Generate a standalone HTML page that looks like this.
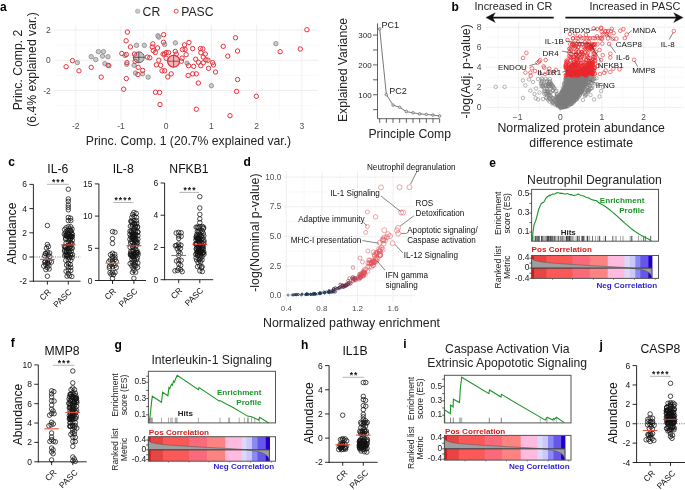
<!DOCTYPE html>
<html><head><meta charset="utf-8"><style>
html,body{margin:0;padding:0;background:#fff;}
svg{display:block;font-family:"Liberation Sans",sans-serif;will-change:transform;}
</style></head><body>
<svg width="685" height="490" viewBox="0 0 685 490">
<rect width="685" height="490" fill="#fff"/>
<line x1="98.4" y1="25" x2="98.4" y2="119.8" stroke="#e8e8e8" stroke-width="0.6" stroke-dasharray="1 1.2"/>
<line x1="143.6" y1="25" x2="143.6" y2="119.8" stroke="#e8e8e8" stroke-width="0.6" stroke-dasharray="1 1.2"/>
<line x1="188.8" y1="25" x2="188.8" y2="119.8" stroke="#e8e8e8" stroke-width="0.6" stroke-dasharray="1 1.2"/>
<line x1="234" y1="25" x2="234" y2="119.8" stroke="#e8e8e8" stroke-width="0.6" stroke-dasharray="1 1.2"/>
<line x1="279.2" y1="25" x2="279.2" y2="119.8" stroke="#e8e8e8" stroke-width="0.6" stroke-dasharray="1 1.2"/>
<line x1="54" y1="45.2" x2="318" y2="45.2" stroke="#e8e8e8" stroke-width="0.6" stroke-dasharray="1 1.2"/>
<line x1="54" y1="75.4" x2="318" y2="75.4" stroke="#e8e8e8" stroke-width="0.6" stroke-dasharray="1 1.2"/>
<line x1="54" y1="105.6" x2="318" y2="105.6" stroke="#e8e8e8" stroke-width="0.6" stroke-dasharray="1 1.2"/>
<line x1="75.8" y1="25" x2="75.8" y2="119.8" stroke="#ebebeb" stroke-width="0.8"/>
<line x1="121" y1="25" x2="121" y2="119.8" stroke="#ebebeb" stroke-width="0.8"/>
<line x1="166.2" y1="25" x2="166.2" y2="119.8" stroke="#ebebeb" stroke-width="0.8"/>
<line x1="211.4" y1="25" x2="211.4" y2="119.8" stroke="#ebebeb" stroke-width="0.8"/>
<line x1="256.6" y1="25" x2="256.6" y2="119.8" stroke="#ebebeb" stroke-width="0.8"/>
<line x1="301.8" y1="25" x2="301.8" y2="119.8" stroke="#ebebeb" stroke-width="0.8"/>
<line x1="54" y1="30.1" x2="318" y2="30.1" stroke="#ebebeb" stroke-width="0.8"/>
<line x1="54" y1="60.3" x2="318" y2="60.3" stroke="#ebebeb" stroke-width="0.8"/>
<line x1="54" y1="90.5" x2="318" y2="90.5" stroke="#ebebeb" stroke-width="0.8"/>
<text x="50.8" y="33.1" font-size="8.5" text-anchor="end" fill="#4d4d4d">2</text>
<text x="50.8" y="63.3" font-size="8.5" text-anchor="end" fill="#4d4d4d">0</text>
<text x="50.8" y="93.5" font-size="8.5" text-anchor="end" fill="#4d4d4d">-2</text>
<text x="75.8" y="129.1" font-size="8.5" text-anchor="middle" fill="#4d4d4d">-2</text>
<text x="121" y="129.1" font-size="8.5" text-anchor="middle" fill="#4d4d4d">-1</text>
<text x="166.2" y="129.1" font-size="8.5" text-anchor="middle" fill="#4d4d4d">0</text>
<text x="211.4" y="129.1" font-size="8.5" text-anchor="middle" fill="#4d4d4d">1</text>
<text x="256.6" y="129.1" font-size="8.5" text-anchor="middle" fill="#4d4d4d">2</text>
<text x="301.8" y="129.1" font-size="8.5" text-anchor="middle" fill="#4d4d4d">3</text>
<text x="188.5" y="145.1" font-size="12.2" text-anchor="middle" fill="#222">Princ. Comp. 1 (20.7% explained var.)</text>
<text x="22.1" y="70" font-size="12.2" text-anchor="middle" fill="#222" transform="rotate(-90 22.1 70)">Princ. Comp. 2</text>
<text x="36.2" y="69.5" font-size="12.2" text-anchor="middle" fill="#222" transform="rotate(-90 36.2 69.5)">(6.4% explained var.)</text>
<path d="M135.4 11.2a2.3 2.3 0 1 0 4.6 0a2.3 2.3 0 1 0 -4.6 0" fill="#c6c6c6" stroke="#a8a8a8" stroke-width="0.6"/>
<text x="142.6" y="15.5" font-size="12.2" fill="#222">CR</text>
<path d="M174.2 11.2a2 2 0 1 0 4 0a2 2 0 1 0 -4 0" fill="none" stroke="#ec2f3a" stroke-width="0.9"/>
<text x="181.2" y="15.5" font-size="12.2" fill="#222">PASC</text>
<text x="0" y="11.4" font-size="12" font-weight="bold">a</text>
<path d="M133.3 57.3a5.5 5.5 0 1 0 11 0a5.5 5.5 0 1 0 -11 0" fill="#c4c4c4" stroke="#5a5a5a" stroke-width="0.9"/>
<line x1="133.3" y1="57.3" x2="144.3" y2="57.3" stroke="#333" stroke-width="0.7"/>
<line x1="138.8" y1="51.8" x2="138.8" y2="62.8" stroke="#333" stroke-width="0.7"/>
<path d="M167.6 61.2a6 6 0 1 0 12 0a6 6 0 1 0 -12 0" fill="#f6b3b7" stroke="#e8212b" stroke-width="1.1"/>
<line x1="167.6" y1="61.2" x2="179.6" y2="61.2" stroke="#6b2326" stroke-width="0.7"/>
<line x1="173.6" y1="55.2" x2="173.6" y2="67.2" stroke="#6b2326" stroke-width="0.7"/>
<path d="M75.15 62.64a2.2 2.2 0 1 0 4.4 0a2.2 2.2 0 1 0 -4.4 0M89.02 56.73a2.2 2.2 0 1 0 4.4 0a2.2 2.2 0 1 0 -4.4 0M93.51 59.58a2.2 2.2 0 1 0 4.4 0a2.2 2.2 0 1 0 -4.4 0M96.17 51.62a2.2 2.2 0 1 0 4.4 0a2.2 2.2 0 1 0 -4.4 0M101.27 51.62a2.2 2.2 0 1 0 4.4 0a2.2 2.2 0 1 0 -4.4 0M100.25 56.11a2.2 2.2 0 1 0 4.4 0a2.2 2.2 0 1 0 -4.4 0M105.76 56.73a2.2 2.2 0 1 0 4.4 0a2.2 2.2 0 1 0 -4.4 0M102.7 63.67a2.2 2.2 0 1 0 4.4 0a2.2 2.2 0 1 0 -4.4 0M106.78 65.71a2.2 2.2 0 1 0 4.4 0a2.2 2.2 0 1 0 -4.4 0M122.7 55.5a2.2 2.2 0 1 0 4.4 0a2.2 2.2 0 1 0 -4.4 0M124.53 64.28a2.2 2.2 0 1 0 4.4 0a2.2 2.2 0 1 0 -4.4 0M134.33 45.3a2.2 2.2 0 1 0 4.4 0a2.2 2.2 0 1 0 -4.4 0M142.09 45.3a2.2 2.2 0 1 0 4.4 0a2.2 2.2 0 1 0 -4.4 0M131.88 65.3a2.2 2.2 0 1 0 4.4 0a2.2 2.2 0 1 0 -4.4 0M133.31 73.05a2.2 2.2 0 1 0 4.4 0a2.2 2.2 0 1 0 -4.4 0M140.45 73.87a2.2 2.2 0 1 0 4.4 0a2.2 2.2 0 1 0 -4.4 0M145.96 77.13a2.2 2.2 0 1 0 4.4 0a2.2 2.2 0 1 0 -4.4 0M155.76 35.71a2.2 2.2 0 1 0 4.4 0a2.2 2.2 0 1 0 -4.4 0M156.58 37.13a2.2 2.2 0 1 0 4.4 0a2.2 2.2 0 1 0 -4.4 0M162.49 44.48a2.2 2.2 0 1 0 4.4 0a2.2 2.2 0 1 0 -4.4 0M173.11 42.85a2.2 2.2 0 1 0 4.4 0a2.2 2.2 0 1 0 -4.4 0M184.9 63.3a2.2 2.2 0 1 0 4.4 0a2.2 2.2 0 1 0 -4.4 0M209.2 85.7a2.2 2.2 0 1 0 4.4 0a2.2 2.2 0 1 0 -4.4 0M273.7 43.7a2.2 2.2 0 1 0 4.4 0a2.2 2.2 0 1 0 -4.4 0" fill="#cbcbcb" stroke="#8a8a8a" stroke-width="0.85"/>
<path d="M63.92 66.73a2.2 2.2 0 1 0 4.4 0a2.2 2.2 0 1 0 -4.4 0M70.25 60.6a2.2 2.2 0 1 0 4.4 0a2.2 2.2 0 1 0 -4.4 0M76.78 70.81a2.2 2.2 0 1 0 4.4 0a2.2 2.2 0 1 0 -4.4 0M89.02 67.34a2.2 2.2 0 1 0 4.4 0a2.2 2.2 0 1 0 -4.4 0M99.02 77.13a2.2 2.2 0 1 0 4.4 0a2.2 2.2 0 1 0 -4.4 0M105.96 65.3a2.2 2.2 0 1 0 4.4 0a2.2 2.2 0 1 0 -4.4 0M125.15 32.03a2.2 2.2 0 1 0 4.4 0a2.2 2.2 0 1 0 -4.4 0M123.92 40.81a2.2 2.2 0 1 0 4.4 0a2.2 2.2 0 1 0 -4.4 0M128.21 46.93a2.2 2.2 0 1 0 4.4 0a2.2 2.2 0 1 0 -4.4 0M119.64 53.46a2.2 2.2 0 1 0 4.4 0a2.2 2.2 0 1 0 -4.4 0M124.13 54.48a2.2 2.2 0 1 0 4.4 0a2.2 2.2 0 1 0 -4.4 0M124.74 62.64a2.2 2.2 0 1 0 4.4 0a2.2 2.2 0 1 0 -4.4 0M124.13 78.56a2.2 2.2 0 1 0 4.4 0a2.2 2.2 0 1 0 -4.4 0M121.47 89.18a2.2 2.2 0 1 0 4.4 0a2.2 2.2 0 1 0 -4.4 0M132.29 54.07a2.2 2.2 0 1 0 4.4 0a2.2 2.2 0 1 0 -4.4 0M132.9 61.22a2.2 2.2 0 1 0 4.4 0a2.2 2.2 0 1 0 -4.4 0M135.96 67.34a2.2 2.2 0 1 0 4.4 0a2.2 2.2 0 1 0 -4.4 0M140.45 70.4a2.2 2.2 0 1 0 4.4 0a2.2 2.2 0 1 0 -4.4 0M135.76 74.48a2.2 2.2 0 1 0 4.4 0a2.2 2.2 0 1 0 -4.4 0M145.15 57.13a2.2 2.2 0 1 0 4.4 0a2.2 2.2 0 1 0 -4.4 0M147.6 57.75a2.2 2.2 0 1 0 4.4 0a2.2 2.2 0 1 0 -4.4 0M150.66 43.87a2.2 2.2 0 1 0 4.4 0a2.2 2.2 0 1 0 -4.4 0M150.04 46.93a2.2 2.2 0 1 0 4.4 0a2.2 2.2 0 1 0 -4.4 0M155.35 47.95a2.2 2.2 0 1 0 4.4 0a2.2 2.2 0 1 0 -4.4 0M153.11 52.44a2.2 2.2 0 1 0 4.4 0a2.2 2.2 0 1 0 -4.4 0M151.07 50.6a2.2 2.2 0 1 0 4.4 0a2.2 2.2 0 1 0 -4.4 0M161.47 34.69a2.2 2.2 0 1 0 4.4 0a2.2 2.2 0 1 0 -4.4 0M161.27 42.24a2.2 2.2 0 1 0 4.4 0a2.2 2.2 0 1 0 -4.4 0M156.58 60.2a2.2 2.2 0 1 0 4.4 0a2.2 2.2 0 1 0 -4.4 0M154.13 64.89a2.2 2.2 0 1 0 4.4 0a2.2 2.2 0 1 0 -4.4 0M158.41 65.3a2.2 2.2 0 1 0 4.4 0a2.2 2.2 0 1 0 -4.4 0M159.84 70.81a2.2 2.2 0 1 0 4.4 0a2.2 2.2 0 1 0 -4.4 0M162.49 70.81a2.2 2.2 0 1 0 4.4 0a2.2 2.2 0 1 0 -4.4 0M165.56 76.93a2.2 2.2 0 1 0 4.4 0a2.2 2.2 0 1 0 -4.4 0M169.02 73.87a2.2 2.2 0 1 0 4.4 0a2.2 2.2 0 1 0 -4.4 0M153.31 92.24a2.2 2.2 0 1 0 4.4 0a2.2 2.2 0 1 0 -4.4 0M157.39 92.44a2.2 2.2 0 1 0 4.4 0a2.2 2.2 0 1 0 -4.4 0M157.8 104.48a2.2 2.2 0 1 0 4.4 0a2.2 2.2 0 1 0 -4.4 0M160.86 54.07a2.2 2.2 0 1 0 4.4 0a2.2 2.2 0 1 0 -4.4 0M163.92 52.64a2.2 2.2 0 1 0 4.4 0a2.2 2.2 0 1 0 -4.4 0M166.37 52.64a2.2 2.2 0 1 0 4.4 0a2.2 2.2 0 1 0 -4.4 0M173.11 51.42a2.2 2.2 0 1 0 4.4 0a2.2 2.2 0 1 0 -4.4 0M174.13 54.07a2.2 2.2 0 1 0 4.4 0a2.2 2.2 0 1 0 -4.4 0M163.92 58.16a2.2 2.2 0 1 0 4.4 0a2.2 2.2 0 1 0 -4.4 0M162.29 54.07a2.2 2.2 0 1 0 4.4 0a2.2 2.2 0 1 0 -4.4 0M182.29 44.89a2.2 2.2 0 1 0 4.4 0a2.2 2.2 0 1 0 -4.4 0M186.78 42.44a2.2 2.2 0 1 0 4.4 0a2.2 2.2 0 1 0 -4.4 0M180.25 49.58a2.2 2.2 0 1 0 4.4 0a2.2 2.2 0 1 0 -4.4 0M182.9 49.38a2.2 2.2 0 1 0 4.4 0a2.2 2.2 0 1 0 -4.4 0M183.92 54.69a2.2 2.2 0 1 0 4.4 0a2.2 2.2 0 1 0 -4.4 0M179.84 58.16a2.2 2.2 0 1 0 4.4 0a2.2 2.2 0 1 0 -4.4 0M179.23 61.22a2.2 2.2 0 1 0 4.4 0a2.2 2.2 0 1 0 -4.4 0M190.45 48.56a2.2 2.2 0 1 0 4.4 0a2.2 2.2 0 1 0 -4.4 0M186.37 65.71a2.2 2.2 0 1 0 4.4 0a2.2 2.2 0 1 0 -4.4 0M185.96 75.5a2.2 2.2 0 1 0 4.4 0a2.2 2.2 0 1 0 -4.4 0M190.45 73.87a2.2 2.2 0 1 0 4.4 0a2.2 2.2 0 1 0 -4.4 0M194.13 73.87a2.2 2.2 0 1 0 4.4 0a2.2 2.2 0 1 0 -4.4 0M191.47 66.32a2.2 2.2 0 1 0 4.4 0a2.2 2.2 0 1 0 -4.4 0M193.51 59.18a2.2 2.2 0 1 0 4.4 0a2.2 2.2 0 1 0 -4.4 0M196.17 62.24a2.2 2.2 0 1 0 4.4 0a2.2 2.2 0 1 0 -4.4 0M198.21 48.56a2.2 2.2 0 1 0 4.4 0a2.2 2.2 0 1 0 -4.4 0M200.66 48.97a2.2 2.2 0 1 0 4.4 0a2.2 2.2 0 1 0 -4.4 0M198.62 52.64a2.2 2.2 0 1 0 4.4 0a2.2 2.2 0 1 0 -4.4 0M203.11 54.07a2.2 2.2 0 1 0 4.4 0a2.2 2.2 0 1 0 -4.4 0M201.07 57.13a2.2 2.2 0 1 0 4.4 0a2.2 2.2 0 1 0 -4.4 0M203.72 59.79a2.2 2.2 0 1 0 4.4 0a2.2 2.2 0 1 0 -4.4 0M205.76 60.2a2.2 2.2 0 1 0 4.4 0a2.2 2.2 0 1 0 -4.4 0M201.07 62.85a2.2 2.2 0 1 0 4.4 0a2.2 2.2 0 1 0 -4.4 0M198.62 65.71a2.2 2.2 0 1 0 4.4 0a2.2 2.2 0 1 0 -4.4 0M206.37 68.36a2.2 2.2 0 1 0 4.4 0a2.2 2.2 0 1 0 -4.4 0M210.45 62.64a2.2 2.2 0 1 0 4.4 0a2.2 2.2 0 1 0 -4.4 0M211.27 64.89a2.2 2.2 0 1 0 4.4 0a2.2 2.2 0 1 0 -4.4 0M213.31 72.03a2.2 2.2 0 1 0 4.4 0a2.2 2.2 0 1 0 -4.4 0M196.17 83.05a2.2 2.2 0 1 0 4.4 0a2.2 2.2 0 1 0 -4.4 0M194.13 109.18a2.2 2.2 0 1 0 4.4 0a2.2 2.2 0 1 0 -4.4 0M221.07 46.32a2.2 2.2 0 1 0 4.4 0a2.2 2.2 0 1 0 -4.4 0M225.56 56.11a2.2 2.2 0 1 0 4.4 0a2.2 2.2 0 1 0 -4.4 0M233.31 37.75a2.2 2.2 0 1 0 4.4 0a2.2 2.2 0 1 0 -4.4 0M235.35 51.01a2.2 2.2 0 1 0 4.4 0a2.2 2.2 0 1 0 -4.4 0M235.35 79.58a2.2 2.2 0 1 0 4.4 0a2.2 2.2 0 1 0 -4.4 0M234.33 91.42a2.2 2.2 0 1 0 4.4 0a2.2 2.2 0 1 0 -4.4 0M227.8 115.71a2.2 2.2 0 1 0 4.4 0a2.2 2.2 0 1 0 -4.4 0M254.13 96.32a2.2 2.2 0 1 0 4.4 0a2.2 2.2 0 1 0 -4.4 0M304.7 29.7a2.2 2.2 0 1 0 4.4 0a2.2 2.2 0 1 0 -4.4 0M298.1 49a2.2 2.2 0 1 0 4.4 0a2.2 2.2 0 1 0 -4.4 0M277.9 51.7a2.2 2.2 0 1 0 4.4 0a2.2 2.2 0 1 0 -4.4 0" fill="none" stroke="#ec2f3a" stroke-width="1"/>
<line x1="377.5" y1="23.4" x2="377.5" y2="118.7" stroke="#3a3a3a" stroke-width="0.8"/>
<line x1="377.5" y1="118.7" x2="439.6" y2="118.7" stroke="#3a3a3a" stroke-width="0.8"/>
<line x1="373" y1="109.67" x2="377.5" y2="109.67" stroke="#3a3a3a" stroke-width="0.8"/>
<line x1="373" y1="94.75" x2="377.5" y2="94.75" stroke="#3a3a3a" stroke-width="0.8"/>
<line x1="373" y1="79.82" x2="377.5" y2="79.82" stroke="#3a3a3a" stroke-width="0.8"/>
<line x1="373" y1="64.9" x2="377.5" y2="64.9" stroke="#3a3a3a" stroke-width="0.8"/>
<line x1="373" y1="49.97" x2="377.5" y2="49.97" stroke="#3a3a3a" stroke-width="0.8"/>
<line x1="373" y1="35.05" x2="377.5" y2="35.05" stroke="#3a3a3a" stroke-width="0.8"/>
<text x="371.6" y="97.65" font-size="8" text-anchor="end" fill="#222">100</text>
<text x="371.6" y="67.8" font-size="8" text-anchor="end" fill="#222">200</text>
<text x="371.6" y="37.95" font-size="8" text-anchor="end" fill="#222">300</text>
<line x1="379.7" y1="118.7" x2="379.7" y2="122.9" stroke="#3a3a3a" stroke-width="0.8"/>
<line x1="386.36" y1="118.7" x2="386.36" y2="122.9" stroke="#3a3a3a" stroke-width="0.8"/>
<line x1="393.02" y1="118.7" x2="393.02" y2="122.9" stroke="#3a3a3a" stroke-width="0.8"/>
<line x1="399.68" y1="118.7" x2="399.68" y2="122.9" stroke="#3a3a3a" stroke-width="0.8"/>
<line x1="406.34" y1="118.7" x2="406.34" y2="122.9" stroke="#3a3a3a" stroke-width="0.8"/>
<line x1="413" y1="118.7" x2="413" y2="122.9" stroke="#3a3a3a" stroke-width="0.8"/>
<line x1="419.66" y1="118.7" x2="419.66" y2="122.9" stroke="#3a3a3a" stroke-width="0.8"/>
<line x1="426.32" y1="118.7" x2="426.32" y2="122.9" stroke="#3a3a3a" stroke-width="0.8"/>
<line x1="432.98" y1="118.7" x2="432.98" y2="122.9" stroke="#3a3a3a" stroke-width="0.8"/>
<line x1="439.64" y1="118.7" x2="439.64" y2="122.9" stroke="#3a3a3a" stroke-width="0.8"/>
<path d="M379.7 28.9L386.36 94.7L393.02 105.1L399.68 107.3L406.34 111.6L413 112.8L419.66 113.9L426.32 114.4L432.98 115.1L439.64 116" fill="none" stroke="#555" stroke-width="0.8"/>
<path d="M378.4 28.9a1.3 1.3 0 1 0 2.6 0a1.3 1.3 0 1 0 -2.6 0M385.06 94.7a1.3 1.3 0 1 0 2.6 0a1.3 1.3 0 1 0 -2.6 0M391.72 105.1a1.3 1.3 0 1 0 2.6 0a1.3 1.3 0 1 0 -2.6 0M398.38 107.3a1.3 1.3 0 1 0 2.6 0a1.3 1.3 0 1 0 -2.6 0M405.04 111.6a1.3 1.3 0 1 0 2.6 0a1.3 1.3 0 1 0 -2.6 0M411.7 112.8a1.3 1.3 0 1 0 2.6 0a1.3 1.3 0 1 0 -2.6 0M418.36 113.9a1.3 1.3 0 1 0 2.6 0a1.3 1.3 0 1 0 -2.6 0M425.02 114.4a1.3 1.3 0 1 0 2.6 0a1.3 1.3 0 1 0 -2.6 0M431.68 115.1a1.3 1.3 0 1 0 2.6 0a1.3 1.3 0 1 0 -2.6 0M438.34 116a1.3 1.3 0 1 0 2.6 0a1.3 1.3 0 1 0 -2.6 0" fill="#ddd" stroke="#555" stroke-width="0.6"/>
<text x="381.4" y="27.6" font-size="9" fill="#222">PC1</text>
<text x="389.2" y="93.5" font-size="9" fill="#222">PC2</text>
<text x="346.6" y="70" font-size="12.2" text-anchor="middle" fill="#222" transform="rotate(-90 346.6 70)">Explained Variance</text>
<text x="368.4" y="137.6" font-size="12.2" fill="#222">Principle Comp</text>
<line x1="497.9" y1="22" x2="497.9" y2="112" stroke="#e8e8e8" stroke-width="0.6" stroke-dasharray="1 1.2"/>
<line x1="539.5" y1="22" x2="539.5" y2="112" stroke="#e8e8e8" stroke-width="0.6" stroke-dasharray="1 1.2"/>
<line x1="581.1" y1="22" x2="581.1" y2="112" stroke="#e8e8e8" stroke-width="0.6" stroke-dasharray="1 1.2"/>
<line x1="622.7" y1="22" x2="622.7" y2="112" stroke="#e8e8e8" stroke-width="0.6" stroke-dasharray="1 1.2"/>
<line x1="664.3" y1="22" x2="664.3" y2="112" stroke="#e8e8e8" stroke-width="0.6" stroke-dasharray="1 1.2"/>
<line x1="486" y1="97.37" x2="684" y2="97.37" stroke="#e8e8e8" stroke-width="0.6" stroke-dasharray="1 1.2"/>
<line x1="486" y1="77.31" x2="684" y2="77.31" stroke="#e8e8e8" stroke-width="0.6" stroke-dasharray="1 1.2"/>
<line x1="486" y1="57.25" x2="684" y2="57.25" stroke="#e8e8e8" stroke-width="0.6" stroke-dasharray="1 1.2"/>
<line x1="486" y1="37.19" x2="684" y2="37.19" stroke="#e8e8e8" stroke-width="0.6" stroke-dasharray="1 1.2"/>
<line x1="518.7" y1="22" x2="518.7" y2="112" stroke="#ebebeb" stroke-width="0.8"/>
<line x1="560.3" y1="22" x2="560.3" y2="112" stroke="#ebebeb" stroke-width="0.8"/>
<line x1="601.9" y1="22" x2="601.9" y2="112" stroke="#ebebeb" stroke-width="0.8"/>
<line x1="643.5" y1="22" x2="643.5" y2="112" stroke="#ebebeb" stroke-width="0.8"/>
<line x1="486" y1="107.4" x2="684" y2="107.4" stroke="#ebebeb" stroke-width="0.8"/>
<line x1="486" y1="87.34" x2="684" y2="87.34" stroke="#ebebeb" stroke-width="0.8"/>
<line x1="486" y1="67.28" x2="684" y2="67.28" stroke="#ebebeb" stroke-width="0.8"/>
<line x1="486" y1="47.22" x2="684" y2="47.22" stroke="#ebebeb" stroke-width="0.8"/>
<line x1="486" y1="27.16" x2="684" y2="27.16" stroke="#ebebeb" stroke-width="0.8"/>
<text x="481.6" y="110.4" font-size="8.5" text-anchor="end" fill="#4d4d4d">0</text>
<text x="481.6" y="90.34" font-size="8.5" text-anchor="end" fill="#4d4d4d">2</text>
<text x="481.6" y="70.28" font-size="8.5" text-anchor="end" fill="#4d4d4d">4</text>
<text x="481.6" y="50.22" font-size="8.5" text-anchor="end" fill="#4d4d4d">6</text>
<text x="481.6" y="30.16" font-size="8.5" text-anchor="end" fill="#4d4d4d">8</text>
<text x="517.7" y="120.2" font-size="8.5" text-anchor="middle" fill="#4d4d4d">−1</text>
<text x="560.3" y="120.2" font-size="8.5" text-anchor="middle" fill="#4d4d4d">0</text>
<text x="601.9" y="120.2" font-size="8.5" text-anchor="middle" fill="#4d4d4d">1</text>
<text x="643.5" y="120.2" font-size="8.5" text-anchor="middle" fill="#4d4d4d">2</text>
<text x="470.3" y="71.3" font-size="12.4" text-anchor="middle" fill="#222" transform="rotate(-90 470.3 71.3)">-log(Adj. p-value)</text>
<text x="581.2" y="131.8" font-size="12.3" text-anchor="middle" fill="#222">Normalized protein abundance</text>
<text x="581.2" y="146.7" font-size="12.3" text-anchor="middle" fill="#222">difference estimate</text>
<text x="451.4" y="11.3" font-size="12" font-weight="bold">b</text>
<text x="474.6" y="9.5" font-size="10.85" fill="#222">Increased in CR</text>
<text x="680.3" y="9.5" font-size="10.85" text-anchor="end" fill="#222">Increased in PASC</text>
<line x1="491" y1="17.6" x2="553.7" y2="17.6" stroke="#111" stroke-width="1.7"/>
<path d="M486 17.6L495.2 12.8L492.6 17.6L495.2 22.4Z" fill="#111" stroke="#111" stroke-width="0.4"/>
<line x1="565.4" y1="17.6" x2="678" y2="17.6" stroke="#111" stroke-width="1.7"/>
<path d="M683 17.6L673.8 12.8L676.4 17.6L673.8 22.4Z" fill="#111" stroke="#111" stroke-width="0.4"/>
<path d="M561 106.5L566 105.5L573 101.3L578.3 95.6L582.6 87.8L585.8 78.3L566.6 78.3L565.2 84.3L562.6 93.5L559 97L558 102Z" fill="#7b7b7b" stroke="none" stroke-width="1"/>
<path d="M579.07 84.03a1.75 1.75 0 1 0 3.5 0a1.75 1.75 0 1 0 -3.5 0M563.86 104.25a1.75 1.75 0 1 0 3.5 0a1.75 1.75 0 1 0 -3.5 0M579.76 91.6a1.75 1.75 0 1 0 3.5 0a1.75 1.75 0 1 0 -3.5 0M563.95 85.69a1.75 1.75 0 1 0 3.5 0a1.75 1.75 0 1 0 -3.5 0M562.41 90.89a1.75 1.75 0 1 0 3.5 0a1.75 1.75 0 1 0 -3.5 0M570.4 94.27a1.75 1.75 0 1 0 3.5 0a1.75 1.75 0 1 0 -3.5 0M573.85 78.37a1.75 1.75 0 1 0 3.5 0a1.75 1.75 0 1 0 -3.5 0M574.39 93.04a1.75 1.75 0 1 0 3.5 0a1.75 1.75 0 1 0 -3.5 0M570.15 84.72a1.75 1.75 0 1 0 3.5 0a1.75 1.75 0 1 0 -3.5 0M576.4 83.26a1.75 1.75 0 1 0 3.5 0a1.75 1.75 0 1 0 -3.5 0M566.08 77.12a1.75 1.75 0 1 0 3.5 0a1.75 1.75 0 1 0 -3.5 0M580.81 81.82a1.75 1.75 0 1 0 3.5 0a1.75 1.75 0 1 0 -3.5 0M562.81 104.47a1.75 1.75 0 1 0 3.5 0a1.75 1.75 0 1 0 -3.5 0M570.56 103.43a1.75 1.75 0 1 0 3.5 0a1.75 1.75 0 1 0 -3.5 0M565.81 95.66a1.75 1.75 0 1 0 3.5 0a1.75 1.75 0 1 0 -3.5 0M564.59 81.69a1.75 1.75 0 1 0 3.5 0a1.75 1.75 0 1 0 -3.5 0M580.37 88.84a1.75 1.75 0 1 0 3.5 0a1.75 1.75 0 1 0 -3.5 0M573.61 96.91a1.75 1.75 0 1 0 3.5 0a1.75 1.75 0 1 0 -3.5 0M575.9 81.7a1.75 1.75 0 1 0 3.5 0a1.75 1.75 0 1 0 -3.5 0M568.34 84.47a1.75 1.75 0 1 0 3.5 0a1.75 1.75 0 1 0 -3.5 0M567.13 80.02a1.75 1.75 0 1 0 3.5 0a1.75 1.75 0 1 0 -3.5 0M575.75 86.37a1.75 1.75 0 1 0 3.5 0a1.75 1.75 0 1 0 -3.5 0M558.46 103.37a1.75 1.75 0 1 0 3.5 0a1.75 1.75 0 1 0 -3.5 0M572.48 81.54a1.75 1.75 0 1 0 3.5 0a1.75 1.75 0 1 0 -3.5 0M560.41 105.95a1.75 1.75 0 1 0 3.5 0a1.75 1.75 0 1 0 -3.5 0M571.92 82.63a1.75 1.75 0 1 0 3.5 0a1.75 1.75 0 1 0 -3.5 0M572.48 88.74a1.75 1.75 0 1 0 3.5 0a1.75 1.75 0 1 0 -3.5 0M567.4 84.47a1.75 1.75 0 1 0 3.5 0a1.75 1.75 0 1 0 -3.5 0M555.47 104.34a1.75 1.75 0 1 0 3.5 0a1.75 1.75 0 1 0 -3.5 0M569.22 94.09a1.75 1.75 0 1 0 3.5 0a1.75 1.75 0 1 0 -3.5 0M564.56 100.44a1.75 1.75 0 1 0 3.5 0a1.75 1.75 0 1 0 -3.5 0M567.95 93.34a1.75 1.75 0 1 0 3.5 0a1.75 1.75 0 1 0 -3.5 0M582.18 87.74a1.75 1.75 0 1 0 3.5 0a1.75 1.75 0 1 0 -3.5 0M573.14 98.33a1.75 1.75 0 1 0 3.5 0a1.75 1.75 0 1 0 -3.5 0M565.62 93.2a1.75 1.75 0 1 0 3.5 0a1.75 1.75 0 1 0 -3.5 0M559.08 106.12a1.75 1.75 0 1 0 3.5 0a1.75 1.75 0 1 0 -3.5 0M580.19 81.27a1.75 1.75 0 1 0 3.5 0a1.75 1.75 0 1 0 -3.5 0M567.65 102.44a1.75 1.75 0 1 0 3.5 0a1.75 1.75 0 1 0 -3.5 0M577.48 84.06a1.75 1.75 0 1 0 3.5 0a1.75 1.75 0 1 0 -3.5 0M565.13 85.47a1.75 1.75 0 1 0 3.5 0a1.75 1.75 0 1 0 -3.5 0M578.02 95.12a1.75 1.75 0 1 0 3.5 0a1.75 1.75 0 1 0 -3.5 0M567.9 104.4a1.75 1.75 0 1 0 3.5 0a1.75 1.75 0 1 0 -3.5 0M562.28 102.15a1.75 1.75 0 1 0 3.5 0a1.75 1.75 0 1 0 -3.5 0M564.9 89.43a1.75 1.75 0 1 0 3.5 0a1.75 1.75 0 1 0 -3.5 0M561.06 105.56a1.75 1.75 0 1 0 3.5 0a1.75 1.75 0 1 0 -3.5 0M581.14 80.51a1.75 1.75 0 1 0 3.5 0a1.75 1.75 0 1 0 -3.5 0M573.57 91.95a1.75 1.75 0 1 0 3.5 0a1.75 1.75 0 1 0 -3.5 0M573.28 97.57a1.75 1.75 0 1 0 3.5 0a1.75 1.75 0 1 0 -3.5 0M564.06 106.99a1.75 1.75 0 1 0 3.5 0a1.75 1.75 0 1 0 -3.5 0M569.16 96.6a1.75 1.75 0 1 0 3.5 0a1.75 1.75 0 1 0 -3.5 0M574.58 82.74a1.75 1.75 0 1 0 3.5 0a1.75 1.75 0 1 0 -3.5 0M577.61 80.53a1.75 1.75 0 1 0 3.5 0a1.75 1.75 0 1 0 -3.5 0M583.55 78.46a1.75 1.75 0 1 0 3.5 0a1.75 1.75 0 1 0 -3.5 0M562.34 84.76a1.75 1.75 0 1 0 3.5 0a1.75 1.75 0 1 0 -3.5 0M560.25 94.69a1.75 1.75 0 1 0 3.5 0a1.75 1.75 0 1 0 -3.5 0M559.56 98.15a1.75 1.75 0 1 0 3.5 0a1.75 1.75 0 1 0 -3.5 0M573.79 82.97a1.75 1.75 0 1 0 3.5 0a1.75 1.75 0 1 0 -3.5 0M572.63 78.24a1.75 1.75 0 1 0 3.5 0a1.75 1.75 0 1 0 -3.5 0M581.58 78.58a1.75 1.75 0 1 0 3.5 0a1.75 1.75 0 1 0 -3.5 0M565.09 86.92a1.75 1.75 0 1 0 3.5 0a1.75 1.75 0 1 0 -3.5 0M557.86 96.55a1.75 1.75 0 1 0 3.5 0a1.75 1.75 0 1 0 -3.5 0M579.77 86.79a1.75 1.75 0 1 0 3.5 0a1.75 1.75 0 1 0 -3.5 0M558.38 100.93a1.75 1.75 0 1 0 3.5 0a1.75 1.75 0 1 0 -3.5 0M582.49 83.16a1.75 1.75 0 1 0 3.5 0a1.75 1.75 0 1 0 -3.5 0M572.61 96.93a1.75 1.75 0 1 0 3.5 0a1.75 1.75 0 1 0 -3.5 0M573.75 80a1.75 1.75 0 1 0 3.5 0a1.75 1.75 0 1 0 -3.5 0M575.41 96.72a1.75 1.75 0 1 0 3.5 0a1.75 1.75 0 1 0 -3.5 0M564.72 99.53a1.75 1.75 0 1 0 3.5 0a1.75 1.75 0 1 0 -3.5 0M575.08 83.7a1.75 1.75 0 1 0 3.5 0a1.75 1.75 0 1 0 -3.5 0M566.39 84.89a1.75 1.75 0 1 0 3.5 0a1.75 1.75 0 1 0 -3.5 0M568.86 97.51a1.75 1.75 0 1 0 3.5 0a1.75 1.75 0 1 0 -3.5 0M558.53 97.67a1.75 1.75 0 1 0 3.5 0a1.75 1.75 0 1 0 -3.5 0M580.83 88.76a1.75 1.75 0 1 0 3.5 0a1.75 1.75 0 1 0 -3.5 0M566.15 93.83a1.75 1.75 0 1 0 3.5 0a1.75 1.75 0 1 0 -3.5 0M564.81 91.27a1.75 1.75 0 1 0 3.5 0a1.75 1.75 0 1 0 -3.5 0M556.86 100.49a1.75 1.75 0 1 0 3.5 0a1.75 1.75 0 1 0 -3.5 0M572.78 86.35a1.75 1.75 0 1 0 3.5 0a1.75 1.75 0 1 0 -3.5 0M556.73 100.81a1.75 1.75 0 1 0 3.5 0a1.75 1.75 0 1 0 -3.5 0M564.06 102.98a1.75 1.75 0 1 0 3.5 0a1.75 1.75 0 1 0 -3.5 0M574.09 82.84a1.75 1.75 0 1 0 3.5 0a1.75 1.75 0 1 0 -3.5 0M568.16 104.58a1.75 1.75 0 1 0 3.5 0a1.75 1.75 0 1 0 -3.5 0M566.26 99.18a1.75 1.75 0 1 0 3.5 0a1.75 1.75 0 1 0 -3.5 0M557.35 99.69a1.75 1.75 0 1 0 3.5 0a1.75 1.75 0 1 0 -3.5 0M575.82 88.57a1.75 1.75 0 1 0 3.5 0a1.75 1.75 0 1 0 -3.5 0M578.49 82.95a1.75 1.75 0 1 0 3.5 0a1.75 1.75 0 1 0 -3.5 0M562.77 93.73a1.75 1.75 0 1 0 3.5 0a1.75 1.75 0 1 0 -3.5 0M579.12 89.32a1.75 1.75 0 1 0 3.5 0a1.75 1.75 0 1 0 -3.5 0M574.77 82.75a1.75 1.75 0 1 0 3.5 0a1.75 1.75 0 1 0 -3.5 0M577.33 90.88a1.75 1.75 0 1 0 3.5 0a1.75 1.75 0 1 0 -3.5 0M566.35 90.1a1.75 1.75 0 1 0 3.5 0a1.75 1.75 0 1 0 -3.5 0M555.32 103.34a1.75 1.75 0 1 0 3.5 0a1.75 1.75 0 1 0 -3.5 0M571.61 89.09a1.75 1.75 0 1 0 3.5 0a1.75 1.75 0 1 0 -3.5 0M571.79 99.52a1.75 1.75 0 1 0 3.5 0a1.75 1.75 0 1 0 -3.5 0M566.46 102.92a1.75 1.75 0 1 0 3.5 0a1.75 1.75 0 1 0 -3.5 0M558.66 100.72a1.75 1.75 0 1 0 3.5 0a1.75 1.75 0 1 0 -3.5 0M583.71 80.85a1.75 1.75 0 1 0 3.5 0a1.75 1.75 0 1 0 -3.5 0M572.65 90.92a1.75 1.75 0 1 0 3.5 0a1.75 1.75 0 1 0 -3.5 0M578.26 82.95a1.75 1.75 0 1 0 3.5 0a1.75 1.75 0 1 0 -3.5 0M583.51 83.78a1.75 1.75 0 1 0 3.5 0a1.75 1.75 0 1 0 -3.5 0M578.86 79.11a1.75 1.75 0 1 0 3.5 0a1.75 1.75 0 1 0 -3.5 0M569.4 78.02a1.75 1.75 0 1 0 3.5 0a1.75 1.75 0 1 0 -3.5 0M564.29 86.74a1.75 1.75 0 1 0 3.5 0a1.75 1.75 0 1 0 -3.5 0M577.28 91.2a1.75 1.75 0 1 0 3.5 0a1.75 1.75 0 1 0 -3.5 0M562.14 89.3a1.75 1.75 0 1 0 3.5 0a1.75 1.75 0 1 0 -3.5 0M560.13 97.9a1.75 1.75 0 1 0 3.5 0a1.75 1.75 0 1 0 -3.5 0M562.76 93.44a1.75 1.75 0 1 0 3.5 0a1.75 1.75 0 1 0 -3.5 0M563.3 93.1a1.75 1.75 0 1 0 3.5 0a1.75 1.75 0 1 0 -3.5 0M574.36 93.73a1.75 1.75 0 1 0 3.5 0a1.75 1.75 0 1 0 -3.5 0M566.91 101.67a1.75 1.75 0 1 0 3.5 0a1.75 1.75 0 1 0 -3.5 0M582.2 82.6a1.75 1.75 0 1 0 3.5 0a1.75 1.75 0 1 0 -3.5 0M561.63 107.26a1.75 1.75 0 1 0 3.5 0a1.75 1.75 0 1 0 -3.5 0M560.9 92.8a1.75 1.75 0 1 0 3.5 0a1.75 1.75 0 1 0 -3.5 0M573.45 79.07a1.75 1.75 0 1 0 3.5 0a1.75 1.75 0 1 0 -3.5 0M561.82 91.51a1.75 1.75 0 1 0 3.5 0a1.75 1.75 0 1 0 -3.5 0M563.9 82.23a1.75 1.75 0 1 0 3.5 0a1.75 1.75 0 1 0 -3.5 0M578.46 82.17a1.75 1.75 0 1 0 3.5 0a1.75 1.75 0 1 0 -3.5 0M564.79 106.22a1.75 1.75 0 1 0 3.5 0a1.75 1.75 0 1 0 -3.5 0M559.21 93.05a1.75 1.75 0 1 0 3.5 0a1.75 1.75 0 1 0 -3.5 0M563.27 102.02a1.75 1.75 0 1 0 3.5 0a1.75 1.75 0 1 0 -3.5 0M576.74 97.08a1.75 1.75 0 1 0 3.5 0a1.75 1.75 0 1 0 -3.5 0M567.53 98.59a1.75 1.75 0 1 0 3.5 0a1.75 1.75 0 1 0 -3.5 0M580.97 87.45a1.75 1.75 0 1 0 3.5 0a1.75 1.75 0 1 0 -3.5 0M575.68 83.52a1.75 1.75 0 1 0 3.5 0a1.75 1.75 0 1 0 -3.5 0M571.9 101a1.75 1.75 0 1 0 3.5 0a1.75 1.75 0 1 0 -3.5 0M556.34 99.71a1.75 1.75 0 1 0 3.5 0a1.75 1.75 0 1 0 -3.5 0M569.25 89.76a1.75 1.75 0 1 0 3.5 0a1.75 1.75 0 1 0 -3.5 0M577.3 93.33a1.75 1.75 0 1 0 3.5 0a1.75 1.75 0 1 0 -3.5 0M577.64 79.64a1.75 1.75 0 1 0 3.5 0a1.75 1.75 0 1 0 -3.5 0M572.26 94.41a1.75 1.75 0 1 0 3.5 0a1.75 1.75 0 1 0 -3.5 0M584.08 78.24a1.75 1.75 0 1 0 3.5 0a1.75 1.75 0 1 0 -3.5 0M568.74 96.69a1.75 1.75 0 1 0 3.5 0a1.75 1.75 0 1 0 -3.5 0M571.87 79.31a1.75 1.75 0 1 0 3.5 0a1.75 1.75 0 1 0 -3.5 0M573.23 83.93a1.75 1.75 0 1 0 3.5 0a1.75 1.75 0 1 0 -3.5 0M560.51 104.42a1.75 1.75 0 1 0 3.5 0a1.75 1.75 0 1 0 -3.5 0M560.58 91.17a1.75 1.75 0 1 0 3.5 0a1.75 1.75 0 1 0 -3.5 0M571.96 102.18a1.75 1.75 0 1 0 3.5 0a1.75 1.75 0 1 0 -3.5 0M569.16 96.36a1.75 1.75 0 1 0 3.5 0a1.75 1.75 0 1 0 -3.5 0M574.79 89.67a1.75 1.75 0 1 0 3.5 0a1.75 1.75 0 1 0 -3.5 0M572.12 89.36a1.75 1.75 0 1 0 3.5 0a1.75 1.75 0 1 0 -3.5 0M578.07 88.87a1.75 1.75 0 1 0 3.5 0a1.75 1.75 0 1 0 -3.5 0M569.18 100.57a1.75 1.75 0 1 0 3.5 0a1.75 1.75 0 1 0 -3.5 0M570.37 87.55a1.75 1.75 0 1 0 3.5 0a1.75 1.75 0 1 0 -3.5 0M580.71 88.89a1.75 1.75 0 1 0 3.5 0a1.75 1.75 0 1 0 -3.5 0M568.56 99.24a1.75 1.75 0 1 0 3.5 0a1.75 1.75 0 1 0 -3.5 0M572.1 97.74a1.75 1.75 0 1 0 3.5 0a1.75 1.75 0 1 0 -3.5 0M575.94 95.21a1.75 1.75 0 1 0 3.5 0a1.75 1.75 0 1 0 -3.5 0M567.71 82.72a1.75 1.75 0 1 0 3.5 0a1.75 1.75 0 1 0 -3.5 0M563.61 86.14a1.75 1.75 0 1 0 3.5 0a1.75 1.75 0 1 0 -3.5 0M565.53 90.96a1.75 1.75 0 1 0 3.5 0a1.75 1.75 0 1 0 -3.5 0M566.14 95.14a1.75 1.75 0 1 0 3.5 0a1.75 1.75 0 1 0 -3.5 0M566.32 85.33a1.75 1.75 0 1 0 3.5 0a1.75 1.75 0 1 0 -3.5 0M576.19 79.29a1.75 1.75 0 1 0 3.5 0a1.75 1.75 0 1 0 -3.5 0M581.98 86.76a1.75 1.75 0 1 0 3.5 0a1.75 1.75 0 1 0 -3.5 0M570.07 83.18a1.75 1.75 0 1 0 3.5 0a1.75 1.75 0 1 0 -3.5 0M567.7 102.84a1.75 1.75 0 1 0 3.5 0a1.75 1.75 0 1 0 -3.5 0M578.82 91.29a1.75 1.75 0 1 0 3.5 0a1.75 1.75 0 1 0 -3.5 0M566.2 94.03a1.75 1.75 0 1 0 3.5 0a1.75 1.75 0 1 0 -3.5 0M556.06 99.86a1.75 1.75 0 1 0 3.5 0a1.75 1.75 0 1 0 -3.5 0M580.41 90.89a1.75 1.75 0 1 0 3.5 0a1.75 1.75 0 1 0 -3.5 0M556.25 98.31a1.75 1.75 0 1 0 3.5 0a1.75 1.75 0 1 0 -3.5 0M562.13 97.07a1.75 1.75 0 1 0 3.5 0a1.75 1.75 0 1 0 -3.5 0M566.3 96.88a1.75 1.75 0 1 0 3.5 0a1.75 1.75 0 1 0 -3.5 0M562.51 91.87a1.75 1.75 0 1 0 3.5 0a1.75 1.75 0 1 0 -3.5 0M571.04 96.69a1.75 1.75 0 1 0 3.5 0a1.75 1.75 0 1 0 -3.5 0M560.75 107.02a1.75 1.75 0 1 0 3.5 0a1.75 1.75 0 1 0 -3.5 0M563.5 86.55a1.75 1.75 0 1 0 3.5 0a1.75 1.75 0 1 0 -3.5 0M567.78 101.08a1.75 1.75 0 1 0 3.5 0a1.75 1.75 0 1 0 -3.5 0M576.96 83.1a1.75 1.75 0 1 0 3.5 0a1.75 1.75 0 1 0 -3.5 0M578.83 92.23a1.75 1.75 0 1 0 3.5 0a1.75 1.75 0 1 0 -3.5 0M578.26 87.73a1.75 1.75 0 1 0 3.5 0a1.75 1.75 0 1 0 -3.5 0M562.47 90.65a1.75 1.75 0 1 0 3.5 0a1.75 1.75 0 1 0 -3.5 0M569.91 81.42a1.75 1.75 0 1 0 3.5 0a1.75 1.75 0 1 0 -3.5 0M568.37 96.96a1.75 1.75 0 1 0 3.5 0a1.75 1.75 0 1 0 -3.5 0M585.02 77.8a1.75 1.75 0 1 0 3.5 0a1.75 1.75 0 1 0 -3.5 0M569.43 77.47a1.75 1.75 0 1 0 3.5 0a1.75 1.75 0 1 0 -3.5 0M568.91 82.08a1.75 1.75 0 1 0 3.5 0a1.75 1.75 0 1 0 -3.5 0M562.88 101.72a1.75 1.75 0 1 0 3.5 0a1.75 1.75 0 1 0 -3.5 0M560.14 96.25a1.75 1.75 0 1 0 3.5 0a1.75 1.75 0 1 0 -3.5 0M567.25 90.03a1.75 1.75 0 1 0 3.5 0a1.75 1.75 0 1 0 -3.5 0M580.39 82.02a1.75 1.75 0 1 0 3.5 0a1.75 1.75 0 1 0 -3.5 0M575.64 78.54a1.75 1.75 0 1 0 3.5 0a1.75 1.75 0 1 0 -3.5 0M575.48 95.73a1.75 1.75 0 1 0 3.5 0a1.75 1.75 0 1 0 -3.5 0M578.96 83.67a1.75 1.75 0 1 0 3.5 0a1.75 1.75 0 1 0 -3.5 0M555.29 102.93a1.75 1.75 0 1 0 3.5 0a1.75 1.75 0 1 0 -3.5 0M573.83 97.78a1.75 1.75 0 1 0 3.5 0a1.75 1.75 0 1 0 -3.5 0M575.96 94.79a1.75 1.75 0 1 0 3.5 0a1.75 1.75 0 1 0 -3.5 0M564.99 93a1.75 1.75 0 1 0 3.5 0a1.75 1.75 0 1 0 -3.5 0M576.46 90.14a1.75 1.75 0 1 0 3.5 0a1.75 1.75 0 1 0 -3.5 0M565.02 79.42a1.75 1.75 0 1 0 3.5 0a1.75 1.75 0 1 0 -3.5 0M563.98 90.96a1.75 1.75 0 1 0 3.5 0a1.75 1.75 0 1 0 -3.5 0M576.73 81.04a1.75 1.75 0 1 0 3.5 0a1.75 1.75 0 1 0 -3.5 0M580.33 80.67a1.75 1.75 0 1 0 3.5 0a1.75 1.75 0 1 0 -3.5 0M570.76 78.1a1.75 1.75 0 1 0 3.5 0a1.75 1.75 0 1 0 -3.5 0M564.26 96.62a1.75 1.75 0 1 0 3.5 0a1.75 1.75 0 1 0 -3.5 0M568.8 103.91a1.75 1.75 0 1 0 3.5 0a1.75 1.75 0 1 0 -3.5 0M563.62 100.64a1.75 1.75 0 1 0 3.5 0a1.75 1.75 0 1 0 -3.5 0M566.35 99.62a1.75 1.75 0 1 0 3.5 0a1.75 1.75 0 1 0 -3.5 0M576.6 89.09a1.75 1.75 0 1 0 3.5 0a1.75 1.75 0 1 0 -3.5 0M577.09 83.39a1.75 1.75 0 1 0 3.5 0a1.75 1.75 0 1 0 -3.5 0M577.64 85.69a1.75 1.75 0 1 0 3.5 0a1.75 1.75 0 1 0 -3.5 0M569.27 103.83a1.75 1.75 0 1 0 3.5 0a1.75 1.75 0 1 0 -3.5 0M568.59 85.99a1.75 1.75 0 1 0 3.5 0a1.75 1.75 0 1 0 -3.5 0M564.03 79.4a1.75 1.75 0 1 0 3.5 0a1.75 1.75 0 1 0 -3.5 0M569.16 83.69a1.75 1.75 0 1 0 3.5 0a1.75 1.75 0 1 0 -3.5 0M562.99 94.85a1.75 1.75 0 1 0 3.5 0a1.75 1.75 0 1 0 -3.5 0M570.47 79.34a1.75 1.75 0 1 0 3.5 0a1.75 1.75 0 1 0 -3.5 0M558.25 104.61a1.75 1.75 0 1 0 3.5 0a1.75 1.75 0 1 0 -3.5 0M569.42 102.1a1.75 1.75 0 1 0 3.5 0a1.75 1.75 0 1 0 -3.5 0M566.06 100.71a1.75 1.75 0 1 0 3.5 0a1.75 1.75 0 1 0 -3.5 0M580.25 91.65a1.75 1.75 0 1 0 3.5 0a1.75 1.75 0 1 0 -3.5 0M564.49 78.3a1.75 1.75 0 1 0 3.5 0a1.75 1.75 0 1 0 -3.5 0M566.8 81.79a1.75 1.75 0 1 0 3.5 0a1.75 1.75 0 1 0 -3.5 0M574.96 87.1a1.75 1.75 0 1 0 3.5 0a1.75 1.75 0 1 0 -3.5 0M572.53 100.47a1.75 1.75 0 1 0 3.5 0a1.75 1.75 0 1 0 -3.5 0M571.87 83.18a1.75 1.75 0 1 0 3.5 0a1.75 1.75 0 1 0 -3.5 0M572.9 92.32a1.75 1.75 0 1 0 3.5 0a1.75 1.75 0 1 0 -3.5 0M559.56 96.32a1.75 1.75 0 1 0 3.5 0a1.75 1.75 0 1 0 -3.5 0M580.39 81.21a1.75 1.75 0 1 0 3.5 0a1.75 1.75 0 1 0 -3.5 0M571.69 99.89a1.75 1.75 0 1 0 3.5 0a1.75 1.75 0 1 0 -3.5 0M567.15 85.43a1.75 1.75 0 1 0 3.5 0a1.75 1.75 0 1 0 -3.5 0M566.16 93.9a1.75 1.75 0 1 0 3.5 0a1.75 1.75 0 1 0 -3.5 0M576.22 94.45a1.75 1.75 0 1 0 3.5 0a1.75 1.75 0 1 0 -3.5 0M557.67 102.52a1.75 1.75 0 1 0 3.5 0a1.75 1.75 0 1 0 -3.5 0M583.81 80.16a1.75 1.75 0 1 0 3.5 0a1.75 1.75 0 1 0 -3.5 0M560.41 91.65a1.75 1.75 0 1 0 3.5 0a1.75 1.75 0 1 0 -3.5 0M583.74 79.19a1.75 1.75 0 1 0 3.5 0a1.75 1.75 0 1 0 -3.5 0M571.02 100.26a1.75 1.75 0 1 0 3.5 0a1.75 1.75 0 1 0 -3.5 0M568.26 81.4a1.75 1.75 0 1 0 3.5 0a1.75 1.75 0 1 0 -3.5 0M578.27 80.63a1.75 1.75 0 1 0 3.5 0a1.75 1.75 0 1 0 -3.5 0M580.11 86.7a1.75 1.75 0 1 0 3.5 0a1.75 1.75 0 1 0 -3.5 0M579.25 77.4a1.75 1.75 0 1 0 3.5 0a1.75 1.75 0 1 0 -3.5 0M582.13 82.06a1.75 1.75 0 1 0 3.5 0a1.75 1.75 0 1 0 -3.5 0M568.83 97.65a1.75 1.75 0 1 0 3.5 0a1.75 1.75 0 1 0 -3.5 0M570.5 82.16a1.75 1.75 0 1 0 3.5 0a1.75 1.75 0 1 0 -3.5 0M565.66 95.31a1.75 1.75 0 1 0 3.5 0a1.75 1.75 0 1 0 -3.5 0M564.85 100.56a1.75 1.75 0 1 0 3.5 0a1.75 1.75 0 1 0 -3.5 0M562.44 89.62a1.75 1.75 0 1 0 3.5 0a1.75 1.75 0 1 0 -3.5 0M578.41 89.69a1.75 1.75 0 1 0 3.5 0a1.75 1.75 0 1 0 -3.5 0M564.19 99.96a1.75 1.75 0 1 0 3.5 0a1.75 1.75 0 1 0 -3.5 0M568.26 95.8a1.75 1.75 0 1 0 3.5 0a1.75 1.75 0 1 0 -3.5 0M584.19 81.55a1.75 1.75 0 1 0 3.5 0a1.75 1.75 0 1 0 -3.5 0M577.05 91.83a1.75 1.75 0 1 0 3.5 0a1.75 1.75 0 1 0 -3.5 0M558.46 107.35a1.75 1.75 0 1 0 3.5 0a1.75 1.75 0 1 0 -3.5 0M576.51 81.02a1.75 1.75 0 1 0 3.5 0a1.75 1.75 0 1 0 -3.5 0M583.23 80.22a1.75 1.75 0 1 0 3.5 0a1.75 1.75 0 1 0 -3.5 0M584.26 78.03a1.75 1.75 0 1 0 3.5 0a1.75 1.75 0 1 0 -3.5 0M568.93 94.6a1.75 1.75 0 1 0 3.5 0a1.75 1.75 0 1 0 -3.5 0M580.26 89.83a1.75 1.75 0 1 0 3.5 0a1.75 1.75 0 1 0 -3.5 0M566.24 100.61a1.75 1.75 0 1 0 3.5 0a1.75 1.75 0 1 0 -3.5 0M569.33 90.98a1.75 1.75 0 1 0 3.5 0a1.75 1.75 0 1 0 -3.5 0M566.61 90.5a1.75 1.75 0 1 0 3.5 0a1.75 1.75 0 1 0 -3.5 0M578.38 94.61a1.75 1.75 0 1 0 3.5 0a1.75 1.75 0 1 0 -3.5 0M563.14 86.48a1.75 1.75 0 1 0 3.5 0a1.75 1.75 0 1 0 -3.5 0M578.59 88.67a1.75 1.75 0 1 0 3.5 0a1.75 1.75 0 1 0 -3.5 0M564.59 96.85a1.75 1.75 0 1 0 3.5 0a1.75 1.75 0 1 0 -3.5 0M563.73 96.84a1.75 1.75 0 1 0 3.5 0a1.75 1.75 0 1 0 -3.5 0M572.74 84.91a1.75 1.75 0 1 0 3.5 0a1.75 1.75 0 1 0 -3.5 0M565.39 96.02a1.75 1.75 0 1 0 3.5 0a1.75 1.75 0 1 0 -3.5 0M573.13 81.81a1.75 1.75 0 1 0 3.5 0a1.75 1.75 0 1 0 -3.5 0M576.86 79.5a1.75 1.75 0 1 0 3.5 0a1.75 1.75 0 1 0 -3.5 0M562.36 83.25a1.75 1.75 0 1 0 3.5 0a1.75 1.75 0 1 0 -3.5 0M584.65 78.32a1.75 1.75 0 1 0 3.5 0a1.75 1.75 0 1 0 -3.5 0M570.93 95.76a1.75 1.75 0 1 0 3.5 0a1.75 1.75 0 1 0 -3.5 0M576.73 87.48a1.75 1.75 0 1 0 3.5 0a1.75 1.75 0 1 0 -3.5 0M564.74 77.13a1.75 1.75 0 1 0 3.5 0a1.75 1.75 0 1 0 -3.5 0M564.91 79.2a1.75 1.75 0 1 0 3.5 0a1.75 1.75 0 1 0 -3.5 0M568.18 83.39a1.75 1.75 0 1 0 3.5 0a1.75 1.75 0 1 0 -3.5 0M576.92 77.29a1.75 1.75 0 1 0 3.5 0a1.75 1.75 0 1 0 -3.5 0M562.09 106.98a1.75 1.75 0 1 0 3.5 0a1.75 1.75 0 1 0 -3.5 0M574.51 80.13a1.75 1.75 0 1 0 3.5 0a1.75 1.75 0 1 0 -3.5 0M559.23 105.17a1.75 1.75 0 1 0 3.5 0a1.75 1.75 0 1 0 -3.5 0M564.98 87.39a1.75 1.75 0 1 0 3.5 0a1.75 1.75 0 1 0 -3.5 0M557.02 101.83a1.75 1.75 0 1 0 3.5 0a1.75 1.75 0 1 0 -3.5 0M575.89 94.07a1.75 1.75 0 1 0 3.5 0a1.75 1.75 0 1 0 -3.5 0M574.02 80.13a1.75 1.75 0 1 0 3.5 0a1.75 1.75 0 1 0 -3.5 0M562.58 95.21a1.75 1.75 0 1 0 3.5 0a1.75 1.75 0 1 0 -3.5 0M574.75 93.19a1.75 1.75 0 1 0 3.5 0a1.75 1.75 0 1 0 -3.5 0M579.42 91.12a1.75 1.75 0 1 0 3.5 0a1.75 1.75 0 1 0 -3.5 0M562.06 104.02a1.75 1.75 0 1 0 3.5 0a1.75 1.75 0 1 0 -3.5 0M567.13 86.71a1.75 1.75 0 1 0 3.5 0a1.75 1.75 0 1 0 -3.5 0M570.41 77.25a1.75 1.75 0 1 0 3.5 0a1.75 1.75 0 1 0 -3.5 0M568.42 83.23a1.75 1.75 0 1 0 3.5 0a1.75 1.75 0 1 0 -3.5 0M577.05 92.68a1.75 1.75 0 1 0 3.5 0a1.75 1.75 0 1 0 -3.5 0M564.39 85.75a1.75 1.75 0 1 0 3.5 0a1.75 1.75 0 1 0 -3.5 0M570.38 90.58a1.75 1.75 0 1 0 3.5 0a1.75 1.75 0 1 0 -3.5 0M567.29 103.02a1.75 1.75 0 1 0 3.5 0a1.75 1.75 0 1 0 -3.5 0M574.21 99.77a1.75 1.75 0 1 0 3.5 0a1.75 1.75 0 1 0 -3.5 0M572.68 83.55a1.75 1.75 0 1 0 3.5 0a1.75 1.75 0 1 0 -3.5 0M580.42 77.44a1.75 1.75 0 1 0 3.5 0a1.75 1.75 0 1 0 -3.5 0M576.6 83.06a1.75 1.75 0 1 0 3.5 0a1.75 1.75 0 1 0 -3.5 0M571.5 78.78a1.75 1.75 0 1 0 3.5 0a1.75 1.75 0 1 0 -3.5 0M567.97 97.6a1.75 1.75 0 1 0 3.5 0a1.75 1.75 0 1 0 -3.5 0M566.46 92.72a1.75 1.75 0 1 0 3.5 0a1.75 1.75 0 1 0 -3.5 0M563.72 97.49a1.75 1.75 0 1 0 3.5 0a1.75 1.75 0 1 0 -3.5 0M559.79 105.29a1.75 1.75 0 1 0 3.5 0a1.75 1.75 0 1 0 -3.5 0M569.14 103.82a1.75 1.75 0 1 0 3.5 0a1.75 1.75 0 1 0 -3.5 0M563.52 102.06a1.75 1.75 0 1 0 3.5 0a1.75 1.75 0 1 0 -3.5 0M563.44 99.46a1.75 1.75 0 1 0 3.5 0a1.75 1.75 0 1 0 -3.5 0M564.94 95.8a1.75 1.75 0 1 0 3.5 0a1.75 1.75 0 1 0 -3.5 0M583.88 78.69a1.75 1.75 0 1 0 3.5 0a1.75 1.75 0 1 0 -3.5 0M566.38 87.93a1.75 1.75 0 1 0 3.5 0a1.75 1.75 0 1 0 -3.5 0M574.19 80.04a1.75 1.75 0 1 0 3.5 0a1.75 1.75 0 1 0 -3.5 0M580.06 82.55a1.75 1.75 0 1 0 3.5 0a1.75 1.75 0 1 0 -3.5 0M574.15 93.26a1.75 1.75 0 1 0 3.5 0a1.75 1.75 0 1 0 -3.5 0M560.66 93.21a1.75 1.75 0 1 0 3.5 0a1.75 1.75 0 1 0 -3.5 0M563.55 80.93a1.75 1.75 0 1 0 3.5 0a1.75 1.75 0 1 0 -3.5 0M558.35 102a1.75 1.75 0 1 0 3.5 0a1.75 1.75 0 1 0 -3.5 0M583.77 81.43a1.75 1.75 0 1 0 3.5 0a1.75 1.75 0 1 0 -3.5 0M572.92 90.18a1.75 1.75 0 1 0 3.5 0a1.75 1.75 0 1 0 -3.5 0M567.99 83.42a1.75 1.75 0 1 0 3.5 0a1.75 1.75 0 1 0 -3.5 0M575.52 86.03a1.75 1.75 0 1 0 3.5 0a1.75 1.75 0 1 0 -3.5 0M567.02 91.46a1.75 1.75 0 1 0 3.5 0a1.75 1.75 0 1 0 -3.5 0M583.19 84.69a1.75 1.75 0 1 0 3.5 0a1.75 1.75 0 1 0 -3.5 0M577.25 86.65a1.75 1.75 0 1 0 3.5 0a1.75 1.75 0 1 0 -3.5 0M575.78 79.94a1.75 1.75 0 1 0 3.5 0a1.75 1.75 0 1 0 -3.5 0M558.63 107.91a1.75 1.75 0 1 0 3.5 0a1.75 1.75 0 1 0 -3.5 0M584.93 77.47a1.75 1.75 0 1 0 3.5 0a1.75 1.75 0 1 0 -3.5 0M573.21 86.93a1.75 1.75 0 1 0 3.5 0a1.75 1.75 0 1 0 -3.5 0M557.73 102.3a1.75 1.75 0 1 0 3.5 0a1.75 1.75 0 1 0 -3.5 0M558.66 93.91a1.75 1.75 0 1 0 3.5 0a1.75 1.75 0 1 0 -3.5 0M574.39 90.36a1.75 1.75 0 1 0 3.5 0a1.75 1.75 0 1 0 -3.5 0M570.6 80.56a1.75 1.75 0 1 0 3.5 0a1.75 1.75 0 1 0 -3.5 0M572.28 100.91a1.75 1.75 0 1 0 3.5 0a1.75 1.75 0 1 0 -3.5 0M577.65 85.02a1.75 1.75 0 1 0 3.5 0a1.75 1.75 0 1 0 -3.5 0M567.81 89.95a1.75 1.75 0 1 0 3.5 0a1.75 1.75 0 1 0 -3.5 0M579.19 82.48a1.75 1.75 0 1 0 3.5 0a1.75 1.75 0 1 0 -3.5 0M574.72 99.43a1.75 1.75 0 1 0 3.5 0a1.75 1.75 0 1 0 -3.5 0M569.25 91.5a1.75 1.75 0 1 0 3.5 0a1.75 1.75 0 1 0 -3.5 0M563.36 105.68a1.75 1.75 0 1 0 3.5 0a1.75 1.75 0 1 0 -3.5 0M564.37 98.69a1.75 1.75 0 1 0 3.5 0a1.75 1.75 0 1 0 -3.5 0M584.58 77.94a1.75 1.75 0 1 0 3.5 0a1.75 1.75 0 1 0 -3.5 0M564 95.79a1.75 1.75 0 1 0 3.5 0a1.75 1.75 0 1 0 -3.5 0M564.77 94.77a1.75 1.75 0 1 0 3.5 0a1.75 1.75 0 1 0 -3.5 0M563.65 101.28a1.75 1.75 0 1 0 3.5 0a1.75 1.75 0 1 0 -3.5 0M563.51 104.92a1.75 1.75 0 1 0 3.5 0a1.75 1.75 0 1 0 -3.5 0M578.25 91.01a1.75 1.75 0 1 0 3.5 0a1.75 1.75 0 1 0 -3.5 0M563.75 94.14a1.75 1.75 0 1 0 3.5 0a1.75 1.75 0 1 0 -3.5 0M578.88 80.03a1.75 1.75 0 1 0 3.5 0a1.75 1.75 0 1 0 -3.5 0M582.07 78.79a1.75 1.75 0 1 0 3.5 0a1.75 1.75 0 1 0 -3.5 0M577.15 83.15a1.75 1.75 0 1 0 3.5 0a1.75 1.75 0 1 0 -3.5 0M562.76 87.13a1.75 1.75 0 1 0 3.5 0a1.75 1.75 0 1 0 -3.5 0M573.17 96.59a1.75 1.75 0 1 0 3.5 0a1.75 1.75 0 1 0 -3.5 0M584.06 77.4a1.75 1.75 0 1 0 3.5 0a1.75 1.75 0 1 0 -3.5 0M570.63 100.72a1.75 1.75 0 1 0 3.5 0a1.75 1.75 0 1 0 -3.5 0M575.21 86.04a1.75 1.75 0 1 0 3.5 0a1.75 1.75 0 1 0 -3.5 0M566.56 95.17a1.75 1.75 0 1 0 3.5 0a1.75 1.75 0 1 0 -3.5 0M565.07 89.73a1.75 1.75 0 1 0 3.5 0a1.75 1.75 0 1 0 -3.5 0M576.85 91.69a1.75 1.75 0 1 0 3.5 0a1.75 1.75 0 1 0 -3.5 0M558.33 102.91a1.75 1.75 0 1 0 3.5 0a1.75 1.75 0 1 0 -3.5 0M563.76 103.44a1.75 1.75 0 1 0 3.5 0a1.75 1.75 0 1 0 -3.5 0M573.75 92.88a1.75 1.75 0 1 0 3.5 0a1.75 1.75 0 1 0 -3.5 0M557.04 101.53a1.75 1.75 0 1 0 3.5 0a1.75 1.75 0 1 0 -3.5 0M582.31 86.45a1.75 1.75 0 1 0 3.5 0a1.75 1.75 0 1 0 -3.5 0M558.34 104.63a1.75 1.75 0 1 0 3.5 0a1.75 1.75 0 1 0 -3.5 0M569.61 80.9a1.75 1.75 0 1 0 3.5 0a1.75 1.75 0 1 0 -3.5 0M570.2 84.7a1.75 1.75 0 1 0 3.5 0a1.75 1.75 0 1 0 -3.5 0M567.3 96.98a1.75 1.75 0 1 0 3.5 0a1.75 1.75 0 1 0 -3.5 0M562.62 94.35a1.75 1.75 0 1 0 3.5 0a1.75 1.75 0 1 0 -3.5 0M564.49 105.92a1.75 1.75 0 1 0 3.5 0a1.75 1.75 0 1 0 -3.5 0M556.93 99.21a1.75 1.75 0 1 0 3.5 0a1.75 1.75 0 1 0 -3.5 0M563.63 105.09a1.75 1.75 0 1 0 3.5 0a1.75 1.75 0 1 0 -3.5 0M578.69 78.86a1.75 1.75 0 1 0 3.5 0a1.75 1.75 0 1 0 -3.5 0M565.72 80.09a1.75 1.75 0 1 0 3.5 0a1.75 1.75 0 1 0 -3.5 0M577.53 81.27a1.75 1.75 0 1 0 3.5 0a1.75 1.75 0 1 0 -3.5 0M572.16 93.28a1.75 1.75 0 1 0 3.5 0a1.75 1.75 0 1 0 -3.5 0M565.89 87.21a1.75 1.75 0 1 0 3.5 0a1.75 1.75 0 1 0 -3.5 0M558.3 105.57a1.75 1.75 0 1 0 3.5 0a1.75 1.75 0 1 0 -3.5 0M570.24 78.57a1.75 1.75 0 1 0 3.5 0a1.75 1.75 0 1 0 -3.5 0M570.39 99.97a1.75 1.75 0 1 0 3.5 0a1.75 1.75 0 1 0 -3.5 0M575.29 96.24a1.75 1.75 0 1 0 3.5 0a1.75 1.75 0 1 0 -3.5 0M582.97 80.84a1.75 1.75 0 1 0 3.5 0a1.75 1.75 0 1 0 -3.5 0M571.31 78.56a1.75 1.75 0 1 0 3.5 0a1.75 1.75 0 1 0 -3.5 0M567.37 94.06a1.75 1.75 0 1 0 3.5 0a1.75 1.75 0 1 0 -3.5 0M577.81 87.84a1.75 1.75 0 1 0 3.5 0a1.75 1.75 0 1 0 -3.5 0M556.66 99.07a1.75 1.75 0 1 0 3.5 0a1.75 1.75 0 1 0 -3.5 0M585.37 77.53a1.75 1.75 0 1 0 3.5 0a1.75 1.75 0 1 0 -3.5 0M579.04 82.5a1.75 1.75 0 1 0 3.5 0a1.75 1.75 0 1 0 -3.5 0M568.97 93.31a1.75 1.75 0 1 0 3.5 0a1.75 1.75 0 1 0 -3.5 0M576.25 89.24a1.75 1.75 0 1 0 3.5 0a1.75 1.75 0 1 0 -3.5 0M577.13 91.56a1.75 1.75 0 1 0 3.5 0a1.75 1.75 0 1 0 -3.5 0M567.47 88.41a1.75 1.75 0 1 0 3.5 0a1.75 1.75 0 1 0 -3.5 0M570.04 85.77a1.75 1.75 0 1 0 3.5 0a1.75 1.75 0 1 0 -3.5 0M568.34 86.15a1.75 1.75 0 1 0 3.5 0a1.75 1.75 0 1 0 -3.5 0M565.25 96.32a1.75 1.75 0 1 0 3.5 0a1.75 1.75 0 1 0 -3.5 0M572 90.84a1.75 1.75 0 1 0 3.5 0a1.75 1.75 0 1 0 -3.5 0M558.69 107.12a1.75 1.75 0 1 0 3.5 0a1.75 1.75 0 1 0 -3.5 0M564.69 99.09a1.75 1.75 0 1 0 3.5 0a1.75 1.75 0 1 0 -3.5 0M562.7 92.87a1.75 1.75 0 1 0 3.5 0a1.75 1.75 0 1 0 -3.5 0M576.06 83.28a1.75 1.75 0 1 0 3.5 0a1.75 1.75 0 1 0 -3.5 0M556.21 101.68a1.75 1.75 0 1 0 3.5 0a1.75 1.75 0 1 0 -3.5 0M564.54 97.53a1.75 1.75 0 1 0 3.5 0a1.75 1.75 0 1 0 -3.5 0M556.93 97.67a1.75 1.75 0 1 0 3.5 0a1.75 1.75 0 1 0 -3.5 0M572.69 96.26a1.75 1.75 0 1 0 3.5 0a1.75 1.75 0 1 0 -3.5 0M568.55 84.02a1.75 1.75 0 1 0 3.5 0a1.75 1.75 0 1 0 -3.5 0M577.48 91.48a1.75 1.75 0 1 0 3.5 0a1.75 1.75 0 1 0 -3.5 0M578.1 88.36a1.75 1.75 0 1 0 3.5 0a1.75 1.75 0 1 0 -3.5 0M582.66 78.78a1.75 1.75 0 1 0 3.5 0a1.75 1.75 0 1 0 -3.5 0M578.95 85.15a1.75 1.75 0 1 0 3.5 0a1.75 1.75 0 1 0 -3.5 0M576.56 88.84a1.75 1.75 0 1 0 3.5 0a1.75 1.75 0 1 0 -3.5 0M564.56 92.23a1.75 1.75 0 1 0 3.5 0a1.75 1.75 0 1 0 -3.5 0M571.23 98.67a1.75 1.75 0 1 0 3.5 0a1.75 1.75 0 1 0 -3.5 0M574.66 98.16a1.75 1.75 0 1 0 3.5 0a1.75 1.75 0 1 0 -3.5 0M566.54 98.13a1.75 1.75 0 1 0 3.5 0a1.75 1.75 0 1 0 -3.5 0M565.3 95.96a1.75 1.75 0 1 0 3.5 0a1.75 1.75 0 1 0 -3.5 0M568.96 94.56a1.75 1.75 0 1 0 3.5 0a1.75 1.75 0 1 0 -3.5 0M561.29 89.04a1.75 1.75 0 1 0 3.5 0a1.75 1.75 0 1 0 -3.5 0M556.61 97.5a1.75 1.75 0 1 0 3.5 0a1.75 1.75 0 1 0 -3.5 0M557.61 96.35a1.75 1.75 0 1 0 3.5 0a1.75 1.75 0 1 0 -3.5 0M558.32 104.82a1.75 1.75 0 1 0 3.5 0a1.75 1.75 0 1 0 -3.5 0M570.08 80.68a1.75 1.75 0 1 0 3.5 0a1.75 1.75 0 1 0 -3.5 0M564.45 85.59a1.75 1.75 0 1 0 3.5 0a1.75 1.75 0 1 0 -3.5 0M565.86 101.67a1.75 1.75 0 1 0 3.5 0a1.75 1.75 0 1 0 -3.5 0M558.74 95.09a1.75 1.75 0 1 0 3.5 0a1.75 1.75 0 1 0 -3.5 0M568.1 85.99a1.75 1.75 0 1 0 3.5 0a1.75 1.75 0 1 0 -3.5 0M574.88 83.9a1.75 1.75 0 1 0 3.5 0a1.75 1.75 0 1 0 -3.5 0M566.1 96.45a1.75 1.75 0 1 0 3.5 0a1.75 1.75 0 1 0 -3.5 0M566.9 77.69a1.75 1.75 0 1 0 3.5 0a1.75 1.75 0 1 0 -3.5 0M576.55 90.84a1.75 1.75 0 1 0 3.5 0a1.75 1.75 0 1 0 -3.5 0M579.78 84.29a1.75 1.75 0 1 0 3.5 0a1.75 1.75 0 1 0 -3.5 0M575.36 98a1.75 1.75 0 1 0 3.5 0a1.75 1.75 0 1 0 -3.5 0M569.11 82.88a1.75 1.75 0 1 0 3.5 0a1.75 1.75 0 1 0 -3.5 0M567.14 100.25a1.75 1.75 0 1 0 3.5 0a1.75 1.75 0 1 0 -3.5 0M569.06 84.32a1.75 1.75 0 1 0 3.5 0a1.75 1.75 0 1 0 -3.5 0M574.97 82.84a1.75 1.75 0 1 0 3.5 0a1.75 1.75 0 1 0 -3.5 0M580.81 86.29a1.75 1.75 0 1 0 3.5 0a1.75 1.75 0 1 0 -3.5 0M575.77 93.14a1.75 1.75 0 1 0 3.5 0a1.75 1.75 0 1 0 -3.5 0M565.06 87.2a1.75 1.75 0 1 0 3.5 0a1.75 1.75 0 1 0 -3.5 0M566.05 90.15a1.75 1.75 0 1 0 3.5 0a1.75 1.75 0 1 0 -3.5 0M561.22 92.85a1.75 1.75 0 1 0 3.5 0a1.75 1.75 0 1 0 -3.5 0M584.66 79.68a1.75 1.75 0 1 0 3.5 0a1.75 1.75 0 1 0 -3.5 0M570.54 101.89a1.75 1.75 0 1 0 3.5 0a1.75 1.75 0 1 0 -3.5 0M568.36 88.02a1.75 1.75 0 1 0 3.5 0a1.75 1.75 0 1 0 -3.5 0M570.43 83.08a1.75 1.75 0 1 0 3.5 0a1.75 1.75 0 1 0 -3.5 0M564.09 86.53a1.75 1.75 0 1 0 3.5 0a1.75 1.75 0 1 0 -3.5 0M561.57 106.32a1.75 1.75 0 1 0 3.5 0a1.75 1.75 0 1 0 -3.5 0M558.68 107.13a1.75 1.75 0 1 0 3.5 0a1.75 1.75 0 1 0 -3.5 0M567.94 83.15a1.75 1.75 0 1 0 3.5 0a1.75 1.75 0 1 0 -3.5 0M565.42 89.7a1.75 1.75 0 1 0 3.5 0a1.75 1.75 0 1 0 -3.5 0M558.93 94.27a1.75 1.75 0 1 0 3.5 0a1.75 1.75 0 1 0 -3.5 0M575.12 91.39a1.75 1.75 0 1 0 3.5 0a1.75 1.75 0 1 0 -3.5 0M562.46 101.35a1.75 1.75 0 1 0 3.5 0a1.75 1.75 0 1 0 -3.5 0M569.89 93.71a1.75 1.75 0 1 0 3.5 0a1.75 1.75 0 1 0 -3.5 0M568.88 98.09a1.75 1.75 0 1 0 3.5 0a1.75 1.75 0 1 0 -3.5 0M564.35 89.2a1.75 1.75 0 1 0 3.5 0a1.75 1.75 0 1 0 -3.5 0M568.35 86.15a1.75 1.75 0 1 0 3.5 0a1.75 1.75 0 1 0 -3.5 0M567.74 101.06a1.75 1.75 0 1 0 3.5 0a1.75 1.75 0 1 0 -3.5 0M569.58 98.1a1.75 1.75 0 1 0 3.5 0a1.75 1.75 0 1 0 -3.5 0M564.14 85.79a1.75 1.75 0 1 0 3.5 0a1.75 1.75 0 1 0 -3.5 0M576.11 78.03a1.75 1.75 0 1 0 3.5 0a1.75 1.75 0 1 0 -3.5 0M563.77 102.05a1.75 1.75 0 1 0 3.5 0a1.75 1.75 0 1 0 -3.5 0M565.41 88.08a1.75 1.75 0 1 0 3.5 0a1.75 1.75 0 1 0 -3.5 0M565.16 82.95a1.75 1.75 0 1 0 3.5 0a1.75 1.75 0 1 0 -3.5 0M565.96 101.83a1.75 1.75 0 1 0 3.5 0a1.75 1.75 0 1 0 -3.5 0M575.41 79.08a1.75 1.75 0 1 0 3.5 0a1.75 1.75 0 1 0 -3.5 0M567.1 96.89a1.75 1.75 0 1 0 3.5 0a1.75 1.75 0 1 0 -3.5 0M576.26 91.09a1.75 1.75 0 1 0 3.5 0a1.75 1.75 0 1 0 -3.5 0M560.27 107.14a1.75 1.75 0 1 0 3.5 0a1.75 1.75 0 1 0 -3.5 0M569.18 99.38a1.75 1.75 0 1 0 3.5 0a1.75 1.75 0 1 0 -3.5 0M571.36 79.52a1.75 1.75 0 1 0 3.5 0a1.75 1.75 0 1 0 -3.5 0M567.53 87.04a1.75 1.75 0 1 0 3.5 0a1.75 1.75 0 1 0 -3.5 0M565.85 102.49a1.75 1.75 0 1 0 3.5 0a1.75 1.75 0 1 0 -3.5 0M568.29 85.34a1.75 1.75 0 1 0 3.5 0a1.75 1.75 0 1 0 -3.5 0M571.6 83.91a1.75 1.75 0 1 0 3.5 0a1.75 1.75 0 1 0 -3.5 0M564.55 77.76a1.75 1.75 0 1 0 3.5 0a1.75 1.75 0 1 0 -3.5 0M582.66 86.32a1.75 1.75 0 1 0 3.5 0a1.75 1.75 0 1 0 -3.5 0M569.9 103.28a1.75 1.75 0 1 0 3.5 0a1.75 1.75 0 1 0 -3.5 0M569.01 85.23a1.75 1.75 0 1 0 3.5 0a1.75 1.75 0 1 0 -3.5 0M569.64 87.46a1.75 1.75 0 1 0 3.5 0a1.75 1.75 0 1 0 -3.5 0M566.53 91.45a1.75 1.75 0 1 0 3.5 0a1.75 1.75 0 1 0 -3.5 0M575.92 85.44a1.75 1.75 0 1 0 3.5 0a1.75 1.75 0 1 0 -3.5 0M566.17 77.08a1.75 1.75 0 1 0 3.5 0a1.75 1.75 0 1 0 -3.5 0M580.9 85.61a1.75 1.75 0 1 0 3.5 0a1.75 1.75 0 1 0 -3.5 0M564.59 99.59a1.75 1.75 0 1 0 3.5 0a1.75 1.75 0 1 0 -3.5 0M574.38 94.44a1.75 1.75 0 1 0 3.5 0a1.75 1.75 0 1 0 -3.5 0M561.37 104.3a1.75 1.75 0 1 0 3.5 0a1.75 1.75 0 1 0 -3.5 0M578.59 93a1.75 1.75 0 1 0 3.5 0a1.75 1.75 0 1 0 -3.5 0M566.39 87.33a1.75 1.75 0 1 0 3.5 0a1.75 1.75 0 1 0 -3.5 0M568.61 85.96a1.75 1.75 0 1 0 3.5 0a1.75 1.75 0 1 0 -3.5 0M566.55 87.37a1.75 1.75 0 1 0 3.5 0a1.75 1.75 0 1 0 -3.5 0M566.31 96.31a1.75 1.75 0 1 0 3.5 0a1.75 1.75 0 1 0 -3.5 0M570.16 83.16a1.75 1.75 0 1 0 3.5 0a1.75 1.75 0 1 0 -3.5 0M568.92 99.26a1.75 1.75 0 1 0 3.5 0a1.75 1.75 0 1 0 -3.5 0M577.33 81.9a1.75 1.75 0 1 0 3.5 0a1.75 1.75 0 1 0 -3.5 0M576.63 84.94a1.75 1.75 0 1 0 3.5 0a1.75 1.75 0 1 0 -3.5 0M566.95 77.62a1.75 1.75 0 1 0 3.5 0a1.75 1.75 0 1 0 -3.5 0M579.07 81.02a1.75 1.75 0 1 0 3.5 0a1.75 1.75 0 1 0 -3.5 0M562.82 91.41a1.75 1.75 0 1 0 3.5 0a1.75 1.75 0 1 0 -3.5 0M559.76 93.81a1.75 1.75 0 1 0 3.5 0a1.75 1.75 0 1 0 -3.5 0M565.26 97.44a1.75 1.75 0 1 0 3.5 0a1.75 1.75 0 1 0 -3.5 0M571.25 98.41a1.75 1.75 0 1 0 3.5 0a1.75 1.75 0 1 0 -3.5 0M562.13 99.06a1.75 1.75 0 1 0 3.5 0a1.75 1.75 0 1 0 -3.5 0M572.71 85.5a1.75 1.75 0 1 0 3.5 0a1.75 1.75 0 1 0 -3.5 0M568.14 93.15a1.75 1.75 0 1 0 3.5 0a1.75 1.75 0 1 0 -3.5 0M570.82 84.74a1.75 1.75 0 1 0 3.5 0a1.75 1.75 0 1 0 -3.5 0M562.73 88.34a1.75 1.75 0 1 0 3.5 0a1.75 1.75 0 1 0 -3.5 0M579.24 90.65a1.75 1.75 0 1 0 3.5 0a1.75 1.75 0 1 0 -3.5 0M571.45 88.18a1.75 1.75 0 1 0 3.5 0a1.75 1.75 0 1 0 -3.5 0M555.96 105.11a1.75 1.75 0 1 0 3.5 0a1.75 1.75 0 1 0 -3.5 0M567.63 88.66a1.75 1.75 0 1 0 3.5 0a1.75 1.75 0 1 0 -3.5 0M559.6 97.64a1.75 1.75 0 1 0 3.5 0a1.75 1.75 0 1 0 -3.5 0M575.86 77.55a1.75 1.75 0 1 0 3.5 0a1.75 1.75 0 1 0 -3.5 0M561.6 93.06a1.75 1.75 0 1 0 3.5 0a1.75 1.75 0 1 0 -3.5 0M576.74 89.06a1.75 1.75 0 1 0 3.5 0a1.75 1.75 0 1 0 -3.5 0M568.63 103.23a1.75 1.75 0 1 0 3.5 0a1.75 1.75 0 1 0 -3.5 0M567.58 97.27a1.75 1.75 0 1 0 3.5 0a1.75 1.75 0 1 0 -3.5 0M559.16 103.2a1.75 1.75 0 1 0 3.5 0a1.75 1.75 0 1 0 -3.5 0M560.54 98.97a1.75 1.75 0 1 0 3.5 0a1.75 1.75 0 1 0 -3.5 0M559.43 104.51a1.75 1.75 0 1 0 3.5 0a1.75 1.75 0 1 0 -3.5 0M560.69 99.82a1.75 1.75 0 1 0 3.5 0a1.75 1.75 0 1 0 -3.5 0M581.09 84.95a1.75 1.75 0 1 0 3.5 0a1.75 1.75 0 1 0 -3.5 0M570.22 91.95a1.75 1.75 0 1 0 3.5 0a1.75 1.75 0 1 0 -3.5 0M579.25 91.45a1.75 1.75 0 1 0 3.5 0a1.75 1.75 0 1 0 -3.5 0M570.16 92.2a1.75 1.75 0 1 0 3.5 0a1.75 1.75 0 1 0 -3.5 0M568.8 89.66a1.75 1.75 0 1 0 3.5 0a1.75 1.75 0 1 0 -3.5 0M562.73 84.74a1.75 1.75 0 1 0 3.5 0a1.75 1.75 0 1 0 -3.5 0M579.3 80.56a1.75 1.75 0 1 0 3.5 0a1.75 1.75 0 1 0 -3.5 0M560.82 93.42a1.75 1.75 0 1 0 3.5 0a1.75 1.75 0 1 0 -3.5 0M564.25 84.49a1.75 1.75 0 1 0 3.5 0a1.75 1.75 0 1 0 -3.5 0M566.2 92.66a1.75 1.75 0 1 0 3.5 0a1.75 1.75 0 1 0 -3.5 0M568.7 89.97a1.75 1.75 0 1 0 3.5 0a1.75 1.75 0 1 0 -3.5 0M561.9 106.7a1.75 1.75 0 1 0 3.5 0a1.75 1.75 0 1 0 -3.5 0M575.43 95.39a1.75 1.75 0 1 0 3.5 0a1.75 1.75 0 1 0 -3.5 0M563.17 106.23a1.75 1.75 0 1 0 3.5 0a1.75 1.75 0 1 0 -3.5 0M567.35 95.6a1.75 1.75 0 1 0 3.5 0a1.75 1.75 0 1 0 -3.5 0M557.16 104.8a1.75 1.75 0 1 0 3.5 0a1.75 1.75 0 1 0 -3.5 0M568.71 78.97a1.75 1.75 0 1 0 3.5 0a1.75 1.75 0 1 0 -3.5 0M584.99 77.26a1.75 1.75 0 1 0 3.5 0a1.75 1.75 0 1 0 -3.5 0M564.67 83.34a1.75 1.75 0 1 0 3.5 0a1.75 1.75 0 1 0 -3.5 0M556.68 105.08a1.75 1.75 0 1 0 3.5 0a1.75 1.75 0 1 0 -3.5 0M576.25 88.54a1.75 1.75 0 1 0 3.5 0a1.75 1.75 0 1 0 -3.5 0M564.7 103.43a1.75 1.75 0 1 0 3.5 0a1.75 1.75 0 1 0 -3.5 0M565.51 105.1a1.75 1.75 0 1 0 3.5 0a1.75 1.75 0 1 0 -3.5 0M557.01 104.08a1.75 1.75 0 1 0 3.5 0a1.75 1.75 0 1 0 -3.5 0M575.52 84.24a1.75 1.75 0 1 0 3.5 0a1.75 1.75 0 1 0 -3.5 0M572.39 86.62a1.75 1.75 0 1 0 3.5 0a1.75 1.75 0 1 0 -3.5 0M561.24 91.29a1.75 1.75 0 1 0 3.5 0a1.75 1.75 0 1 0 -3.5 0M585.36 77.21a1.75 1.75 0 1 0 3.5 0a1.75 1.75 0 1 0 -3.5 0M563.69 102.62a1.75 1.75 0 1 0 3.5 0a1.75 1.75 0 1 0 -3.5 0M557.31 105.96a1.75 1.75 0 1 0 3.5 0a1.75 1.75 0 1 0 -3.5 0M580.96 81.46a1.75 1.75 0 1 0 3.5 0a1.75 1.75 0 1 0 -3.5 0M573.21 94.33a1.75 1.75 0 1 0 3.5 0a1.75 1.75 0 1 0 -3.5 0M576.45 86.57a1.75 1.75 0 1 0 3.5 0a1.75 1.75 0 1 0 -3.5 0M566.54 84.51a1.75 1.75 0 1 0 3.5 0a1.75 1.75 0 1 0 -3.5 0M563.59 82.48a1.75 1.75 0 1 0 3.5 0a1.75 1.75 0 1 0 -3.5 0M565.77 98.63a1.75 1.75 0 1 0 3.5 0a1.75 1.75 0 1 0 -3.5 0M569.94 85.76a1.75 1.75 0 1 0 3.5 0a1.75 1.75 0 1 0 -3.5 0M565.18 95.05a1.75 1.75 0 1 0 3.5 0a1.75 1.75 0 1 0 -3.5 0M580.14 80.56a1.75 1.75 0 1 0 3.5 0a1.75 1.75 0 1 0 -3.5 0M563.16 93.27a1.75 1.75 0 1 0 3.5 0a1.75 1.75 0 1 0 -3.5 0M568.3 99.45a1.75 1.75 0 1 0 3.5 0a1.75 1.75 0 1 0 -3.5 0M579.16 77.53a1.75 1.75 0 1 0 3.5 0a1.75 1.75 0 1 0 -3.5 0M563.6 102.97a1.75 1.75 0 1 0 3.5 0a1.75 1.75 0 1 0 -3.5 0M564.9 91.44a1.75 1.75 0 1 0 3.5 0a1.75 1.75 0 1 0 -3.5 0M580.96 88.15a1.75 1.75 0 1 0 3.5 0a1.75 1.75 0 1 0 -3.5 0M566.55 100.4a1.75 1.75 0 1 0 3.5 0a1.75 1.75 0 1 0 -3.5 0M574.72 87.34a1.75 1.75 0 1 0 3.5 0a1.75 1.75 0 1 0 -3.5 0M571.27 95.91a1.75 1.75 0 1 0 3.5 0a1.75 1.75 0 1 0 -3.5 0M571.43 80.45a1.75 1.75 0 1 0 3.5 0a1.75 1.75 0 1 0 -3.5 0M571.26 80.92a1.75 1.75 0 1 0 3.5 0a1.75 1.75 0 1 0 -3.5 0M580.51 90.51a1.75 1.75 0 1 0 3.5 0a1.75 1.75 0 1 0 -3.5 0M571.47 78.55a1.75 1.75 0 1 0 3.5 0a1.75 1.75 0 1 0 -3.5 0M565.61 89.8a1.75 1.75 0 1 0 3.5 0a1.75 1.75 0 1 0 -3.5 0M564.94 77.18a1.75 1.75 0 1 0 3.5 0a1.75 1.75 0 1 0 -3.5 0M561.66 87.34a1.75 1.75 0 1 0 3.5 0a1.75 1.75 0 1 0 -3.5 0M557.72 100.89a1.75 1.75 0 1 0 3.5 0a1.75 1.75 0 1 0 -3.5 0M567.91 94.73a1.75 1.75 0 1 0 3.5 0a1.75 1.75 0 1 0 -3.5 0M563.36 88.24a1.75 1.75 0 1 0 3.5 0a1.75 1.75 0 1 0 -3.5 0M578.36 91.66a1.75 1.75 0 1 0 3.5 0a1.75 1.75 0 1 0 -3.5 0M573.34 90.19a1.75 1.75 0 1 0 3.5 0a1.75 1.75 0 1 0 -3.5 0M562.81 93.19a1.75 1.75 0 1 0 3.5 0a1.75 1.75 0 1 0 -3.5 0M576.24 79.71a1.75 1.75 0 1 0 3.5 0a1.75 1.75 0 1 0 -3.5 0M562.1 100.73a1.75 1.75 0 1 0 3.5 0a1.75 1.75 0 1 0 -3.5 0M583.57 79.77a1.75 1.75 0 1 0 3.5 0a1.75 1.75 0 1 0 -3.5 0M571.13 100.18a1.75 1.75 0 1 0 3.5 0a1.75 1.75 0 1 0 -3.5 0M573.52 89.11a1.75 1.75 0 1 0 3.5 0a1.75 1.75 0 1 0 -3.5 0M572.54 94.31a1.75 1.75 0 1 0 3.5 0a1.75 1.75 0 1 0 -3.5 0M556.37 101.01a1.75 1.75 0 1 0 3.5 0a1.75 1.75 0 1 0 -3.5 0M569.09 100.46a1.75 1.75 0 1 0 3.5 0a1.75 1.75 0 1 0 -3.5 0M563.73 91.58a1.75 1.75 0 1 0 3.5 0a1.75 1.75 0 1 0 -3.5 0M580.64 78.1a1.75 1.75 0 1 0 3.5 0a1.75 1.75 0 1 0 -3.5 0M563.57 92.24a1.75 1.75 0 1 0 3.5 0a1.75 1.75 0 1 0 -3.5 0M581.5 85.43a1.75 1.75 0 1 0 3.5 0a1.75 1.75 0 1 0 -3.5 0M580.59 84.63a1.75 1.75 0 1 0 3.5 0a1.75 1.75 0 1 0 -3.5 0M563.95 94.28a1.75 1.75 0 1 0 3.5 0a1.75 1.75 0 1 0 -3.5 0M582.39 84.81a1.75 1.75 0 1 0 3.5 0a1.75 1.75 0 1 0 -3.5 0M566.61 101.21a1.75 1.75 0 1 0 3.5 0a1.75 1.75 0 1 0 -3.5 0M583.57 80.98a1.75 1.75 0 1 0 3.5 0a1.75 1.75 0 1 0 -3.5 0M559.57 100.84a1.75 1.75 0 1 0 3.5 0a1.75 1.75 0 1 0 -3.5 0M564.03 95.26a1.75 1.75 0 1 0 3.5 0a1.75 1.75 0 1 0 -3.5 0M570.16 81.55a1.75 1.75 0 1 0 3.5 0a1.75 1.75 0 1 0 -3.5 0M566.01 90.89a1.75 1.75 0 1 0 3.5 0a1.75 1.75 0 1 0 -3.5 0M559.89 92.47a1.75 1.75 0 1 0 3.5 0a1.75 1.75 0 1 0 -3.5 0M566.43 78.99a1.75 1.75 0 1 0 3.5 0a1.75 1.75 0 1 0 -3.5 0M569.3 98.72a1.75 1.75 0 1 0 3.5 0a1.75 1.75 0 1 0 -3.5 0M579.81 85.88a1.75 1.75 0 1 0 3.5 0a1.75 1.75 0 1 0 -3.5 0M573.41 92.81a1.75 1.75 0 1 0 3.5 0a1.75 1.75 0 1 0 -3.5 0M579.44 86.75a1.75 1.75 0 1 0 3.5 0a1.75 1.75 0 1 0 -3.5 0M580.84 77.58a1.75 1.75 0 1 0 3.5 0a1.75 1.75 0 1 0 -3.5 0M562.49 106.5a1.75 1.75 0 1 0 3.5 0a1.75 1.75 0 1 0 -3.5 0M572.63 98.94a1.75 1.75 0 1 0 3.5 0a1.75 1.75 0 1 0 -3.5 0M579.01 88.96a1.75 1.75 0 1 0 3.5 0a1.75 1.75 0 1 0 -3.5 0M561.3 103.59a1.75 1.75 0 1 0 3.5 0a1.75 1.75 0 1 0 -3.5 0M561.66 92.37a1.75 1.75 0 1 0 3.5 0a1.75 1.75 0 1 0 -3.5 0M572.3 93.26a1.75 1.75 0 1 0 3.5 0a1.75 1.75 0 1 0 -3.5 0M576.44 96.55a1.75 1.75 0 1 0 3.5 0a1.75 1.75 0 1 0 -3.5 0M565.01 79.89a1.75 1.75 0 1 0 3.5 0a1.75 1.75 0 1 0 -3.5 0M560.68 101.42a1.75 1.75 0 1 0 3.5 0a1.75 1.75 0 1 0 -3.5 0M555.67 105.11a1.75 1.75 0 1 0 3.5 0a1.75 1.75 0 1 0 -3.5 0M566.48 105.9a1.75 1.75 0 1 0 3.5 0a1.75 1.75 0 1 0 -3.5 0M573.27 94.08a1.75 1.75 0 1 0 3.5 0a1.75 1.75 0 1 0 -3.5 0M575.84 81.92a1.75 1.75 0 1 0 3.5 0a1.75 1.75 0 1 0 -3.5 0M573.59 88.12a1.75 1.75 0 1 0 3.5 0a1.75 1.75 0 1 0 -3.5 0M569.6 85.19a1.75 1.75 0 1 0 3.5 0a1.75 1.75 0 1 0 -3.5 0M578.74 80.82a1.75 1.75 0 1 0 3.5 0a1.75 1.75 0 1 0 -3.5 0M564.27 92.91a1.75 1.75 0 1 0 3.5 0a1.75 1.75 0 1 0 -3.5 0M567.12 101.64a1.75 1.75 0 1 0 3.5 0a1.75 1.75 0 1 0 -3.5 0M555.5 103.12a1.75 1.75 0 1 0 3.5 0a1.75 1.75 0 1 0 -3.5 0M565.77 84.3a1.75 1.75 0 1 0 3.5 0a1.75 1.75 0 1 0 -3.5 0M581.5 77.1a1.75 1.75 0 1 0 3.5 0a1.75 1.75 0 1 0 -3.5 0M564.28 103.87a1.75 1.75 0 1 0 3.5 0a1.75 1.75 0 1 0 -3.5 0M560.98 90.32a1.75 1.75 0 1 0 3.5 0a1.75 1.75 0 1 0 -3.5 0M557.93 97.15a1.75 1.75 0 1 0 3.5 0a1.75 1.75 0 1 0 -3.5 0M578.77 92.61a1.75 1.75 0 1 0 3.5 0a1.75 1.75 0 1 0 -3.5 0M573.66 83.17a1.75 1.75 0 1 0 3.5 0a1.75 1.75 0 1 0 -3.5 0M576.6 80.62a1.75 1.75 0 1 0 3.5 0a1.75 1.75 0 1 0 -3.5 0M562.88 90.98a1.75 1.75 0 1 0 3.5 0a1.75 1.75 0 1 0 -3.5 0M566.11 89.16a1.75 1.75 0 1 0 3.5 0a1.75 1.75 0 1 0 -3.5 0M560.89 93.27a1.75 1.75 0 1 0 3.5 0a1.75 1.75 0 1 0 -3.5 0M575.09 86.01a1.75 1.75 0 1 0 3.5 0a1.75 1.75 0 1 0 -3.5 0M554.97 103.36a1.75 1.75 0 1 0 3.5 0a1.75 1.75 0 1 0 -3.5 0M579.16 78.44a1.75 1.75 0 1 0 3.5 0a1.75 1.75 0 1 0 -3.5 0M576.31 87.47a1.75 1.75 0 1 0 3.5 0a1.75 1.75 0 1 0 -3.5 0M574.59 92.66a1.75 1.75 0 1 0 3.5 0a1.75 1.75 0 1 0 -3.5 0M572.68 93.55a1.75 1.75 0 1 0 3.5 0a1.75 1.75 0 1 0 -3.5 0M577.77 87.3a1.75 1.75 0 1 0 3.5 0a1.75 1.75 0 1 0 -3.5 0M570.14 91.66a1.75 1.75 0 1 0 3.5 0a1.75 1.75 0 1 0 -3.5 0M575.42 83.75a1.75 1.75 0 1 0 3.5 0a1.75 1.75 0 1 0 -3.5 0M559.99 103.75a1.75 1.75 0 1 0 3.5 0a1.75 1.75 0 1 0 -3.5 0M568.47 80.21a1.75 1.75 0 1 0 3.5 0a1.75 1.75 0 1 0 -3.5 0M569.14 103.93a1.75 1.75 0 1 0 3.5 0a1.75 1.75 0 1 0 -3.5 0M570.54 96.71a1.75 1.75 0 1 0 3.5 0a1.75 1.75 0 1 0 -3.5 0M566.22 81.68a1.75 1.75 0 1 0 3.5 0a1.75 1.75 0 1 0 -3.5 0M574.3 92.13a1.75 1.75 0 1 0 3.5 0a1.75 1.75 0 1 0 -3.5 0M565.31 85.07a1.75 1.75 0 1 0 3.5 0a1.75 1.75 0 1 0 -3.5 0M576.52 86.92a1.75 1.75 0 1 0 3.5 0a1.75 1.75 0 1 0 -3.5 0M572.68 85.1a1.75 1.75 0 1 0 3.5 0a1.75 1.75 0 1 0 -3.5 0M578.36 88.7a1.75 1.75 0 1 0 3.5 0a1.75 1.75 0 1 0 -3.5 0M565.11 103.22a1.75 1.75 0 1 0 3.5 0a1.75 1.75 0 1 0 -3.5 0M577.71 80.89a1.75 1.75 0 1 0 3.5 0a1.75 1.75 0 1 0 -3.5 0M572.65 100.8a1.75 1.75 0 1 0 3.5 0a1.75 1.75 0 1 0 -3.5 0M559.01 106.97a1.75 1.75 0 1 0 3.5 0a1.75 1.75 0 1 0 -3.5 0M578.33 92.15a1.75 1.75 0 1 0 3.5 0a1.75 1.75 0 1 0 -3.5 0M565.86 80.01a1.75 1.75 0 1 0 3.5 0a1.75 1.75 0 1 0 -3.5 0M557.06 96.64a1.75 1.75 0 1 0 3.5 0a1.75 1.75 0 1 0 -3.5 0M565.93 106.25a1.75 1.75 0 1 0 3.5 0a1.75 1.75 0 1 0 -3.5 0M563.75 106.32a1.75 1.75 0 1 0 3.5 0a1.75 1.75 0 1 0 -3.5 0M583.65 81.84a1.75 1.75 0 1 0 3.5 0a1.75 1.75 0 1 0 -3.5 0M571.42 92.81a1.75 1.75 0 1 0 3.5 0a1.75 1.75 0 1 0 -3.5 0M565.99 104a1.75 1.75 0 1 0 3.5 0a1.75 1.75 0 1 0 -3.5 0M583.09 82.01a1.75 1.75 0 1 0 3.5 0a1.75 1.75 0 1 0 -3.5 0M578.96 85.6a1.75 1.75 0 1 0 3.5 0a1.75 1.75 0 1 0 -3.5 0M572.6 85.73a1.75 1.75 0 1 0 3.5 0a1.75 1.75 0 1 0 -3.5 0M564.64 101.15a1.75 1.75 0 1 0 3.5 0a1.75 1.75 0 1 0 -3.5 0M573.54 78.55a1.75 1.75 0 1 0 3.5 0a1.75 1.75 0 1 0 -3.5 0M563.66 105.28a1.75 1.75 0 1 0 3.5 0a1.75 1.75 0 1 0 -3.5 0M559.68 100.84a1.75 1.75 0 1 0 3.5 0a1.75 1.75 0 1 0 -3.5 0M568.68 82.32a1.75 1.75 0 1 0 3.5 0a1.75 1.75 0 1 0 -3.5 0M556.28 105.1a1.75 1.75 0 1 0 3.5 0a1.75 1.75 0 1 0 -3.5 0M561.46 93.97a1.75 1.75 0 1 0 3.5 0a1.75 1.75 0 1 0 -3.5 0M576.53 92.04a1.75 1.75 0 1 0 3.5 0a1.75 1.75 0 1 0 -3.5 0M565.53 84.73a1.75 1.75 0 1 0 3.5 0a1.75 1.75 0 1 0 -3.5 0M563.75 78.55a1.75 1.75 0 1 0 3.5 0a1.75 1.75 0 1 0 -3.5 0M562.41 106.74a1.75 1.75 0 1 0 3.5 0a1.75 1.75 0 1 0 -3.5 0M579.5 89.63a1.75 1.75 0 1 0 3.5 0a1.75 1.75 0 1 0 -3.5 0M573.3 83.89a1.75 1.75 0 1 0 3.5 0a1.75 1.75 0 1 0 -3.5 0M577.76 92.34a1.75 1.75 0 1 0 3.5 0a1.75 1.75 0 1 0 -3.5 0M572.57 98.29a1.75 1.75 0 1 0 3.5 0a1.75 1.75 0 1 0 -3.5 0M563.04 106.44a1.75 1.75 0 1 0 3.5 0a1.75 1.75 0 1 0 -3.5 0M578.7 79.06a1.75 1.75 0 1 0 3.5 0a1.75 1.75 0 1 0 -3.5 0M566.5 82.98a1.75 1.75 0 1 0 3.5 0a1.75 1.75 0 1 0 -3.5 0M581.46 79.57a1.75 1.75 0 1 0 3.5 0a1.75 1.75 0 1 0 -3.5 0M565.02 103.71a1.75 1.75 0 1 0 3.5 0a1.75 1.75 0 1 0 -3.5 0M585.97 77.73a1.75 1.75 0 1 0 3.5 0a1.75 1.75 0 1 0 -3.5 0M571.32 79.82a1.75 1.75 0 1 0 3.5 0a1.75 1.75 0 1 0 -3.5 0M578.2 87.63a1.75 1.75 0 1 0 3.5 0a1.75 1.75 0 1 0 -3.5 0M580.09 79.98a1.75 1.75 0 1 0 3.5 0a1.75 1.75 0 1 0 -3.5 0M570.06 80.11a1.75 1.75 0 1 0 3.5 0a1.75 1.75 0 1 0 -3.5 0M561.76 107.04a1.75 1.75 0 1 0 3.5 0a1.75 1.75 0 1 0 -3.5 0M576.07 87.49a1.75 1.75 0 1 0 3.5 0a1.75 1.75 0 1 0 -3.5 0M581.62 88.86a1.75 1.75 0 1 0 3.5 0a1.75 1.75 0 1 0 -3.5 0M577.76 86.09a1.75 1.75 0 1 0 3.5 0a1.75 1.75 0 1 0 -3.5 0M567.81 96.85a1.75 1.75 0 1 0 3.5 0a1.75 1.75 0 1 0 -3.5 0M557.58 100.08a1.75 1.75 0 1 0 3.5 0a1.75 1.75 0 1 0 -3.5 0M561.33 92.55a1.75 1.75 0 1 0 3.5 0a1.75 1.75 0 1 0 -3.5 0M564.76 84.37a1.75 1.75 0 1 0 3.5 0a1.75 1.75 0 1 0 -3.5 0M575.07 98.98a1.75 1.75 0 1 0 3.5 0a1.75 1.75 0 1 0 -3.5 0M580.53 85.21a1.75 1.75 0 1 0 3.5 0a1.75 1.75 0 1 0 -3.5 0M567.51 81.26a1.75 1.75 0 1 0 3.5 0a1.75 1.75 0 1 0 -3.5 0M578.61 93.63a1.75 1.75 0 1 0 3.5 0a1.75 1.75 0 1 0 -3.5 0M559.83 107.65a1.75 1.75 0 1 0 3.5 0a1.75 1.75 0 1 0 -3.5 0M555.12 94.05a1.75 1.75 0 1 0 3.5 0a1.75 1.75 0 1 0 -3.5 0M544.7 97.68a1.75 1.75 0 1 0 3.5 0a1.75 1.75 0 1 0 -3.5 0M540.06 78.41a1.75 1.75 0 1 0 3.5 0a1.75 1.75 0 1 0 -3.5 0M552.92 88.35a1.75 1.75 0 1 0 3.5 0a1.75 1.75 0 1 0 -3.5 0M552.56 101.55a1.75 1.75 0 1 0 3.5 0a1.75 1.75 0 1 0 -3.5 0M555.29 96.6a1.75 1.75 0 1 0 3.5 0a1.75 1.75 0 1 0 -3.5 0M555.52 97.9a1.75 1.75 0 1 0 3.5 0a1.75 1.75 0 1 0 -3.5 0M539.61 86.08a1.75 1.75 0 1 0 3.5 0a1.75 1.75 0 1 0 -3.5 0M546.45 85.62a1.75 1.75 0 1 0 3.5 0a1.75 1.75 0 1 0 -3.5 0M539.25 83.49a1.75 1.75 0 1 0 3.5 0a1.75 1.75 0 1 0 -3.5 0M553.85 91.55a1.75 1.75 0 1 0 3.5 0a1.75 1.75 0 1 0 -3.5 0M541.45 86.13a1.75 1.75 0 1 0 3.5 0a1.75 1.75 0 1 0 -3.5 0M546.2 99.74a1.75 1.75 0 1 0 3.5 0a1.75 1.75 0 1 0 -3.5 0M544.6 81.93a1.75 1.75 0 1 0 3.5 0a1.75 1.75 0 1 0 -3.5 0M552.28 100.59a1.75 1.75 0 1 0 3.5 0a1.75 1.75 0 1 0 -3.5 0M542.6 88.7a1.75 1.75 0 1 0 3.5 0a1.75 1.75 0 1 0 -3.5 0M547.52 101.43a1.75 1.75 0 1 0 3.5 0a1.75 1.75 0 1 0 -3.5 0M544.61 97.75a1.75 1.75 0 1 0 3.5 0a1.75 1.75 0 1 0 -3.5 0M546.47 92.05a1.75 1.75 0 1 0 3.5 0a1.75 1.75 0 1 0 -3.5 0M547.9 86.41a1.75 1.75 0 1 0 3.5 0a1.75 1.75 0 1 0 -3.5 0M552.53 103.39a1.75 1.75 0 1 0 3.5 0a1.75 1.75 0 1 0 -3.5 0M541.79 85.16a1.75 1.75 0 1 0 3.5 0a1.75 1.75 0 1 0 -3.5 0M548.09 84.06a1.75 1.75 0 1 0 3.5 0a1.75 1.75 0 1 0 -3.5 0M546.88 85.92a1.75 1.75 0 1 0 3.5 0a1.75 1.75 0 1 0 -3.5 0M544.42 85.26a1.75 1.75 0 1 0 3.5 0a1.75 1.75 0 1 0 -3.5 0M555.99 105.77a1.75 1.75 0 1 0 3.5 0a1.75 1.75 0 1 0 -3.5 0M546.3 91.53a1.75 1.75 0 1 0 3.5 0a1.75 1.75 0 1 0 -3.5 0M549.97 84.68a1.75 1.75 0 1 0 3.5 0a1.75 1.75 0 1 0 -3.5 0M544.05 86.05a1.75 1.75 0 1 0 3.5 0a1.75 1.75 0 1 0 -3.5 0M543.9 93.57a1.75 1.75 0 1 0 3.5 0a1.75 1.75 0 1 0 -3.5 0M542.21 91.41a1.75 1.75 0 1 0 3.5 0a1.75 1.75 0 1 0 -3.5 0M546.85 95.01a1.75 1.75 0 1 0 3.5 0a1.75 1.75 0 1 0 -3.5 0M555.25 94.6a1.75 1.75 0 1 0 3.5 0a1.75 1.75 0 1 0 -3.5 0M548.1 99.14a1.75 1.75 0 1 0 3.5 0a1.75 1.75 0 1 0 -3.5 0M550 98.19a1.75 1.75 0 1 0 3.5 0a1.75 1.75 0 1 0 -3.5 0M549.21 83.23a1.75 1.75 0 1 0 3.5 0a1.75 1.75 0 1 0 -3.5 0M553.79 104.91a1.75 1.75 0 1 0 3.5 0a1.75 1.75 0 1 0 -3.5 0M544.08 78.91a1.75 1.75 0 1 0 3.5 0a1.75 1.75 0 1 0 -3.5 0M548.92 83.88a1.75 1.75 0 1 0 3.5 0a1.75 1.75 0 1 0 -3.5 0M550.77 90a1.75 1.75 0 1 0 3.5 0a1.75 1.75 0 1 0 -3.5 0M554.72 98.12a1.75 1.75 0 1 0 3.5 0a1.75 1.75 0 1 0 -3.5 0M550.75 90.66a1.75 1.75 0 1 0 3.5 0a1.75 1.75 0 1 0 -3.5 0M545.79 92.79a1.75 1.75 0 1 0 3.5 0a1.75 1.75 0 1 0 -3.5 0M543.15 90.92a1.75 1.75 0 1 0 3.5 0a1.75 1.75 0 1 0 -3.5 0M546.54 86.59a1.75 1.75 0 1 0 3.5 0a1.75 1.75 0 1 0 -3.5 0M551.31 102.52a1.75 1.75 0 1 0 3.5 0a1.75 1.75 0 1 0 -3.5 0M550.92 98.05a1.75 1.75 0 1 0 3.5 0a1.75 1.75 0 1 0 -3.5 0M550.91 85.74a1.75 1.75 0 1 0 3.5 0a1.75 1.75 0 1 0 -3.5 0M555.77 96.35a1.75 1.75 0 1 0 3.5 0a1.75 1.75 0 1 0 -3.5 0M554.92 95.95a1.75 1.75 0 1 0 3.5 0a1.75 1.75 0 1 0 -3.5 0M547.54 98.25a1.75 1.75 0 1 0 3.5 0a1.75 1.75 0 1 0 -3.5 0M554.67 90.81a1.75 1.75 0 1 0 3.5 0a1.75 1.75 0 1 0 -3.5 0M551.2 90.97a1.75 1.75 0 1 0 3.5 0a1.75 1.75 0 1 0 -3.5 0M551.97 98.97a1.75 1.75 0 1 0 3.5 0a1.75 1.75 0 1 0 -3.5 0M549.44 85.85a1.75 1.75 0 1 0 3.5 0a1.75 1.75 0 1 0 -3.5 0M540.22 85.45a1.75 1.75 0 1 0 3.5 0a1.75 1.75 0 1 0 -3.5 0M549.03 95.71a1.75 1.75 0 1 0 3.5 0a1.75 1.75 0 1 0 -3.5 0M547.67 82.28a1.75 1.75 0 1 0 3.5 0a1.75 1.75 0 1 0 -3.5 0M551.07 85.99a1.75 1.75 0 1 0 3.5 0a1.75 1.75 0 1 0 -3.5 0M547.08 84.63a1.75 1.75 0 1 0 3.5 0a1.75 1.75 0 1 0 -3.5 0M555.79 96.71a1.75 1.75 0 1 0 3.5 0a1.75 1.75 0 1 0 -3.5 0M551.24 87.5a1.75 1.75 0 1 0 3.5 0a1.75 1.75 0 1 0 -3.5 0M553.89 100.18a1.75 1.75 0 1 0 3.5 0a1.75 1.75 0 1 0 -3.5 0M544.44 93.49a1.75 1.75 0 1 0 3.5 0a1.75 1.75 0 1 0 -3.5 0M547.84 95.02a1.75 1.75 0 1 0 3.5 0a1.75 1.75 0 1 0 -3.5 0M548.49 81.2a1.75 1.75 0 1 0 3.5 0a1.75 1.75 0 1 0 -3.5 0M546.26 90.77a1.75 1.75 0 1 0 3.5 0a1.75 1.75 0 1 0 -3.5 0M546.71 83.8a1.75 1.75 0 1 0 3.5 0a1.75 1.75 0 1 0 -3.5 0M540.6 79.48a1.75 1.75 0 1 0 3.5 0a1.75 1.75 0 1 0 -3.5 0M552.07 87.79a1.75 1.75 0 1 0 3.5 0a1.75 1.75 0 1 0 -3.5 0M551.16 102.48a1.75 1.75 0 1 0 3.5 0a1.75 1.75 0 1 0 -3.5 0M546.89 93.35a1.75 1.75 0 1 0 3.5 0a1.75 1.75 0 1 0 -3.5 0M543.65 85.06a1.75 1.75 0 1 0 3.5 0a1.75 1.75 0 1 0 -3.5 0M549.02 92.1a1.75 1.75 0 1 0 3.5 0a1.75 1.75 0 1 0 -3.5 0M539.62 82.61a1.75 1.75 0 1 0 3.5 0a1.75 1.75 0 1 0 -3.5 0M550.74 101.6a1.75 1.75 0 1 0 3.5 0a1.75 1.75 0 1 0 -3.5 0M548.25 96.54a1.75 1.75 0 1 0 3.5 0a1.75 1.75 0 1 0 -3.5 0M548.5 84.72a1.75 1.75 0 1 0 3.5 0a1.75 1.75 0 1 0 -3.5 0M545.12 91.27a1.75 1.75 0 1 0 3.5 0a1.75 1.75 0 1 0 -3.5 0M547.6 94.56a1.75 1.75 0 1 0 3.5 0a1.75 1.75 0 1 0 -3.5 0M548.14 78.99a1.75 1.75 0 1 0 3.5 0a1.75 1.75 0 1 0 -3.5 0M548.18 99.35a1.75 1.75 0 1 0 3.5 0a1.75 1.75 0 1 0 -3.5 0M545.33 89.18a1.75 1.75 0 1 0 3.5 0a1.75 1.75 0 1 0 -3.5 0M545.25 80.59a1.75 1.75 0 1 0 3.5 0a1.75 1.75 0 1 0 -3.5 0M544.96 81.61a1.75 1.75 0 1 0 3.5 0a1.75 1.75 0 1 0 -3.5 0M550.56 103.52a1.75 1.75 0 1 0 3.5 0a1.75 1.75 0 1 0 -3.5 0M546.78 86.05a1.75 1.75 0 1 0 3.5 0a1.75 1.75 0 1 0 -3.5 0M547.84 82.07a1.75 1.75 0 1 0 3.5 0a1.75 1.75 0 1 0 -3.5 0M542.52 93.86a1.75 1.75 0 1 0 3.5 0a1.75 1.75 0 1 0 -3.5 0M545.52 95.69a1.75 1.75 0 1 0 3.5 0a1.75 1.75 0 1 0 -3.5 0M540.15 81.36a1.75 1.75 0 1 0 3.5 0a1.75 1.75 0 1 0 -3.5 0M541.16 87.1a1.75 1.75 0 1 0 3.5 0a1.75 1.75 0 1 0 -3.5 0M540.26 81.36a1.75 1.75 0 1 0 3.5 0a1.75 1.75 0 1 0 -3.5 0M551.75 98.32a1.75 1.75 0 1 0 3.5 0a1.75 1.75 0 1 0 -3.5 0M552.82 99.75a1.75 1.75 0 1 0 3.5 0a1.75 1.75 0 1 0 -3.5 0M589.04 88.42a1.75 1.75 0 1 0 3.5 0a1.75 1.75 0 1 0 -3.5 0M590.02 78.86a1.75 1.75 0 1 0 3.5 0a1.75 1.75 0 1 0 -3.5 0M583.4 92.25a1.75 1.75 0 1 0 3.5 0a1.75 1.75 0 1 0 -3.5 0M584 85.95a1.75 1.75 0 1 0 3.5 0a1.75 1.75 0 1 0 -3.5 0M586.31 82.75a1.75 1.75 0 1 0 3.5 0a1.75 1.75 0 1 0 -3.5 0M591.28 79.04a1.75 1.75 0 1 0 3.5 0a1.75 1.75 0 1 0 -3.5 0M586.68 89.49a1.75 1.75 0 1 0 3.5 0a1.75 1.75 0 1 0 -3.5 0M585.4 86.72a1.75 1.75 0 1 0 3.5 0a1.75 1.75 0 1 0 -3.5 0M584.97 82.83a1.75 1.75 0 1 0 3.5 0a1.75 1.75 0 1 0 -3.5 0M582.77 94.01a1.75 1.75 0 1 0 3.5 0a1.75 1.75 0 1 0 -3.5 0M592.4 78.7a1.75 1.75 0 1 0 3.5 0a1.75 1.75 0 1 0 -3.5 0M589.25 83.37a1.75 1.75 0 1 0 3.5 0a1.75 1.75 0 1 0 -3.5 0M589.37 77.57a1.75 1.75 0 1 0 3.5 0a1.75 1.75 0 1 0 -3.5 0M584.73 83.98a1.75 1.75 0 1 0 3.5 0a1.75 1.75 0 1 0 -3.5 0M588.76 88.61a1.75 1.75 0 1 0 3.5 0a1.75 1.75 0 1 0 -3.5 0M586.87 91.02a1.75 1.75 0 1 0 3.5 0a1.75 1.75 0 1 0 -3.5 0M587.98 79.27a1.75 1.75 0 1 0 3.5 0a1.75 1.75 0 1 0 -3.5 0M584.38 94.72a1.75 1.75 0 1 0 3.5 0a1.75 1.75 0 1 0 -3.5 0M586.78 78.36a1.75 1.75 0 1 0 3.5 0a1.75 1.75 0 1 0 -3.5 0M588.53 85.51a1.75 1.75 0 1 0 3.5 0a1.75 1.75 0 1 0 -3.5 0M590.49 77.27a1.75 1.75 0 1 0 3.5 0a1.75 1.75 0 1 0 -3.5 0M592.69 78.85a1.75 1.75 0 1 0 3.5 0a1.75 1.75 0 1 0 -3.5 0M587.19 85.25a1.75 1.75 0 1 0 3.5 0a1.75 1.75 0 1 0 -3.5 0M585.84 82.65a1.75 1.75 0 1 0 3.5 0a1.75 1.75 0 1 0 -3.5 0M584.13 82.04a1.75 1.75 0 1 0 3.5 0a1.75 1.75 0 1 0 -3.5 0M586.32 91.67a1.75 1.75 0 1 0 3.5 0a1.75 1.75 0 1 0 -3.5 0M585.56 90.61a1.75 1.75 0 1 0 3.5 0a1.75 1.75 0 1 0 -3.5 0M590.81 85.25a1.75 1.75 0 1 0 3.5 0a1.75 1.75 0 1 0 -3.5 0M586.33 90.01a1.75 1.75 0 1 0 3.5 0a1.75 1.75 0 1 0 -3.5 0M586.27 84.9a1.75 1.75 0 1 0 3.5 0a1.75 1.75 0 1 0 -3.5 0M587.77 89.82a1.75 1.75 0 1 0 3.5 0a1.75 1.75 0 1 0 -3.5 0M590.52 83.17a1.75 1.75 0 1 0 3.5 0a1.75 1.75 0 1 0 -3.5 0M588.33 78.32a1.75 1.75 0 1 0 3.5 0a1.75 1.75 0 1 0 -3.5 0M583.63 94.69a1.75 1.75 0 1 0 3.5 0a1.75 1.75 0 1 0 -3.5 0M584.74 84.93a1.75 1.75 0 1 0 3.5 0a1.75 1.75 0 1 0 -3.5 0M588.39 81.25a1.75 1.75 0 1 0 3.5 0a1.75 1.75 0 1 0 -3.5 0M583.85 89.85a1.75 1.75 0 1 0 3.5 0a1.75 1.75 0 1 0 -3.5 0M586.93 82.66a1.75 1.75 0 1 0 3.5 0a1.75 1.75 0 1 0 -3.5 0M493.95 86.9a1.75 1.75 0 1 0 3.5 0a1.75 1.75 0 1 0 -3.5 0M502.95 86.9a1.75 1.75 0 1 0 3.5 0a1.75 1.75 0 1 0 -3.5 0M521.15 80.4a1.75 1.75 0 1 0 3.5 0a1.75 1.75 0 1 0 -3.5 0M523.65 85.4a1.75 1.75 0 1 0 3.5 0a1.75 1.75 0 1 0 -3.5 0M528.65 90.7a1.75 1.75 0 1 0 3.5 0a1.75 1.75 0 1 0 -3.5 0M521.15 97.9a1.75 1.75 0 1 0 3.5 0a1.75 1.75 0 1 0 -3.5 0M533.95 98.3a1.75 1.75 0 1 0 3.5 0a1.75 1.75 0 1 0 -3.5 0M594.75 78.2a1.75 1.75 0 1 0 3.5 0a1.75 1.75 0 1 0 -3.5 0M599.35 91.2a1.75 1.75 0 1 0 3.5 0a1.75 1.75 0 1 0 -3.5 0M586.75 82a1.75 1.75 0 1 0 3.5 0a1.75 1.75 0 1 0 -3.5 0M590.25 88a1.75 1.75 0 1 0 3.5 0a1.75 1.75 0 1 0 -3.5 0M588.75 95a1.75 1.75 0 1 0 3.5 0a1.75 1.75 0 1 0 -3.5 0M592.25 99.5a1.75 1.75 0 1 0 3.5 0a1.75 1.75 0 1 0 -3.5 0M595.25 84a1.75 1.75 0 1 0 3.5 0a1.75 1.75 0 1 0 -3.5 0M597.75 96.5a1.75 1.75 0 1 0 3.5 0a1.75 1.75 0 1 0 -3.5 0M601.25 87a1.75 1.75 0 1 0 3.5 0a1.75 1.75 0 1 0 -3.5 0M536.25 79a1.75 1.75 0 1 0 3.5 0a1.75 1.75 0 1 0 -3.5 0M534.25 88.5a1.75 1.75 0 1 0 3.5 0a1.75 1.75 0 1 0 -3.5 0M531.25 82a1.75 1.75 0 1 0 3.5 0a1.75 1.75 0 1 0 -3.5 0M537.75 92.5a1.75 1.75 0 1 0 3.5 0a1.75 1.75 0 1 0 -3.5 0M541.25 99a1.75 1.75 0 1 0 3.5 0a1.75 1.75 0 1 0 -3.5 0M532.75 94a1.75 1.75 0 1 0 3.5 0a1.75 1.75 0 1 0 -3.5 0M527.25 79.5a1.75 1.75 0 1 0 3.5 0a1.75 1.75 0 1 0 -3.5 0M536.25 99.5a1.75 1.75 0 1 0 3.5 0a1.75 1.75 0 1 0 -3.5 0M587.25 78.5a1.75 1.75 0 1 0 3.5 0a1.75 1.75 0 1 0 -3.5 0M591.25 80.5a1.75 1.75 0 1 0 3.5 0a1.75 1.75 0 1 0 -3.5 0M585.25 91a1.75 1.75 0 1 0 3.5 0a1.75 1.75 0 1 0 -3.5 0M583.25 96a1.75 1.75 0 1 0 3.5 0a1.75 1.75 0 1 0 -3.5 0M581.25 100a1.75 1.75 0 1 0 3.5 0a1.75 1.75 0 1 0 -3.5 0" fill="none" stroke="#7d7d7d" stroke-width="0.55"/>
<path d="M565.5 75.8L593.5 75.8L594 70L566.5 70Z" fill="#e8262c" stroke="none" stroke-width="1"/>
<path d="M580.04 70.75a1.8 1.8 0 1 0 3.6 0a1.8 1.8 0 1 0 -3.6 0M563.92 65.78a1.8 1.8 0 1 0 3.6 0a1.8 1.8 0 1 0 -3.6 0M572.24 74.13a1.8 1.8 0 1 0 3.6 0a1.8 1.8 0 1 0 -3.6 0M564.29 66.79a1.8 1.8 0 1 0 3.6 0a1.8 1.8 0 1 0 -3.6 0M568.73 71.59a1.8 1.8 0 1 0 3.6 0a1.8 1.8 0 1 0 -3.6 0M587.85 62.79a1.8 1.8 0 1 0 3.6 0a1.8 1.8 0 1 0 -3.6 0M589.46 71.6a1.8 1.8 0 1 0 3.6 0a1.8 1.8 0 1 0 -3.6 0M569.43 74.64a1.8 1.8 0 1 0 3.6 0a1.8 1.8 0 1 0 -3.6 0M571.78 72.88a1.8 1.8 0 1 0 3.6 0a1.8 1.8 0 1 0 -3.6 0M565.02 68.29a1.8 1.8 0 1 0 3.6 0a1.8 1.8 0 1 0 -3.6 0M578.38 74.37a1.8 1.8 0 1 0 3.6 0a1.8 1.8 0 1 0 -3.6 0M588.63 69.54a1.8 1.8 0 1 0 3.6 0a1.8 1.8 0 1 0 -3.6 0M564.3 67.93a1.8 1.8 0 1 0 3.6 0a1.8 1.8 0 1 0 -3.6 0M574.33 75.74a1.8 1.8 0 1 0 3.6 0a1.8 1.8 0 1 0 -3.6 0M583.8 67.59a1.8 1.8 0 1 0 3.6 0a1.8 1.8 0 1 0 -3.6 0M574.01 72.59a1.8 1.8 0 1 0 3.6 0a1.8 1.8 0 1 0 -3.6 0M565.67 73.27a1.8 1.8 0 1 0 3.6 0a1.8 1.8 0 1 0 -3.6 0M583.5 68.01a1.8 1.8 0 1 0 3.6 0a1.8 1.8 0 1 0 -3.6 0M584.72 67.49a1.8 1.8 0 1 0 3.6 0a1.8 1.8 0 1 0 -3.6 0M567.14 67.75a1.8 1.8 0 1 0 3.6 0a1.8 1.8 0 1 0 -3.6 0M564.29 63.2a1.8 1.8 0 1 0 3.6 0a1.8 1.8 0 1 0 -3.6 0M576.31 73.39a1.8 1.8 0 1 0 3.6 0a1.8 1.8 0 1 0 -3.6 0M569.01 68.91a1.8 1.8 0 1 0 3.6 0a1.8 1.8 0 1 0 -3.6 0M593.05 73.42a1.8 1.8 0 1 0 3.6 0a1.8 1.8 0 1 0 -3.6 0M590.66 71.31a1.8 1.8 0 1 0 3.6 0a1.8 1.8 0 1 0 -3.6 0M580.96 70.03a1.8 1.8 0 1 0 3.6 0a1.8 1.8 0 1 0 -3.6 0M581.34 68.42a1.8 1.8 0 1 0 3.6 0a1.8 1.8 0 1 0 -3.6 0M573.88 65.29a1.8 1.8 0 1 0 3.6 0a1.8 1.8 0 1 0 -3.6 0M564.72 67.09a1.8 1.8 0 1 0 3.6 0a1.8 1.8 0 1 0 -3.6 0M586.57 69.63a1.8 1.8 0 1 0 3.6 0a1.8 1.8 0 1 0 -3.6 0M567.78 73.24a1.8 1.8 0 1 0 3.6 0a1.8 1.8 0 1 0 -3.6 0M563.99 74.85a1.8 1.8 0 1 0 3.6 0a1.8 1.8 0 1 0 -3.6 0M582.91 69.67a1.8 1.8 0 1 0 3.6 0a1.8 1.8 0 1 0 -3.6 0M575.49 73.39a1.8 1.8 0 1 0 3.6 0a1.8 1.8 0 1 0 -3.6 0M578.83 66.1a1.8 1.8 0 1 0 3.6 0a1.8 1.8 0 1 0 -3.6 0M575.15 69.41a1.8 1.8 0 1 0 3.6 0a1.8 1.8 0 1 0 -3.6 0M564.06 75.57a1.8 1.8 0 1 0 3.6 0a1.8 1.8 0 1 0 -3.6 0M583.71 63.36a1.8 1.8 0 1 0 3.6 0a1.8 1.8 0 1 0 -3.6 0M585.6 69.35a1.8 1.8 0 1 0 3.6 0a1.8 1.8 0 1 0 -3.6 0M584 72.18a1.8 1.8 0 1 0 3.6 0a1.8 1.8 0 1 0 -3.6 0M593.43 63.63a1.8 1.8 0 1 0 3.6 0a1.8 1.8 0 1 0 -3.6 0M568.93 67.16a1.8 1.8 0 1 0 3.6 0a1.8 1.8 0 1 0 -3.6 0M573.99 74.36a1.8 1.8 0 1 0 3.6 0a1.8 1.8 0 1 0 -3.6 0M578.95 62.92a1.8 1.8 0 1 0 3.6 0a1.8 1.8 0 1 0 -3.6 0M584.86 68.87a1.8 1.8 0 1 0 3.6 0a1.8 1.8 0 1 0 -3.6 0M587.95 62.64a1.8 1.8 0 1 0 3.6 0a1.8 1.8 0 1 0 -3.6 0M589.52 74.32a1.8 1.8 0 1 0 3.6 0a1.8 1.8 0 1 0 -3.6 0M566.47 69.31a1.8 1.8 0 1 0 3.6 0a1.8 1.8 0 1 0 -3.6 0M565.46 74.24a1.8 1.8 0 1 0 3.6 0a1.8 1.8 0 1 0 -3.6 0M568.39 71.22a1.8 1.8 0 1 0 3.6 0a1.8 1.8 0 1 0 -3.6 0M582.96 66.43a1.8 1.8 0 1 0 3.6 0a1.8 1.8 0 1 0 -3.6 0M569.35 74.63a1.8 1.8 0 1 0 3.6 0a1.8 1.8 0 1 0 -3.6 0M563.93 65.51a1.8 1.8 0 1 0 3.6 0a1.8 1.8 0 1 0 -3.6 0M572.83 70.06a1.8 1.8 0 1 0 3.6 0a1.8 1.8 0 1 0 -3.6 0M574.14 63.54a1.8 1.8 0 1 0 3.6 0a1.8 1.8 0 1 0 -3.6 0M580.38 71.99a1.8 1.8 0 1 0 3.6 0a1.8 1.8 0 1 0 -3.6 0M584.55 68.76a1.8 1.8 0 1 0 3.6 0a1.8 1.8 0 1 0 -3.6 0M572.21 62.14a1.8 1.8 0 1 0 3.6 0a1.8 1.8 0 1 0 -3.6 0M579.22 70.67a1.8 1.8 0 1 0 3.6 0a1.8 1.8 0 1 0 -3.6 0M576.38 75.24a1.8 1.8 0 1 0 3.6 0a1.8 1.8 0 1 0 -3.6 0M568.97 73.23a1.8 1.8 0 1 0 3.6 0a1.8 1.8 0 1 0 -3.6 0M584.98 74.41a1.8 1.8 0 1 0 3.6 0a1.8 1.8 0 1 0 -3.6 0M591.36 65.27a1.8 1.8 0 1 0 3.6 0a1.8 1.8 0 1 0 -3.6 0M591.28 67.56a1.8 1.8 0 1 0 3.6 0a1.8 1.8 0 1 0 -3.6 0M583.75 75.15a1.8 1.8 0 1 0 3.6 0a1.8 1.8 0 1 0 -3.6 0M581.16 70.04a1.8 1.8 0 1 0 3.6 0a1.8 1.8 0 1 0 -3.6 0M564.9 70.23a1.8 1.8 0 1 0 3.6 0a1.8 1.8 0 1 0 -3.6 0M570.17 67.36a1.8 1.8 0 1 0 3.6 0a1.8 1.8 0 1 0 -3.6 0M574.41 75.43a1.8 1.8 0 1 0 3.6 0a1.8 1.8 0 1 0 -3.6 0M582.47 72a1.8 1.8 0 1 0 3.6 0a1.8 1.8 0 1 0 -3.6 0M568.06 66.2a1.8 1.8 0 1 0 3.6 0a1.8 1.8 0 1 0 -3.6 0M589.9 63.66a1.8 1.8 0 1 0 3.6 0a1.8 1.8 0 1 0 -3.6 0M592.25 67.9a1.8 1.8 0 1 0 3.6 0a1.8 1.8 0 1 0 -3.6 0M574.79 69.1a1.8 1.8 0 1 0 3.6 0a1.8 1.8 0 1 0 -3.6 0M576.44 68.49a1.8 1.8 0 1 0 3.6 0a1.8 1.8 0 1 0 -3.6 0M575.84 71.68a1.8 1.8 0 1 0 3.6 0a1.8 1.8 0 1 0 -3.6 0M571.27 64.3a1.8 1.8 0 1 0 3.6 0a1.8 1.8 0 1 0 -3.6 0M576.17 63.22a1.8 1.8 0 1 0 3.6 0a1.8 1.8 0 1 0 -3.6 0M576.57 68.82a1.8 1.8 0 1 0 3.6 0a1.8 1.8 0 1 0 -3.6 0M587.01 63.5a1.8 1.8 0 1 0 3.6 0a1.8 1.8 0 1 0 -3.6 0M575 72.77a1.8 1.8 0 1 0 3.6 0a1.8 1.8 0 1 0 -3.6 0M573.19 73.54a1.8 1.8 0 1 0 3.6 0a1.8 1.8 0 1 0 -3.6 0M584.97 62.58a1.8 1.8 0 1 0 3.6 0a1.8 1.8 0 1 0 -3.6 0M574.64 72.58a1.8 1.8 0 1 0 3.6 0a1.8 1.8 0 1 0 -3.6 0M579.02 71.29a1.8 1.8 0 1 0 3.6 0a1.8 1.8 0 1 0 -3.6 0M579.63 73.68a1.8 1.8 0 1 0 3.6 0a1.8 1.8 0 1 0 -3.6 0M576.04 62.14a1.8 1.8 0 1 0 3.6 0a1.8 1.8 0 1 0 -3.6 0M571.15 70.21a1.8 1.8 0 1 0 3.6 0a1.8 1.8 0 1 0 -3.6 0M592.1 70.38a1.8 1.8 0 1 0 3.6 0a1.8 1.8 0 1 0 -3.6 0M571.49 75.71a1.8 1.8 0 1 0 3.6 0a1.8 1.8 0 1 0 -3.6 0M575.1 65.14a1.8 1.8 0 1 0 3.6 0a1.8 1.8 0 1 0 -3.6 0M579.84 66.75a1.8 1.8 0 1 0 3.6 0a1.8 1.8 0 1 0 -3.6 0M566.16 71.84a1.8 1.8 0 1 0 3.6 0a1.8 1.8 0 1 0 -3.6 0M584.14 75.42a1.8 1.8 0 1 0 3.6 0a1.8 1.8 0 1 0 -3.6 0M566.94 74.57a1.8 1.8 0 1 0 3.6 0a1.8 1.8 0 1 0 -3.6 0M587.41 65.49a1.8 1.8 0 1 0 3.6 0a1.8 1.8 0 1 0 -3.6 0M577.56 70.7a1.8 1.8 0 1 0 3.6 0a1.8 1.8 0 1 0 -3.6 0M572.46 63.48a1.8 1.8 0 1 0 3.6 0a1.8 1.8 0 1 0 -3.6 0M588.65 64.27a1.8 1.8 0 1 0 3.6 0a1.8 1.8 0 1 0 -3.6 0M577.91 68.04a1.8 1.8 0 1 0 3.6 0a1.8 1.8 0 1 0 -3.6 0M590.69 69.71a1.8 1.8 0 1 0 3.6 0a1.8 1.8 0 1 0 -3.6 0M575.86 75.48a1.8 1.8 0 1 0 3.6 0a1.8 1.8 0 1 0 -3.6 0M573.63 72.03a1.8 1.8 0 1 0 3.6 0a1.8 1.8 0 1 0 -3.6 0M569.95 72.45a1.8 1.8 0 1 0 3.6 0a1.8 1.8 0 1 0 -3.6 0M585.99 73.43a1.8 1.8 0 1 0 3.6 0a1.8 1.8 0 1 0 -3.6 0M577.73 65.07a1.8 1.8 0 1 0 3.6 0a1.8 1.8 0 1 0 -3.6 0M582.29 74.56a1.8 1.8 0 1 0 3.6 0a1.8 1.8 0 1 0 -3.6 0M572.3 62.28a1.8 1.8 0 1 0 3.6 0a1.8 1.8 0 1 0 -3.6 0M568.43 74.87a1.8 1.8 0 1 0 3.6 0a1.8 1.8 0 1 0 -3.6 0M565.75 74.31a1.8 1.8 0 1 0 3.6 0a1.8 1.8 0 1 0 -3.6 0M574.58 71.54a1.8 1.8 0 1 0 3.6 0a1.8 1.8 0 1 0 -3.6 0M584.58 67.99a1.8 1.8 0 1 0 3.6 0a1.8 1.8 0 1 0 -3.6 0M585.4 68.36a1.8 1.8 0 1 0 3.6 0a1.8 1.8 0 1 0 -3.6 0M579.5 66.23a1.8 1.8 0 1 0 3.6 0a1.8 1.8 0 1 0 -3.6 0M570.93 65.8a1.8 1.8 0 1 0 3.6 0a1.8 1.8 0 1 0 -3.6 0M589.94 66.99a1.8 1.8 0 1 0 3.6 0a1.8 1.8 0 1 0 -3.6 0M565.87 70.7a1.8 1.8 0 1 0 3.6 0a1.8 1.8 0 1 0 -3.6 0M579.39 62.79a1.8 1.8 0 1 0 3.6 0a1.8 1.8 0 1 0 -3.6 0M573.52 70.43a1.8 1.8 0 1 0 3.6 0a1.8 1.8 0 1 0 -3.6 0M571.37 75.61a1.8 1.8 0 1 0 3.6 0a1.8 1.8 0 1 0 -3.6 0M587.47 68.96a1.8 1.8 0 1 0 3.6 0a1.8 1.8 0 1 0 -3.6 0M591.08 62.48a1.8 1.8 0 1 0 3.6 0a1.8 1.8 0 1 0 -3.6 0M569.66 74.62a1.8 1.8 0 1 0 3.6 0a1.8 1.8 0 1 0 -3.6 0M578.47 64.35a1.8 1.8 0 1 0 3.6 0a1.8 1.8 0 1 0 -3.6 0M580.37 72.08a1.8 1.8 0 1 0 3.6 0a1.8 1.8 0 1 0 -3.6 0M581.41 62.63a1.8 1.8 0 1 0 3.6 0a1.8 1.8 0 1 0 -3.6 0M563.84 67.62a1.8 1.8 0 1 0 3.6 0a1.8 1.8 0 1 0 -3.6 0M582.62 68.05a1.8 1.8 0 1 0 3.6 0a1.8 1.8 0 1 0 -3.6 0M565.35 74.1a1.8 1.8 0 1 0 3.6 0a1.8 1.8 0 1 0 -3.6 0M574.12 74.19a1.8 1.8 0 1 0 3.6 0a1.8 1.8 0 1 0 -3.6 0M581.59 70.57a1.8 1.8 0 1 0 3.6 0a1.8 1.8 0 1 0 -3.6 0M575.84 71.27a1.8 1.8 0 1 0 3.6 0a1.8 1.8 0 1 0 -3.6 0M570.25 65.55a1.8 1.8 0 1 0 3.6 0a1.8 1.8 0 1 0 -3.6 0M589.82 64.81a1.8 1.8 0 1 0 3.6 0a1.8 1.8 0 1 0 -3.6 0M574.67 72.28a1.8 1.8 0 1 0 3.6 0a1.8 1.8 0 1 0 -3.6 0M572.93 67.05a1.8 1.8 0 1 0 3.6 0a1.8 1.8 0 1 0 -3.6 0M590.88 64.85a1.8 1.8 0 1 0 3.6 0a1.8 1.8 0 1 0 -3.6 0M570.18 74.24a1.8 1.8 0 1 0 3.6 0a1.8 1.8 0 1 0 -3.6 0M571.23 66.56a1.8 1.8 0 1 0 3.6 0a1.8 1.8 0 1 0 -3.6 0M590.04 66.43a1.8 1.8 0 1 0 3.6 0a1.8 1.8 0 1 0 -3.6 0M588.95 65.11a1.8 1.8 0 1 0 3.6 0a1.8 1.8 0 1 0 -3.6 0M569.43 72.39a1.8 1.8 0 1 0 3.6 0a1.8 1.8 0 1 0 -3.6 0M588.33 65.1a1.8 1.8 0 1 0 3.6 0a1.8 1.8 0 1 0 -3.6 0M569.09 65.36a1.8 1.8 0 1 0 3.6 0a1.8 1.8 0 1 0 -3.6 0M566.97 67.81a1.8 1.8 0 1 0 3.6 0a1.8 1.8 0 1 0 -3.6 0M578.29 70.67a1.8 1.8 0 1 0 3.6 0a1.8 1.8 0 1 0 -3.6 0M564.42 64.65a1.8 1.8 0 1 0 3.6 0a1.8 1.8 0 1 0 -3.6 0M566.33 65.73a1.8 1.8 0 1 0 3.6 0a1.8 1.8 0 1 0 -3.6 0M568.46 74.92a1.8 1.8 0 1 0 3.6 0a1.8 1.8 0 1 0 -3.6 0M574.27 63.92a1.8 1.8 0 1 0 3.6 0a1.8 1.8 0 1 0 -3.6 0M583.36 75.43a1.8 1.8 0 1 0 3.6 0a1.8 1.8 0 1 0 -3.6 0M587.33 70.95a1.8 1.8 0 1 0 3.6 0a1.8 1.8 0 1 0 -3.6 0M574.42 67.57a1.8 1.8 0 1 0 3.6 0a1.8 1.8 0 1 0 -3.6 0M572.07 73.13a1.8 1.8 0 1 0 3.6 0a1.8 1.8 0 1 0 -3.6 0M587.6 68.75a1.8 1.8 0 1 0 3.6 0a1.8 1.8 0 1 0 -3.6 0M589.42 71a1.8 1.8 0 1 0 3.6 0a1.8 1.8 0 1 0 -3.6 0M583.95 65.71a1.8 1.8 0 1 0 3.6 0a1.8 1.8 0 1 0 -3.6 0M570.19 65.14a1.8 1.8 0 1 0 3.6 0a1.8 1.8 0 1 0 -3.6 0M590.99 73.04a1.8 1.8 0 1 0 3.6 0a1.8 1.8 0 1 0 -3.6 0M590.58 73.35a1.8 1.8 0 1 0 3.6 0a1.8 1.8 0 1 0 -3.6 0M587.65 68.02a1.8 1.8 0 1 0 3.6 0a1.8 1.8 0 1 0 -3.6 0M586.43 64.3a1.8 1.8 0 1 0 3.6 0a1.8 1.8 0 1 0 -3.6 0M583.03 62.59a1.8 1.8 0 1 0 3.6 0a1.8 1.8 0 1 0 -3.6 0M592.64 74.14a1.8 1.8 0 1 0 3.6 0a1.8 1.8 0 1 0 -3.6 0M567.81 72.61a1.8 1.8 0 1 0 3.6 0a1.8 1.8 0 1 0 -3.6 0M588.23 62.58a1.8 1.8 0 1 0 3.6 0a1.8 1.8 0 1 0 -3.6 0M580.25 67.8a1.8 1.8 0 1 0 3.6 0a1.8 1.8 0 1 0 -3.6 0M581.88 74.23a1.8 1.8 0 1 0 3.6 0a1.8 1.8 0 1 0 -3.6 0M585.11 64.91a1.8 1.8 0 1 0 3.6 0a1.8 1.8 0 1 0 -3.6 0M579.9 69.75a1.8 1.8 0 1 0 3.6 0a1.8 1.8 0 1 0 -3.6 0M573.84 64.46a1.8 1.8 0 1 0 3.6 0a1.8 1.8 0 1 0 -3.6 0M570.06 71.33a1.8 1.8 0 1 0 3.6 0a1.8 1.8 0 1 0 -3.6 0M592.5 68.32a1.8 1.8 0 1 0 3.6 0a1.8 1.8 0 1 0 -3.6 0M582.73 72.51a1.8 1.8 0 1 0 3.6 0a1.8 1.8 0 1 0 -3.6 0M583.56 71.07a1.8 1.8 0 1 0 3.6 0a1.8 1.8 0 1 0 -3.6 0M567.7 64.49a1.8 1.8 0 1 0 3.6 0a1.8 1.8 0 1 0 -3.6 0M578.5 70.1a1.8 1.8 0 1 0 3.6 0a1.8 1.8 0 1 0 -3.6 0M586.12 66.04a1.8 1.8 0 1 0 3.6 0a1.8 1.8 0 1 0 -3.6 0M592 70.67a1.8 1.8 0 1 0 3.6 0a1.8 1.8 0 1 0 -3.6 0M588.87 68.58a1.8 1.8 0 1 0 3.6 0a1.8 1.8 0 1 0 -3.6 0M564.91 62.17a1.8 1.8 0 1 0 3.6 0a1.8 1.8 0 1 0 -3.6 0M582.55 67.88a1.8 1.8 0 1 0 3.6 0a1.8 1.8 0 1 0 -3.6 0M576.35 66.5a1.8 1.8 0 1 0 3.6 0a1.8 1.8 0 1 0 -3.6 0M568.23 68.54a1.8 1.8 0 1 0 3.6 0a1.8 1.8 0 1 0 -3.6 0M570.6 74.32a1.8 1.8 0 1 0 3.6 0a1.8 1.8 0 1 0 -3.6 0M568.24 75.35a1.8 1.8 0 1 0 3.6 0a1.8 1.8 0 1 0 -3.6 0M589.37 67.29a1.8 1.8 0 1 0 3.6 0a1.8 1.8 0 1 0 -3.6 0M586.66 70.01a1.8 1.8 0 1 0 3.6 0a1.8 1.8 0 1 0 -3.6 0M577.14 73.21a1.8 1.8 0 1 0 3.6 0a1.8 1.8 0 1 0 -3.6 0M588.45 64.78a1.8 1.8 0 1 0 3.6 0a1.8 1.8 0 1 0 -3.6 0M590.79 62.44a1.8 1.8 0 1 0 3.6 0a1.8 1.8 0 1 0 -3.6 0M572.04 67.83a1.8 1.8 0 1 0 3.6 0a1.8 1.8 0 1 0 -3.6 0M577.55 68.46a1.8 1.8 0 1 0 3.6 0a1.8 1.8 0 1 0 -3.6 0M590.84 74.67a1.8 1.8 0 1 0 3.6 0a1.8 1.8 0 1 0 -3.6 0M573.43 65.97a1.8 1.8 0 1 0 3.6 0a1.8 1.8 0 1 0 -3.6 0M582.97 64.74a1.8 1.8 0 1 0 3.6 0a1.8 1.8 0 1 0 -3.6 0M575.11 71.91a1.8 1.8 0 1 0 3.6 0a1.8 1.8 0 1 0 -3.6 0M585.45 67.34a1.8 1.8 0 1 0 3.6 0a1.8 1.8 0 1 0 -3.6 0M570.38 69.45a1.8 1.8 0 1 0 3.6 0a1.8 1.8 0 1 0 -3.6 0M571.86 73.33a1.8 1.8 0 1 0 3.6 0a1.8 1.8 0 1 0 -3.6 0M581.01 66.23a1.8 1.8 0 1 0 3.6 0a1.8 1.8 0 1 0 -3.6 0M587.74 70.38a1.8 1.8 0 1 0 3.6 0a1.8 1.8 0 1 0 -3.6 0M566.79 67.71a1.8 1.8 0 1 0 3.6 0a1.8 1.8 0 1 0 -3.6 0M577.88 75.04a1.8 1.8 0 1 0 3.6 0a1.8 1.8 0 1 0 -3.6 0M572.64 68.19a1.8 1.8 0 1 0 3.6 0a1.8 1.8 0 1 0 -3.6 0M592.98 67.88a1.8 1.8 0 1 0 3.6 0a1.8 1.8 0 1 0 -3.6 0M588.34 63.34a1.8 1.8 0 1 0 3.6 0a1.8 1.8 0 1 0 -3.6 0M574.91 64.54a1.8 1.8 0 1 0 3.6 0a1.8 1.8 0 1 0 -3.6 0M590.1 69.63a1.8 1.8 0 1 0 3.6 0a1.8 1.8 0 1 0 -3.6 0M569.47 63.27a1.8 1.8 0 1 0 3.6 0a1.8 1.8 0 1 0 -3.6 0M575.75 63.33a1.8 1.8 0 1 0 3.6 0a1.8 1.8 0 1 0 -3.6 0M577.74 72.06a1.8 1.8 0 1 0 3.6 0a1.8 1.8 0 1 0 -3.6 0M572.32 64.31a1.8 1.8 0 1 0 3.6 0a1.8 1.8 0 1 0 -3.6 0M573.91 64.29a1.8 1.8 0 1 0 3.6 0a1.8 1.8 0 1 0 -3.6 0M588.86 63.33a1.8 1.8 0 1 0 3.6 0a1.8 1.8 0 1 0 -3.6 0M586.43 48.54a1.8 1.8 0 1 0 3.6 0a1.8 1.8 0 1 0 -3.6 0M586.05 57.37a1.8 1.8 0 1 0 3.6 0a1.8 1.8 0 1 0 -3.6 0M568.25 57.08a1.8 1.8 0 1 0 3.6 0a1.8 1.8 0 1 0 -3.6 0M592.57 53.25a1.8 1.8 0 1 0 3.6 0a1.8 1.8 0 1 0 -3.6 0M583.55 48.32a1.8 1.8 0 1 0 3.6 0a1.8 1.8 0 1 0 -3.6 0M569.43 56.84a1.8 1.8 0 1 0 3.6 0a1.8 1.8 0 1 0 -3.6 0M588.81 45.96a1.8 1.8 0 1 0 3.6 0a1.8 1.8 0 1 0 -3.6 0M567.6 48.92a1.8 1.8 0 1 0 3.6 0a1.8 1.8 0 1 0 -3.6 0M582.98 49.17a1.8 1.8 0 1 0 3.6 0a1.8 1.8 0 1 0 -3.6 0M593.12 57.79a1.8 1.8 0 1 0 3.6 0a1.8 1.8 0 1 0 -3.6 0M591.69 53.91a1.8 1.8 0 1 0 3.6 0a1.8 1.8 0 1 0 -3.6 0M586.87 61.01a1.8 1.8 0 1 0 3.6 0a1.8 1.8 0 1 0 -3.6 0M569.81 57.86a1.8 1.8 0 1 0 3.6 0a1.8 1.8 0 1 0 -3.6 0M571.18 56.78a1.8 1.8 0 1 0 3.6 0a1.8 1.8 0 1 0 -3.6 0M574.18 54.96a1.8 1.8 0 1 0 3.6 0a1.8 1.8 0 1 0 -3.6 0M584.57 60.16a1.8 1.8 0 1 0 3.6 0a1.8 1.8 0 1 0 -3.6 0M590.37 50.64a1.8 1.8 0 1 0 3.6 0a1.8 1.8 0 1 0 -3.6 0M584.87 45.48a1.8 1.8 0 1 0 3.6 0a1.8 1.8 0 1 0 -3.6 0M567.14 56.22a1.8 1.8 0 1 0 3.6 0a1.8 1.8 0 1 0 -3.6 0M591.41 56.88a1.8 1.8 0 1 0 3.6 0a1.8 1.8 0 1 0 -3.6 0M579.7 54.52a1.8 1.8 0 1 0 3.6 0a1.8 1.8 0 1 0 -3.6 0M586.1 53.3a1.8 1.8 0 1 0 3.6 0a1.8 1.8 0 1 0 -3.6 0M575.09 58.99a1.8 1.8 0 1 0 3.6 0a1.8 1.8 0 1 0 -3.6 0M575.28 60.05a1.8 1.8 0 1 0 3.6 0a1.8 1.8 0 1 0 -3.6 0M588.18 57.82a1.8 1.8 0 1 0 3.6 0a1.8 1.8 0 1 0 -3.6 0M589.21 61.73a1.8 1.8 0 1 0 3.6 0a1.8 1.8 0 1 0 -3.6 0M593.9 51.93a1.8 1.8 0 1 0 3.6 0a1.8 1.8 0 1 0 -3.6 0M575.52 56.61a1.8 1.8 0 1 0 3.6 0a1.8 1.8 0 1 0 -3.6 0M593.24 54.53a1.8 1.8 0 1 0 3.6 0a1.8 1.8 0 1 0 -3.6 0M578.12 57.71a1.8 1.8 0 1 0 3.6 0a1.8 1.8 0 1 0 -3.6 0M590.82 49.38a1.8 1.8 0 1 0 3.6 0a1.8 1.8 0 1 0 -3.6 0M579.72 52.16a1.8 1.8 0 1 0 3.6 0a1.8 1.8 0 1 0 -3.6 0M579.91 51.99a1.8 1.8 0 1 0 3.6 0a1.8 1.8 0 1 0 -3.6 0M590.11 45.47a1.8 1.8 0 1 0 3.6 0a1.8 1.8 0 1 0 -3.6 0M589.78 47.28a1.8 1.8 0 1 0 3.6 0a1.8 1.8 0 1 0 -3.6 0M580.38 56.08a1.8 1.8 0 1 0 3.6 0a1.8 1.8 0 1 0 -3.6 0M568.56 60.92a1.8 1.8 0 1 0 3.6 0a1.8 1.8 0 1 0 -3.6 0M592.94 61.39a1.8 1.8 0 1 0 3.6 0a1.8 1.8 0 1 0 -3.6 0M584.33 59.57a1.8 1.8 0 1 0 3.6 0a1.8 1.8 0 1 0 -3.6 0M588.48 47.09a1.8 1.8 0 1 0 3.6 0a1.8 1.8 0 1 0 -3.6 0M583.56 52.62a1.8 1.8 0 1 0 3.6 0a1.8 1.8 0 1 0 -3.6 0M586.64 58.1a1.8 1.8 0 1 0 3.6 0a1.8 1.8 0 1 0 -3.6 0M590.59 60.65a1.8 1.8 0 1 0 3.6 0a1.8 1.8 0 1 0 -3.6 0M587.26 49.55a1.8 1.8 0 1 0 3.6 0a1.8 1.8 0 1 0 -3.6 0M571.64 60.23a1.8 1.8 0 1 0 3.6 0a1.8 1.8 0 1 0 -3.6 0M576.81 51.66a1.8 1.8 0 1 0 3.6 0a1.8 1.8 0 1 0 -3.6 0M585.15 55.71a1.8 1.8 0 1 0 3.6 0a1.8 1.8 0 1 0 -3.6 0M585 54.4a1.8 1.8 0 1 0 3.6 0a1.8 1.8 0 1 0 -3.6 0M579.46 57.29a1.8 1.8 0 1 0 3.6 0a1.8 1.8 0 1 0 -3.6 0M576.07 47.1a1.8 1.8 0 1 0 3.6 0a1.8 1.8 0 1 0 -3.6 0M591.47 58.89a1.8 1.8 0 1 0 3.6 0a1.8 1.8 0 1 0 -3.6 0M585.74 45.2a1.8 1.8 0 1 0 3.6 0a1.8 1.8 0 1 0 -3.6 0M565.57 60.43a1.8 1.8 0 1 0 3.6 0a1.8 1.8 0 1 0 -3.6 0M592.49 47.3a1.8 1.8 0 1 0 3.6 0a1.8 1.8 0 1 0 -3.6 0M583.08 42.17a1.8 1.8 0 1 0 3.6 0a1.8 1.8 0 1 0 -3.6 0M576.01 56.02a1.8 1.8 0 1 0 3.6 0a1.8 1.8 0 1 0 -3.6 0M575.03 58.1a1.8 1.8 0 1 0 3.6 0a1.8 1.8 0 1 0 -3.6 0M591.58 44.57a1.8 1.8 0 1 0 3.6 0a1.8 1.8 0 1 0 -3.6 0M584.85 49.4a1.8 1.8 0 1 0 3.6 0a1.8 1.8 0 1 0 -3.6 0M569.43 48.85a1.8 1.8 0 1 0 3.6 0a1.8 1.8 0 1 0 -3.6 0M578.65 59.9a1.8 1.8 0 1 0 3.6 0a1.8 1.8 0 1 0 -3.6 0M587.16 41.9a1.8 1.8 0 1 0 3.6 0a1.8 1.8 0 1 0 -3.6 0M565.89 61.88a1.8 1.8 0 1 0 3.6 0a1.8 1.8 0 1 0 -3.6 0M580.9 54.13a1.8 1.8 0 1 0 3.6 0a1.8 1.8 0 1 0 -3.6 0M574.78 58.6a1.8 1.8 0 1 0 3.6 0a1.8 1.8 0 1 0 -3.6 0M580.91 53.77a1.8 1.8 0 1 0 3.6 0a1.8 1.8 0 1 0 -3.6 0M571.69 57.49a1.8 1.8 0 1 0 3.6 0a1.8 1.8 0 1 0 -3.6 0M570.63 44.57a1.8 1.8 0 1 0 3.6 0a1.8 1.8 0 1 0 -3.6 0M582.12 58.61a1.8 1.8 0 1 0 3.6 0a1.8 1.8 0 1 0 -3.6 0M572.99 47.9a1.8 1.8 0 1 0 3.6 0a1.8 1.8 0 1 0 -3.6 0M568.68 53.98a1.8 1.8 0 1 0 3.6 0a1.8 1.8 0 1 0 -3.6 0M587.32 44.34a1.8 1.8 0 1 0 3.6 0a1.8 1.8 0 1 0 -3.6 0M580.26 52.7a1.8 1.8 0 1 0 3.6 0a1.8 1.8 0 1 0 -3.6 0M567.4 52.51a1.8 1.8 0 1 0 3.6 0a1.8 1.8 0 1 0 -3.6 0M572.36 45.82a1.8 1.8 0 1 0 3.6 0a1.8 1.8 0 1 0 -3.6 0M574.5 54.3a1.8 1.8 0 1 0 3.6 0a1.8 1.8 0 1 0 -3.6 0M576.34 42.16a1.8 1.8 0 1 0 3.6 0a1.8 1.8 0 1 0 -3.6 0M590.19 46.63a1.8 1.8 0 1 0 3.6 0a1.8 1.8 0 1 0 -3.6 0M576.56 60.15a1.8 1.8 0 1 0 3.6 0a1.8 1.8 0 1 0 -3.6 0M593.29 60.28a1.8 1.8 0 1 0 3.6 0a1.8 1.8 0 1 0 -3.6 0M576.53 56.83a1.8 1.8 0 1 0 3.6 0a1.8 1.8 0 1 0 -3.6 0M589.65 45.78a1.8 1.8 0 1 0 3.6 0a1.8 1.8 0 1 0 -3.6 0M583.93 46.63a1.8 1.8 0 1 0 3.6 0a1.8 1.8 0 1 0 -3.6 0M570.65 44.57a1.8 1.8 0 1 0 3.6 0a1.8 1.8 0 1 0 -3.6 0M591.57 45.15a1.8 1.8 0 1 0 3.6 0a1.8 1.8 0 1 0 -3.6 0M574.08 46.07a1.8 1.8 0 1 0 3.6 0a1.8 1.8 0 1 0 -3.6 0M590.04 47.87a1.8 1.8 0 1 0 3.6 0a1.8 1.8 0 1 0 -3.6 0M592.77 56.96a1.8 1.8 0 1 0 3.6 0a1.8 1.8 0 1 0 -3.6 0M572.12 52.1a1.8 1.8 0 1 0 3.6 0a1.8 1.8 0 1 0 -3.6 0M569.03 50.03a1.8 1.8 0 1 0 3.6 0a1.8 1.8 0 1 0 -3.6 0M582 47.29a1.8 1.8 0 1 0 3.6 0a1.8 1.8 0 1 0 -3.6 0M564.6 60.77a1.8 1.8 0 1 0 3.6 0a1.8 1.8 0 1 0 -3.6 0M567.95 48.42a1.8 1.8 0 1 0 3.6 0a1.8 1.8 0 1 0 -3.6 0M576.25 52.58a1.8 1.8 0 1 0 3.6 0a1.8 1.8 0 1 0 -3.6 0M573.91 46.85a1.8 1.8 0 1 0 3.6 0a1.8 1.8 0 1 0 -3.6 0M587.77 47.43a1.8 1.8 0 1 0 3.6 0a1.8 1.8 0 1 0 -3.6 0M574.16 51.72a1.8 1.8 0 1 0 3.6 0a1.8 1.8 0 1 0 -3.6 0M572.41 56.48a1.8 1.8 0 1 0 3.6 0a1.8 1.8 0 1 0 -3.6 0M576.83 47.01a1.8 1.8 0 1 0 3.6 0a1.8 1.8 0 1 0 -3.6 0M589.4 48.95a1.8 1.8 0 1 0 3.6 0a1.8 1.8 0 1 0 -3.6 0M576.82 51.27a1.8 1.8 0 1 0 3.6 0a1.8 1.8 0 1 0 -3.6 0M589.11 46.22a1.8 1.8 0 1 0 3.6 0a1.8 1.8 0 1 0 -3.6 0M589.06 60.96a1.8 1.8 0 1 0 3.6 0a1.8 1.8 0 1 0 -3.6 0M572.18 45.22a1.8 1.8 0 1 0 3.6 0a1.8 1.8 0 1 0 -3.6 0M587.86 48.12a1.8 1.8 0 1 0 3.6 0a1.8 1.8 0 1 0 -3.6 0M571.35 38.19a1.8 1.8 0 1 0 3.6 0a1.8 1.8 0 1 0 -3.6 0M574.36 38.19a1.8 1.8 0 1 0 3.6 0a1.8 1.8 0 1 0 -3.6 0M576.1 38.19a1.8 1.8 0 1 0 3.6 0a1.8 1.8 0 1 0 -3.6 0M579.78 38.19a1.8 1.8 0 1 0 3.6 0a1.8 1.8 0 1 0 -3.6 0M581.83 38.19a1.8 1.8 0 1 0 3.6 0a1.8 1.8 0 1 0 -3.6 0M584.65 38.19a1.8 1.8 0 1 0 3.6 0a1.8 1.8 0 1 0 -3.6 0M586.59 38.19a1.8 1.8 0 1 0 3.6 0a1.8 1.8 0 1 0 -3.6 0M588.26 38.19a1.8 1.8 0 1 0 3.6 0a1.8 1.8 0 1 0 -3.6 0M591.16 38.19a1.8 1.8 0 1 0 3.6 0a1.8 1.8 0 1 0 -3.6 0M592.99 38.19a1.8 1.8 0 1 0 3.6 0a1.8 1.8 0 1 0 -3.6 0M595.9 38.19a1.8 1.8 0 1 0 3.6 0a1.8 1.8 0 1 0 -3.6 0M598.01 38.19a1.8 1.8 0 1 0 3.6 0a1.8 1.8 0 1 0 -3.6 0M599.48 38.19a1.8 1.8 0 1 0 3.6 0a1.8 1.8 0 1 0 -3.6 0M568.49 44.21a1.8 1.8 0 1 0 3.6 0a1.8 1.8 0 1 0 -3.6 0M570.48 44.21a1.8 1.8 0 1 0 3.6 0a1.8 1.8 0 1 0 -3.6 0M572.21 44.21a1.8 1.8 0 1 0 3.6 0a1.8 1.8 0 1 0 -3.6 0M574.93 44.21a1.8 1.8 0 1 0 3.6 0a1.8 1.8 0 1 0 -3.6 0M577.4 44.21a1.8 1.8 0 1 0 3.6 0a1.8 1.8 0 1 0 -3.6 0M578.06 44.21a1.8 1.8 0 1 0 3.6 0a1.8 1.8 0 1 0 -3.6 0M580.03 44.21a1.8 1.8 0 1 0 3.6 0a1.8 1.8 0 1 0 -3.6 0M580.81 44.21a1.8 1.8 0 1 0 3.6 0a1.8 1.8 0 1 0 -3.6 0M584.09 44.21a1.8 1.8 0 1 0 3.6 0a1.8 1.8 0 1 0 -3.6 0M585.86 44.21a1.8 1.8 0 1 0 3.6 0a1.8 1.8 0 1 0 -3.6 0M586.75 44.21a1.8 1.8 0 1 0 3.6 0a1.8 1.8 0 1 0 -3.6 0M590.24 44.21a1.8 1.8 0 1 0 3.6 0a1.8 1.8 0 1 0 -3.6 0M592.39 44.21a1.8 1.8 0 1 0 3.6 0a1.8 1.8 0 1 0 -3.6 0M593.52 44.21a1.8 1.8 0 1 0 3.6 0a1.8 1.8 0 1 0 -3.6 0M595.71 44.21a1.8 1.8 0 1 0 3.6 0a1.8 1.8 0 1 0 -3.6 0M602.68 34.88a1.8 1.8 0 1 0 3.6 0a1.8 1.8 0 1 0 -3.6 0M599.83 31.52a1.8 1.8 0 1 0 3.6 0a1.8 1.8 0 1 0 -3.6 0M599.4 28.64a1.8 1.8 0 1 0 3.6 0a1.8 1.8 0 1 0 -3.6 0M607.53 34.85a1.8 1.8 0 1 0 3.6 0a1.8 1.8 0 1 0 -3.6 0M609.93 28.9a1.8 1.8 0 1 0 3.6 0a1.8 1.8 0 1 0 -3.6 0M595.21 36.33a1.8 1.8 0 1 0 3.6 0a1.8 1.8 0 1 0 -3.6 0M611.88 33.09a1.8 1.8 0 1 0 3.6 0a1.8 1.8 0 1 0 -3.6 0M604.43 31.35a1.8 1.8 0 1 0 3.6 0a1.8 1.8 0 1 0 -3.6 0M524.6 52.9a1.8 1.8 0 1 0 3.6 0a1.8 1.8 0 1 0 -3.6 0M521.3 57.9a1.8 1.8 0 1 0 3.6 0a1.8 1.8 0 1 0 -3.6 0M537.2 61.5a1.8 1.8 0 1 0 3.6 0a1.8 1.8 0 1 0 -3.6 0M535.7 62.7a1.8 1.8 0 1 0 3.6 0a1.8 1.8 0 1 0 -3.6 0M538.4 60.2a1.8 1.8 0 1 0 3.6 0a1.8 1.8 0 1 0 -3.6 0M543.9 60a1.8 1.8 0 1 0 3.6 0a1.8 1.8 0 1 0 -3.6 0M530.1 68.3a1.8 1.8 0 1 0 3.6 0a1.8 1.8 0 1 0 -3.6 0M523.6 72.6a1.8 1.8 0 1 0 3.6 0a1.8 1.8 0 1 0 -3.6 0M528.6 72.6a1.8 1.8 0 1 0 3.6 0a1.8 1.8 0 1 0 -3.6 0M528.9 75.7a1.8 1.8 0 1 0 3.6 0a1.8 1.8 0 1 0 -3.6 0M541.8 66.4a1.8 1.8 0 1 0 3.6 0a1.8 1.8 0 1 0 -3.6 0M542.5 67.8a1.8 1.8 0 1 0 3.6 0a1.8 1.8 0 1 0 -3.6 0M547.4 68.6a1.8 1.8 0 1 0 3.6 0a1.8 1.8 0 1 0 -3.6 0M546.8 71.4a1.8 1.8 0 1 0 3.6 0a1.8 1.8 0 1 0 -3.6 0M543.2 74a1.8 1.8 0 1 0 3.6 0a1.8 1.8 0 1 0 -3.6 0M538.2 73.3a1.8 1.8 0 1 0 3.6 0a1.8 1.8 0 1 0 -3.6 0M533.2 71a1.8 1.8 0 1 0 3.6 0a1.8 1.8 0 1 0 -3.6 0M551.2 73a1.8 1.8 0 1 0 3.6 0a1.8 1.8 0 1 0 -3.6 0M554.2 70a1.8 1.8 0 1 0 3.6 0a1.8 1.8 0 1 0 -3.6 0M599.3 27.7a1.8 1.8 0 1 0 3.6 0a1.8 1.8 0 1 0 -3.6 0M603.2 31a1.8 1.8 0 1 0 3.6 0a1.8 1.8 0 1 0 -3.6 0M606.2 31a1.8 1.8 0 1 0 3.6 0a1.8 1.8 0 1 0 -3.6 0M609.2 31a1.8 1.8 0 1 0 3.6 0a1.8 1.8 0 1 0 -3.6 0M618.5 30.7a1.8 1.8 0 1 0 3.6 0a1.8 1.8 0 1 0 -3.6 0M621.5 29.2a1.8 1.8 0 1 0 3.6 0a1.8 1.8 0 1 0 -3.6 0M600.9 34.5a1.8 1.8 0 1 0 3.6 0a1.8 1.8 0 1 0 -3.6 0M605.2 34.5a1.8 1.8 0 1 0 3.6 0a1.8 1.8 0 1 0 -3.6 0M600.2 39a1.8 1.8 0 1 0 3.6 0a1.8 1.8 0 1 0 -3.6 0M606.2 38.4a1.8 1.8 0 1 0 3.6 0a1.8 1.8 0 1 0 -3.6 0M610.8 38.7a1.8 1.8 0 1 0 3.6 0a1.8 1.8 0 1 0 -3.6 0M614.6 38.7a1.8 1.8 0 1 0 3.6 0a1.8 1.8 0 1 0 -3.6 0M623 38.1a1.8 1.8 0 1 0 3.6 0a1.8 1.8 0 1 0 -3.6 0M600.5 43.7a1.8 1.8 0 1 0 3.6 0a1.8 1.8 0 1 0 -3.6 0M607.3 44a1.8 1.8 0 1 0 3.6 0a1.8 1.8 0 1 0 -3.6 0M608.5 53.7a1.8 1.8 0 1 0 3.6 0a1.8 1.8 0 1 0 -3.6 0M600.9 55.2a1.8 1.8 0 1 0 3.6 0a1.8 1.8 0 1 0 -3.6 0M608.5 57.5a1.8 1.8 0 1 0 3.6 0a1.8 1.8 0 1 0 -3.6 0M599.3 60.1a1.8 1.8 0 1 0 3.6 0a1.8 1.8 0 1 0 -3.6 0M603.9 70.5a1.8 1.8 0 1 0 3.6 0a1.8 1.8 0 1 0 -3.6 0M602.4 72.8a1.8 1.8 0 1 0 3.6 0a1.8 1.8 0 1 0 -3.6 0M608.5 72a1.8 1.8 0 1 0 3.6 0a1.8 1.8 0 1 0 -3.6 0M611.6 68.7a1.8 1.8 0 1 0 3.6 0a1.8 1.8 0 1 0 -3.6 0M617.7 69.3a1.8 1.8 0 1 0 3.6 0a1.8 1.8 0 1 0 -3.6 0M624.9 34.5a1.8 1.8 0 1 0 3.6 0a1.8 1.8 0 1 0 -3.6 0M632.2 59.8a1.8 1.8 0 1 0 3.6 0a1.8 1.8 0 1 0 -3.6 0M672 31a1.8 1.8 0 1 0 3.6 0a1.8 1.8 0 1 0 -3.6 0M595.2 28.9a1.8 1.8 0 1 0 3.6 0a1.8 1.8 0 1 0 -3.6 0M591.8 28.4a1.8 1.8 0 1 0 3.6 0a1.8 1.8 0 1 0 -3.6 0M568.2 34a1.8 1.8 0 1 0 3.6 0a1.8 1.8 0 1 0 -3.6 0M573.2 33.5a1.8 1.8 0 1 0 3.6 0a1.8 1.8 0 1 0 -3.6 0M578.2 36.5a1.8 1.8 0 1 0 3.6 0a1.8 1.8 0 1 0 -3.6 0M584.2 35a1.8 1.8 0 1 0 3.6 0a1.8 1.8 0 1 0 -3.6 0M571.2 38.5a1.8 1.8 0 1 0 3.6 0a1.8 1.8 0 1 0 -3.6 0M565.7 40a1.8 1.8 0 1 0 3.6 0a1.8 1.8 0 1 0 -3.6 0M597.7 50a1.8 1.8 0 1 0 3.6 0a1.8 1.8 0 1 0 -3.6 0M596.2 66a1.8 1.8 0 1 0 3.6 0a1.8 1.8 0 1 0 -3.6 0M598.2 74a1.8 1.8 0 1 0 3.6 0a1.8 1.8 0 1 0 -3.6 0" fill="none" stroke="#e8262c" stroke-width="0.6"/>
<line x1="590.4" y1="30.6" x2="597" y2="28.9" stroke="#333" stroke-width="0.6"/>
<line x1="565.9" y1="41.1" x2="589" y2="43.5" stroke="#333" stroke-width="0.6"/>
<line x1="561.9" y1="51.1" x2="578.5" y2="54.1" stroke="#333" stroke-width="0.6"/>
<line x1="562.3" y1="72.2" x2="567.8" y2="70.4" stroke="#333" stroke-width="0.6"/>
<line x1="529.3" y1="65.7" x2="537.1" y2="63.6" stroke="#333" stroke-width="0.6"/>
<line x1="601.1" y1="61.3" x2="590.4" y2="44.2" stroke="#333" stroke-width="0.6"/>
<line x1="631.7" y1="30.7" x2="627.9" y2="33.8" stroke="#333" stroke-width="0.6"/>
<line x1="614.9" y1="40.7" x2="606.5" y2="33.8" stroke="#333" stroke-width="0.6"/>
<line x1="669.2" y1="39.6" x2="673.1" y2="32.6" stroke="#333" stroke-width="0.6"/>
<line x1="615.7" y1="52.9" x2="609.5" y2="44.5" stroke="#333" stroke-width="0.6"/>
<line x1="637.6" y1="66.7" x2="634.5" y2="61" stroke="#333" stroke-width="0.6"/>
<line x1="595.5" y1="83" x2="589.5" y2="80.5" stroke="#333" stroke-width="0.6"/>
<text x="563.6" y="33.2" font-size="8" fill="#111">PRDX5</text>
<text x="563.9" y="44.2" font-size="8" text-anchor="end" fill="#111">IL-1B</text>
<text x="558.6" y="56.1" font-size="8" text-anchor="end" fill="#111">DR4</text>
<text x="561.2" y="75.2" font-size="8" text-anchor="end" fill="#111">IL-1R1</text>
<text x="526.9" y="70" font-size="8" text-anchor="end" fill="#111">ENDOU</text>
<text x="632.5" y="33.3" font-size="8" fill="#111">MNDA</text>
<text x="615.7" y="46.9" font-size="8" fill="#111">CASP8</text>
<text x="660.8" y="47.4" font-size="8" fill="#111">IL-8</text>
<text x="616" y="59.6" font-size="8" fill="#111">IL-6</text>
<text x="597.8" y="68.4" font-size="8" fill="#111">NFKB1</text>
<text x="632.2" y="73.1" font-size="8" fill="#111">MMP8</text>
<text x="595.8" y="88" font-size="8" fill="#111">IFNG</text>
<line x1="33.4" y1="184.4" x2="33.4" y2="281.7" stroke="#111" stroke-width="0.9"/>
<line x1="33" y1="281.2" x2="80.6" y2="281.2" stroke="#111" stroke-width="0.9"/>
<line x1="29.4" y1="184.4" x2="33.4" y2="184.4" stroke="#111" stroke-width="0.9"/>
<text x="27" y="187.4" font-size="8.5" text-anchor="end" fill="#111">6</text>
<line x1="29.4" y1="208.6" x2="33.4" y2="208.6" stroke="#111" stroke-width="0.9"/>
<text x="27" y="211.6" font-size="8.5" text-anchor="end" fill="#111">4</text>
<line x1="29.4" y1="232.8" x2="33.4" y2="232.8" stroke="#111" stroke-width="0.9"/>
<text x="27" y="235.8" font-size="8.5" text-anchor="end" fill="#111">2</text>
<line x1="29.4" y1="257" x2="33.4" y2="257" stroke="#111" stroke-width="0.9"/>
<text x="27" y="260" font-size="8.5" text-anchor="end" fill="#111">0</text>
<line x1="29.4" y1="281.2" x2="33.4" y2="281.2" stroke="#111" stroke-width="0.9"/>
<text x="27" y="284.2" font-size="8.5" text-anchor="end" fill="#111">-2</text>
<line x1="47.4" y1="281.2" x2="47.4" y2="284.6" stroke="#111" stroke-width="0.9"/>
<line x1="68.3" y1="281.2" x2="68.3" y2="284.6" stroke="#111" stroke-width="0.9"/>
<line x1="34.4" y1="257" x2="80.6" y2="257" stroke="#444" stroke-width="0.8" stroke-dasharray="1 1.3"/>
<path d="M45.15 225.54a2.25 2.25 0 1 0 4.5 0a2.25 2.25 0 1 0 -4.5 0M45.15 244.52a2.25 2.25 0 1 0 4.5 0a2.25 2.25 0 1 0 -4.5 0M46.15 246.64a2.25 2.25 0 1 0 4.5 0a2.25 2.25 0 1 0 -4.5 0M44.15 248.03a2.25 2.25 0 1 0 4.5 0a2.25 2.25 0 1 0 -4.5 0M45.15 252.15a2.25 2.25 0 1 0 4.5 0a2.25 2.25 0 1 0 -4.5 0M47.4 252.95a2.25 2.25 0 1 0 4.5 0a2.25 2.25 0 1 0 -4.5 0M43.15 253.58a2.25 2.25 0 1 0 4.5 0a2.25 2.25 0 1 0 -4.5 0M43.69 253.63a2.25 2.25 0 1 0 4.5 0a2.25 2.25 0 1 0 -4.5 0M45.9 254.77a2.25 2.25 0 1 0 4.5 0a2.25 2.25 0 1 0 -4.5 0M42.4 255.87a2.25 2.25 0 1 0 4.5 0a2.25 2.25 0 1 0 -4.5 0M47.65 256.57a2.25 2.25 0 1 0 4.5 0a2.25 2.25 0 1 0 -4.5 0M45.15 260.28a2.25 2.25 0 1 0 4.5 0a2.25 2.25 0 1 0 -4.5 0M47.4 261.21a2.25 2.25 0 1 0 4.5 0a2.25 2.25 0 1 0 -4.5 0M43.15 261.62a2.25 2.25 0 1 0 4.5 0a2.25 2.25 0 1 0 -4.5 0M49.27 262.03a2.25 2.25 0 1 0 4.5 0a2.25 2.25 0 1 0 -4.5 0M42.48 262.2a2.25 2.25 0 1 0 4.5 0a2.25 2.25 0 1 0 -4.5 0M45.4 262.71a2.25 2.25 0 1 0 4.5 0a2.25 2.25 0 1 0 -4.5 0M45.65 263.69a2.25 2.25 0 1 0 4.5 0a2.25 2.25 0 1 0 -4.5 0M43.4 264.53a2.25 2.25 0 1 0 4.5 0a2.25 2.25 0 1 0 -4.5 0M46.65 265.88a2.25 2.25 0 1 0 4.5 0a2.25 2.25 0 1 0 -4.5 0M41.4 266.05a2.25 2.25 0 1 0 4.5 0a2.25 2.25 0 1 0 -4.5 0M44.9 267.53a2.25 2.25 0 1 0 4.5 0a2.25 2.25 0 1 0 -4.5 0M46.9 269a2.25 2.25 0 1 0 4.5 0a2.25 2.25 0 1 0 -4.5 0M43.65 269.58a2.25 2.25 0 1 0 4.5 0a2.25 2.25 0 1 0 -4.5 0M45.15 276.21a2.25 2.25 0 1 0 4.5 0a2.25 2.25 0 1 0 -4.5 0" fill="none" stroke="#111" stroke-width="0.75"/>
<path d="M66.05 189.24a2.25 2.25 0 1 0 4.5 0a2.25 2.25 0 1 0 -4.5 0M66.05 198.92a2.25 2.25 0 1 0 4.5 0a2.25 2.25 0 1 0 -4.5 0M66.05 201.34a2.25 2.25 0 1 0 4.5 0a2.25 2.25 0 1 0 -4.5 0M66.05 204.97a2.25 2.25 0 1 0 4.5 0a2.25 2.25 0 1 0 -4.5 0M66.05 207.39a2.25 2.25 0 1 0 4.5 0a2.25 2.25 0 1 0 -4.5 0M66.05 209.81a2.25 2.25 0 1 0 4.5 0a2.25 2.25 0 1 0 -4.5 0M66.05 217.49a2.25 2.25 0 1 0 4.5 0a2.25 2.25 0 1 0 -4.5 0M68.3 218.18a2.25 2.25 0 1 0 4.5 0a2.25 2.25 0 1 0 -4.5 0M66.05 220.6a2.25 2.25 0 1 0 4.5 0a2.25 2.25 0 1 0 -4.5 0M68.55 220.65a2.25 2.25 0 1 0 4.5 0a2.25 2.25 0 1 0 -4.5 0M66.05 226.74a2.25 2.25 0 1 0 4.5 0a2.25 2.25 0 1 0 -4.5 0M68.55 226.78a2.25 2.25 0 1 0 4.5 0a2.25 2.25 0 1 0 -4.5 0M63.8 227.78a2.25 2.25 0 1 0 4.5 0a2.25 2.25 0 1 0 -4.5 0M67.3 228.86a2.25 2.25 0 1 0 4.5 0a2.25 2.25 0 1 0 -4.5 0M69.8 229.14a2.25 2.25 0 1 0 4.5 0a2.25 2.25 0 1 0 -4.5 0M62.3 229.65a2.25 2.25 0 1 0 4.5 0a2.25 2.25 0 1 0 -4.5 0M65.3 230.4a2.25 2.25 0 1 0 4.5 0a2.25 2.25 0 1 0 -4.5 0M67.52 230.7a2.25 2.25 0 1 0 4.5 0a2.25 2.25 0 1 0 -4.5 0M68.65 231.12a2.25 2.25 0 1 0 4.5 0a2.25 2.25 0 1 0 -4.5 0M68.68 231.18a2.25 2.25 0 1 0 4.5 0a2.25 2.25 0 1 0 -4.5 0M63.55 232.16a2.25 2.25 0 1 0 4.5 0a2.25 2.25 0 1 0 -4.5 0M66.05 233.16a2.25 2.25 0 1 0 4.5 0a2.25 2.25 0 1 0 -4.5 0M69.55 233.37a2.25 2.25 0 1 0 4.5 0a2.25 2.25 0 1 0 -4.5 0M65.1 233.77a2.25 2.25 0 1 0 4.5 0a2.25 2.25 0 1 0 -4.5 0M62.05 234.06a2.25 2.25 0 1 0 4.5 0a2.25 2.25 0 1 0 -4.5 0M64.13 234.44a2.25 2.25 0 1 0 4.5 0a2.25 2.25 0 1 0 -4.5 0M70.08 234.69a2.25 2.25 0 1 0 4.5 0a2.25 2.25 0 1 0 -4.5 0M66.49 234.72a2.25 2.25 0 1 0 4.5 0a2.25 2.25 0 1 0 -4.5 0M64.22 235.55a2.25 2.25 0 1 0 4.5 0a2.25 2.25 0 1 0 -4.5 0M63.01 235.65a2.25 2.25 0 1 0 4.5 0a2.25 2.25 0 1 0 -4.5 0M68.6 235.76a2.25 2.25 0 1 0 4.5 0a2.25 2.25 0 1 0 -4.5 0M68.98 236.47a2.25 2.25 0 1 0 4.5 0a2.25 2.25 0 1 0 -4.5 0M66.64 236.47a2.25 2.25 0 1 0 4.5 0a2.25 2.25 0 1 0 -4.5 0M65.08 236.47a2.25 2.25 0 1 0 4.5 0a2.25 2.25 0 1 0 -4.5 0M67.39 236.62a2.25 2.25 0 1 0 4.5 0a2.25 2.25 0 1 0 -4.5 0M70.08 236.72a2.25 2.25 0 1 0 4.5 0a2.25 2.25 0 1 0 -4.5 0M66.71 236.77a2.25 2.25 0 1 0 4.5 0a2.25 2.25 0 1 0 -4.5 0M68.46 236.79a2.25 2.25 0 1 0 4.5 0a2.25 2.25 0 1 0 -4.5 0M69.26 237.44a2.25 2.25 0 1 0 4.5 0a2.25 2.25 0 1 0 -4.5 0M63.55 238.31a2.25 2.25 0 1 0 4.5 0a2.25 2.25 0 1 0 -4.5 0M68.21 238.67a2.25 2.25 0 1 0 4.5 0a2.25 2.25 0 1 0 -4.5 0M65.94 238.95a2.25 2.25 0 1 0 4.5 0a2.25 2.25 0 1 0 -4.5 0M63.35 239.21a2.25 2.25 0 1 0 4.5 0a2.25 2.25 0 1 0 -4.5 0M67.7 239.68a2.25 2.25 0 1 0 4.5 0a2.25 2.25 0 1 0 -4.5 0M70.05 240.25a2.25 2.25 0 1 0 4.5 0a2.25 2.25 0 1 0 -4.5 0M66.05 242.39a2.25 2.25 0 1 0 4.5 0a2.25 2.25 0 1 0 -4.5 0M68.55 242.48a2.25 2.25 0 1 0 4.5 0a2.25 2.25 0 1 0 -4.5 0M63.8 243.1a2.25 2.25 0 1 0 4.5 0a2.25 2.25 0 1 0 -4.5 0M68.83 243.19a2.25 2.25 0 1 0 4.5 0a2.25 2.25 0 1 0 -4.5 0M69.94 243.8a2.25 2.25 0 1 0 4.5 0a2.25 2.25 0 1 0 -4.5 0M66.8 244.64a2.25 2.25 0 1 0 4.5 0a2.25 2.25 0 1 0 -4.5 0M64.8 246.08a2.25 2.25 0 1 0 4.5 0a2.25 2.25 0 1 0 -4.5 0M68.55 246.22a2.25 2.25 0 1 0 4.5 0a2.25 2.25 0 1 0 -4.5 0M62.3 246.46a2.25 2.25 0 1 0 4.5 0a2.25 2.25 0 1 0 -4.5 0M63.13 246.88a2.25 2.25 0 1 0 4.5 0a2.25 2.25 0 1 0 -4.5 0M62.8 247.02a2.25 2.25 0 1 0 4.5 0a2.25 2.25 0 1 0 -4.5 0M66.55 247.8a2.25 2.25 0 1 0 4.5 0a2.25 2.25 0 1 0 -4.5 0M67.19 247.92a2.25 2.25 0 1 0 4.5 0a2.25 2.25 0 1 0 -4.5 0M70.05 248.14a2.25 2.25 0 1 0 4.5 0a2.25 2.25 0 1 0 -4.5 0M68.8 248.38a2.25 2.25 0 1 0 4.5 0a2.25 2.25 0 1 0 -4.5 0M64.55 249.07a2.25 2.25 0 1 0 4.5 0a2.25 2.25 0 1 0 -4.5 0M62.3 250.01a2.25 2.25 0 1 0 4.5 0a2.25 2.25 0 1 0 -4.5 0M66.55 250.57a2.25 2.25 0 1 0 4.5 0a2.25 2.25 0 1 0 -4.5 0M69.05 251.08a2.25 2.25 0 1 0 4.5 0a2.25 2.25 0 1 0 -4.5 0M64.3 251.53a2.25 2.25 0 1 0 4.5 0a2.25 2.25 0 1 0 -4.5 0M62.49 251.58a2.25 2.25 0 1 0 4.5 0a2.25 2.25 0 1 0 -4.5 0M67.01 252.09a2.25 2.25 0 1 0 4.5 0a2.25 2.25 0 1 0 -4.5 0M64.09 252.26a2.25 2.25 0 1 0 4.5 0a2.25 2.25 0 1 0 -4.5 0M68.55 253.93a2.25 2.25 0 1 0 4.5 0a2.25 2.25 0 1 0 -4.5 0M66.05 254.51a2.25 2.25 0 1 0 4.5 0a2.25 2.25 0 1 0 -4.5 0M63.55 254.67a2.25 2.25 0 1 0 4.5 0a2.25 2.25 0 1 0 -4.5 0M70.24 254.7a2.25 2.25 0 1 0 4.5 0a2.25 2.25 0 1 0 -4.5 0M64.89 255.13a2.25 2.25 0 1 0 4.5 0a2.25 2.25 0 1 0 -4.5 0M62.54 255.46a2.25 2.25 0 1 0 4.5 0a2.25 2.25 0 1 0 -4.5 0M68.42 255.63a2.25 2.25 0 1 0 4.5 0a2.25 2.25 0 1 0 -4.5 0M64.38 255.95a2.25 2.25 0 1 0 4.5 0a2.25 2.25 0 1 0 -4.5 0M65.37 255.97a2.25 2.25 0 1 0 4.5 0a2.25 2.25 0 1 0 -4.5 0M69.8 257.57a2.25 2.25 0 1 0 4.5 0a2.25 2.25 0 1 0 -4.5 0M67.05 257.66a2.25 2.25 0 1 0 4.5 0a2.25 2.25 0 1 0 -4.5 0M66.05 259.98a2.25 2.25 0 1 0 4.5 0a2.25 2.25 0 1 0 -4.5 0M68.55 260.38a2.25 2.25 0 1 0 4.5 0a2.25 2.25 0 1 0 -4.5 0M63.55 260.4a2.25 2.25 0 1 0 4.5 0a2.25 2.25 0 1 0 -4.5 0M66.05 263.34a2.25 2.25 0 1 0 4.5 0a2.25 2.25 0 1 0 -4.5 0M68.05 264.61a2.25 2.25 0 1 0 4.5 0a2.25 2.25 0 1 0 -4.5 0M64.3 265.07a2.25 2.25 0 1 0 4.5 0a2.25 2.25 0 1 0 -4.5 0M66.05 266.88a2.25 2.25 0 1 0 4.5 0a2.25 2.25 0 1 0 -4.5 0M68.55 267.36a2.25 2.25 0 1 0 4.5 0a2.25 2.25 0 1 0 -4.5 0M66.05 270.28a2.25 2.25 0 1 0 4.5 0a2.25 2.25 0 1 0 -4.5 0M68.55 270.54a2.25 2.25 0 1 0 4.5 0a2.25 2.25 0 1 0 -4.5 0M63.8 271.22a2.25 2.25 0 1 0 4.5 0a2.25 2.25 0 1 0 -4.5 0M66.05 273.67a2.25 2.25 0 1 0 4.5 0a2.25 2.25 0 1 0 -4.5 0M67.3 275.74a2.25 2.25 0 1 0 4.5 0a2.25 2.25 0 1 0 -4.5 0M64.8 276.17a2.25 2.25 0 1 0 4.5 0a2.25 2.25 0 1 0 -4.5 0M69.55 276.47a2.25 2.25 0 1 0 4.5 0a2.25 2.25 0 1 0 -4.5 0" fill="none" stroke="#111" stroke-width="0.75"/>
<line x1="40.1" y1="259.42" x2="54.7" y2="259.42" stroke="#e8503a" stroke-width="1.1"/>
<line x1="61" y1="244.9" x2="75.6" y2="244.9" stroke="#e8503a" stroke-width="1.1"/>
<text x="57.8" y="172.9" font-size="12.2" text-anchor="middle" fill="#111">IL-6</text>
<text x="58.55" y="184.6" font-size="8.5" text-anchor="middle" font-weight="bold" fill="#111" letter-spacing="1.1">***</text>
<line x1="47" y1="184.3" x2="68.8" y2="184.3" stroke="#b5b5b5" stroke-width="1"/>
<text x="51.5" y="292.4" font-size="8.4" text-anchor="end" fill="#111" transform="rotate(-45 51.5 292.4)">CR</text>
<text x="72.4" y="292.4" font-size="8.4" text-anchor="end" fill="#111" transform="rotate(-45 72.4 292.4)">PASC</text>
<text x="15.9" y="233.4" font-size="12.2" text-anchor="middle" fill="#111" transform="rotate(-90 15.9 233.4)">Abundance</text>
<text x="8.2" y="165.9" font-size="12" font-weight="bold">c</text>
<line x1="98.9" y1="183.9" x2="98.9" y2="281" stroke="#111" stroke-width="0.9"/>
<line x1="98.5" y1="280.5" x2="146" y2="280.5" stroke="#111" stroke-width="0.9"/>
<line x1="94.9" y1="183.9" x2="98.9" y2="183.9" stroke="#111" stroke-width="0.9"/>
<text x="92.5" y="186.9" font-size="8.5" text-anchor="end" fill="#111">15</text>
<line x1="94.9" y1="216.1" x2="98.9" y2="216.1" stroke="#111" stroke-width="0.9"/>
<text x="92.5" y="219.1" font-size="8.5" text-anchor="end" fill="#111">10</text>
<line x1="94.9" y1="248.3" x2="98.9" y2="248.3" stroke="#111" stroke-width="0.9"/>
<text x="92.5" y="251.3" font-size="8.5" text-anchor="end" fill="#111">5</text>
<line x1="94.9" y1="280.5" x2="98.9" y2="280.5" stroke="#111" stroke-width="0.9"/>
<text x="92.5" y="283.5" font-size="8.5" text-anchor="end" fill="#111">0</text>
<line x1="112.5" y1="280.5" x2="112.5" y2="283.9" stroke="#111" stroke-width="0.9"/>
<line x1="133.9" y1="280.5" x2="133.9" y2="283.9" stroke="#111" stroke-width="0.9"/>
<path d="M110.25 231.56a2.25 2.25 0 1 0 4.5 0a2.25 2.25 0 1 0 -4.5 0M112.75 232.2a2.25 2.25 0 1 0 4.5 0a2.25 2.25 0 1 0 -4.5 0M110.25 238.64a2.25 2.25 0 1 0 4.5 0a2.25 2.25 0 1 0 -4.5 0M110.25 243.47a2.25 2.25 0 1 0 4.5 0a2.25 2.25 0 1 0 -4.5 0M110.25 253.3a2.25 2.25 0 1 0 4.5 0a2.25 2.25 0 1 0 -4.5 0M112.5 254.32a2.25 2.25 0 1 0 4.5 0a2.25 2.25 0 1 0 -4.5 0M108.25 254.66a2.25 2.25 0 1 0 4.5 0a2.25 2.25 0 1 0 -4.5 0M110.25 256.4a2.25 2.25 0 1 0 4.5 0a2.25 2.25 0 1 0 -4.5 0M112.75 256.98a2.25 2.25 0 1 0 4.5 0a2.25 2.25 0 1 0 -4.5 0M110.25 258.84a2.25 2.25 0 1 0 4.5 0a2.25 2.25 0 1 0 -4.5 0M112.75 259.43a2.25 2.25 0 1 0 4.5 0a2.25 2.25 0 1 0 -4.5 0M108 259.89a2.25 2.25 0 1 0 4.5 0a2.25 2.25 0 1 0 -4.5 0M110.25 261.4a2.25 2.25 0 1 0 4.5 0a2.25 2.25 0 1 0 -4.5 0M114 261.48a2.25 2.25 0 1 0 4.5 0a2.25 2.25 0 1 0 -4.5 0M106.5 261.82a2.25 2.25 0 1 0 4.5 0a2.25 2.25 0 1 0 -4.5 0M111.25 263.56a2.25 2.25 0 1 0 4.5 0a2.25 2.25 0 1 0 -4.5 0M109 264.67a2.25 2.25 0 1 0 4.5 0a2.25 2.25 0 1 0 -4.5 0M112.75 265.37a2.25 2.25 0 1 0 4.5 0a2.25 2.25 0 1 0 -4.5 0M107.25 266.31a2.25 2.25 0 1 0 4.5 0a2.25 2.25 0 1 0 -4.5 0M110.25 266.7a2.25 2.25 0 1 0 4.5 0a2.25 2.25 0 1 0 -4.5 0M114 267.47a2.25 2.25 0 1 0 4.5 0a2.25 2.25 0 1 0 -4.5 0M107.15 268.06a2.25 2.25 0 1 0 4.5 0a2.25 2.25 0 1 0 -4.5 0M110.25 272.51a2.25 2.25 0 1 0 4.5 0a2.25 2.25 0 1 0 -4.5 0M112.75 272.54a2.25 2.25 0 1 0 4.5 0a2.25 2.25 0 1 0 -4.5 0M107.75 272.67a2.25 2.25 0 1 0 4.5 0a2.25 2.25 0 1 0 -4.5 0M108.83 274.25a2.25 2.25 0 1 0 4.5 0a2.25 2.25 0 1 0 -4.5 0M111.25 274.7a2.25 2.25 0 1 0 4.5 0a2.25 2.25 0 1 0 -4.5 0M110.25 278.47a2.25 2.25 0 1 0 4.5 0a2.25 2.25 0 1 0 -4.5 0" fill="none" stroke="#111" stroke-width="0.75"/>
<path d="M131.65 212.41a2.25 2.25 0 1 0 4.5 0a2.25 2.25 0 1 0 -4.5 0M133.9 213.36a2.25 2.25 0 1 0 4.5 0a2.25 2.25 0 1 0 -4.5 0M130.4 214.49a2.25 2.25 0 1 0 4.5 0a2.25 2.25 0 1 0 -4.5 0M131.9 216.45a2.25 2.25 0 1 0 4.5 0a2.25 2.25 0 1 0 -4.5 0M129.65 217.32a2.25 2.25 0 1 0 4.5 0a2.25 2.25 0 1 0 -4.5 0M134.15 217.38a2.25 2.25 0 1 0 4.5 0a2.25 2.25 0 1 0 -4.5 0M131.65 220.61a2.25 2.25 0 1 0 4.5 0a2.25 2.25 0 1 0 -4.5 0M134.15 220.84a2.25 2.25 0 1 0 4.5 0a2.25 2.25 0 1 0 -4.5 0M129.15 221.09a2.25 2.25 0 1 0 4.5 0a2.25 2.25 0 1 0 -4.5 0M128.57 221.23a2.25 2.25 0 1 0 4.5 0a2.25 2.25 0 1 0 -4.5 0M129.61 222.51a2.25 2.25 0 1 0 4.5 0a2.25 2.25 0 1 0 -4.5 0M131.9 223.04a2.25 2.25 0 1 0 4.5 0a2.25 2.25 0 1 0 -4.5 0M134.4 223.35a2.25 2.25 0 1 0 4.5 0a2.25 2.25 0 1 0 -4.5 0M132.31 223.73a2.25 2.25 0 1 0 4.5 0a2.25 2.25 0 1 0 -4.5 0M130.15 224.84a2.25 2.25 0 1 0 4.5 0a2.25 2.25 0 1 0 -4.5 0M133.15 225.95a2.25 2.25 0 1 0 4.5 0a2.25 2.25 0 1 0 -4.5 0M128.15 226.21a2.25 2.25 0 1 0 4.5 0a2.25 2.25 0 1 0 -4.5 0M135.4 226.7a2.25 2.25 0 1 0 4.5 0a2.25 2.25 0 1 0 -4.5 0M129.96 226.95a2.25 2.25 0 1 0 4.5 0a2.25 2.25 0 1 0 -4.5 0M133.06 227.35a2.25 2.25 0 1 0 4.5 0a2.25 2.25 0 1 0 -4.5 0M135.02 227.53a2.25 2.25 0 1 0 4.5 0a2.25 2.25 0 1 0 -4.5 0M132.29 228.19a2.25 2.25 0 1 0 4.5 0a2.25 2.25 0 1 0 -4.5 0M131.15 230.26a2.25 2.25 0 1 0 4.5 0a2.25 2.25 0 1 0 -4.5 0M133.4 231.13a2.25 2.25 0 1 0 4.5 0a2.25 2.25 0 1 0 -4.5 0M128.9 231.18a2.25 2.25 0 1 0 4.5 0a2.25 2.25 0 1 0 -4.5 0M127.69 231.19a2.25 2.25 0 1 0 4.5 0a2.25 2.25 0 1 0 -4.5 0M135.65 231.94a2.25 2.25 0 1 0 4.5 0a2.25 2.25 0 1 0 -4.5 0M135.51 232.1a2.25 2.25 0 1 0 4.5 0a2.25 2.25 0 1 0 -4.5 0M129.11 232.38a2.25 2.25 0 1 0 4.5 0a2.25 2.25 0 1 0 -4.5 0M131.65 232.8a2.25 2.25 0 1 0 4.5 0a2.25 2.25 0 1 0 -4.5 0M130.36 233.11a2.25 2.25 0 1 0 4.5 0a2.25 2.25 0 1 0 -4.5 0M133.65 234.16a2.25 2.25 0 1 0 4.5 0a2.25 2.25 0 1 0 -4.5 0M127.65 234.24a2.25 2.25 0 1 0 4.5 0a2.25 2.25 0 1 0 -4.5 0M131.87 234.29a2.25 2.25 0 1 0 4.5 0a2.25 2.25 0 1 0 -4.5 0M132.65 234.84a2.25 2.25 0 1 0 4.5 0a2.25 2.25 0 1 0 -4.5 0M130.32 235.08a2.25 2.25 0 1 0 4.5 0a2.25 2.25 0 1 0 -4.5 0M131.15 235.11a2.25 2.25 0 1 0 4.5 0a2.25 2.25 0 1 0 -4.5 0M135.65 235.68a2.25 2.25 0 1 0 4.5 0a2.25 2.25 0 1 0 -4.5 0M132.72 235.87a2.25 2.25 0 1 0 4.5 0a2.25 2.25 0 1 0 -4.5 0M128.4 236.66a2.25 2.25 0 1 0 4.5 0a2.25 2.25 0 1 0 -4.5 0M131.29 236.73a2.25 2.25 0 1 0 4.5 0a2.25 2.25 0 1 0 -4.5 0M129.83 236.79a2.25 2.25 0 1 0 4.5 0a2.25 2.25 0 1 0 -4.5 0M130.9 237.05a2.25 2.25 0 1 0 4.5 0a2.25 2.25 0 1 0 -4.5 0M130.68 237.2a2.25 2.25 0 1 0 4.5 0a2.25 2.25 0 1 0 -4.5 0M133.4 238.18a2.25 2.25 0 1 0 4.5 0a2.25 2.25 0 1 0 -4.5 0M129.9 238.43a2.25 2.25 0 1 0 4.5 0a2.25 2.25 0 1 0 -4.5 0M135.65 239.15a2.25 2.25 0 1 0 4.5 0a2.25 2.25 0 1 0 -4.5 0M127.65 239.21a2.25 2.25 0 1 0 4.5 0a2.25 2.25 0 1 0 -4.5 0M132.5 239.93a2.25 2.25 0 1 0 4.5 0a2.25 2.25 0 1 0 -4.5 0M131.75 239.94a2.25 2.25 0 1 0 4.5 0a2.25 2.25 0 1 0 -4.5 0M130.91 240.03a2.25 2.25 0 1 0 4.5 0a2.25 2.25 0 1 0 -4.5 0M133.41 240.22a2.25 2.25 0 1 0 4.5 0a2.25 2.25 0 1 0 -4.5 0M134.28 241.04a2.25 2.25 0 1 0 4.5 0a2.25 2.25 0 1 0 -4.5 0M128.9 241.4a2.25 2.25 0 1 0 4.5 0a2.25 2.25 0 1 0 -4.5 0M132.9 242.12a2.25 2.25 0 1 0 4.5 0a2.25 2.25 0 1 0 -4.5 0M130.32 242.74a2.25 2.25 0 1 0 4.5 0a2.25 2.25 0 1 0 -4.5 0M135.32 242.91a2.25 2.25 0 1 0 4.5 0a2.25 2.25 0 1 0 -4.5 0M128.33 243.11a2.25 2.25 0 1 0 4.5 0a2.25 2.25 0 1 0 -4.5 0M134.22 243.41a2.25 2.25 0 1 0 4.5 0a2.25 2.25 0 1 0 -4.5 0M131.65 244.81a2.25 2.25 0 1 0 4.5 0a2.25 2.25 0 1 0 -4.5 0M133.9 245.76a2.25 2.25 0 1 0 4.5 0a2.25 2.25 0 1 0 -4.5 0M130.4 246.81a2.25 2.25 0 1 0 4.5 0a2.25 2.25 0 1 0 -4.5 0M127.9 247.3a2.25 2.25 0 1 0 4.5 0a2.25 2.25 0 1 0 -4.5 0M130.99 247.32a2.25 2.25 0 1 0 4.5 0a2.25 2.25 0 1 0 -4.5 0M132.9 248.95a2.25 2.25 0 1 0 4.5 0a2.25 2.25 0 1 0 -4.5 0M130.9 250.34a2.25 2.25 0 1 0 4.5 0a2.25 2.25 0 1 0 -4.5 0M134.65 250.73a2.25 2.25 0 1 0 4.5 0a2.25 2.25 0 1 0 -4.5 0M128.65 251.22a2.25 2.25 0 1 0 4.5 0a2.25 2.25 0 1 0 -4.5 0M130.78 251.34a2.25 2.25 0 1 0 4.5 0a2.25 2.25 0 1 0 -4.5 0M134.53 252.34a2.25 2.25 0 1 0 4.5 0a2.25 2.25 0 1 0 -4.5 0M132.95 252.63a2.25 2.25 0 1 0 4.5 0a2.25 2.25 0 1 0 -4.5 0M135.63 252.68a2.25 2.25 0 1 0 4.5 0a2.25 2.25 0 1 0 -4.5 0M134.83 252.9a2.25 2.25 0 1 0 4.5 0a2.25 2.25 0 1 0 -4.5 0M128.43 253.08a2.25 2.25 0 1 0 4.5 0a2.25 2.25 0 1 0 -4.5 0M131.68 253.7a2.25 2.25 0 1 0 4.5 0a2.25 2.25 0 1 0 -4.5 0M133.9 254.13a2.25 2.25 0 1 0 4.5 0a2.25 2.25 0 1 0 -4.5 0M128.14 254.29a2.25 2.25 0 1 0 4.5 0a2.25 2.25 0 1 0 -4.5 0M132.01 254.36a2.25 2.25 0 1 0 4.5 0a2.25 2.25 0 1 0 -4.5 0M135.79 254.66a2.25 2.25 0 1 0 4.5 0a2.25 2.25 0 1 0 -4.5 0M129.46 254.69a2.25 2.25 0 1 0 4.5 0a2.25 2.25 0 1 0 -4.5 0M128.43 255.35a2.25 2.25 0 1 0 4.5 0a2.25 2.25 0 1 0 -4.5 0M129.88 255.65a2.25 2.25 0 1 0 4.5 0a2.25 2.25 0 1 0 -4.5 0M130.34 256.22a2.25 2.25 0 1 0 4.5 0a2.25 2.25 0 1 0 -4.5 0M132.9 256.53a2.25 2.25 0 1 0 4.5 0a2.25 2.25 0 1 0 -4.5 0M129.85 256.56a2.25 2.25 0 1 0 4.5 0a2.25 2.25 0 1 0 -4.5 0M131.08 256.93a2.25 2.25 0 1 0 4.5 0a2.25 2.25 0 1 0 -4.5 0M135.15 257.55a2.25 2.25 0 1 0 4.5 0a2.25 2.25 0 1 0 -4.5 0M132.15 259.03a2.25 2.25 0 1 0 4.5 0a2.25 2.25 0 1 0 -4.5 0M129.65 259.24a2.25 2.25 0 1 0 4.5 0a2.25 2.25 0 1 0 -4.5 0M134.45 259.6a2.25 2.25 0 1 0 4.5 0a2.25 2.25 0 1 0 -4.5 0M131.8 260.47a2.25 2.25 0 1 0 4.5 0a2.25 2.25 0 1 0 -4.5 0M129.9 262.09a2.25 2.25 0 1 0 4.5 0a2.25 2.25 0 1 0 -4.5 0M133.15 262.48a2.25 2.25 0 1 0 4.5 0a2.25 2.25 0 1 0 -4.5 0M135.65 262.92a2.25 2.25 0 1 0 4.5 0a2.25 2.25 0 1 0 -4.5 0M127.9 263.56a2.25 2.25 0 1 0 4.5 0a2.25 2.25 0 1 0 -4.5 0M131.65 264.33a2.25 2.25 0 1 0 4.5 0a2.25 2.25 0 1 0 -4.5 0M133.65 265.75a2.25 2.25 0 1 0 4.5 0a2.25 2.25 0 1 0 -4.5 0M129.65 265.85a2.25 2.25 0 1 0 4.5 0a2.25 2.25 0 1 0 -4.5 0M132.4 266.02a2.25 2.25 0 1 0 4.5 0a2.25 2.25 0 1 0 -4.5 0M135.4 267.33a2.25 2.25 0 1 0 4.5 0a2.25 2.25 0 1 0 -4.5 0M130.9 268.01a2.25 2.25 0 1 0 4.5 0a2.25 2.25 0 1 0 -4.5 0M131.65 270.47a2.25 2.25 0 1 0 4.5 0a2.25 2.25 0 1 0 -4.5 0M133.4 272.14a2.25 2.25 0 1 0 4.5 0a2.25 2.25 0 1 0 -4.5 0M130.15 272.3a2.25 2.25 0 1 0 4.5 0a2.25 2.25 0 1 0 -4.5 0M131.65 278.29a2.25 2.25 0 1 0 4.5 0a2.25 2.25 0 1 0 -4.5 0" fill="none" stroke="#111" stroke-width="0.75"/>
<line x1="105.2" y1="263.11" x2="119.8" y2="263.11" stroke="#f08a7a" stroke-width="1.1"/>
<line x1="126.6" y1="245.72" x2="141.2" y2="245.72" stroke="#e8302a" stroke-width="1.1"/>
<text x="123.2" y="172.9" font-size="12.2" text-anchor="middle" fill="#111">IL-8</text>
<text x="123.25" y="202.8" font-size="8.5" text-anchor="middle" font-weight="bold" fill="#111" letter-spacing="1.1">****</text>
<line x1="113.2" y1="202.5" x2="133.5" y2="202.5" stroke="#b5b5b5" stroke-width="1"/>
<text x="116.6" y="291.7" font-size="8.4" text-anchor="end" fill="#111" transform="rotate(-45 116.6 291.7)">CR</text>
<text x="138" y="291.7" font-size="8.4" text-anchor="end" fill="#111" transform="rotate(-45 138 291.7)">PASC</text>
<line x1="164.6" y1="183" x2="164.6" y2="280.2" stroke="#111" stroke-width="0.9"/>
<line x1="164.2" y1="279.7" x2="213.2" y2="279.7" stroke="#111" stroke-width="0.9"/>
<line x1="160.6" y1="183" x2="164.6" y2="183" stroke="#111" stroke-width="0.9"/>
<text x="158.2" y="186" font-size="8.5" text-anchor="end" fill="#111">6</text>
<line x1="160.6" y1="215.23" x2="164.6" y2="215.23" stroke="#111" stroke-width="0.9"/>
<text x="158.2" y="218.23" font-size="8.5" text-anchor="end" fill="#111">4</text>
<line x1="160.6" y1="247.47" x2="164.6" y2="247.47" stroke="#111" stroke-width="0.9"/>
<text x="158.2" y="250.47" font-size="8.5" text-anchor="end" fill="#111">2</text>
<line x1="160.6" y1="279.7" x2="164.6" y2="279.7" stroke="#111" stroke-width="0.9"/>
<text x="158.2" y="282.7" font-size="8.5" text-anchor="end" fill="#111">0</text>
<line x1="178.7" y1="279.7" x2="178.7" y2="283.1" stroke="#111" stroke-width="0.9"/>
<line x1="199.8" y1="279.7" x2="199.8" y2="283.1" stroke="#111" stroke-width="0.9"/>
<path d="M176.45 232.38a2.25 2.25 0 1 0 4.5 0a2.25 2.25 0 1 0 -4.5 0M178.95 232.81a2.25 2.25 0 1 0 4.5 0a2.25 2.25 0 1 0 -4.5 0M173.95 233.02a2.25 2.25 0 1 0 4.5 0a2.25 2.25 0 1 0 -4.5 0M176.45 236.06a2.25 2.25 0 1 0 4.5 0a2.25 2.25 0 1 0 -4.5 0M178.95 236.31a2.25 2.25 0 1 0 4.5 0a2.25 2.25 0 1 0 -4.5 0M176.45 238.5a2.25 2.25 0 1 0 4.5 0a2.25 2.25 0 1 0 -4.5 0M176.45 244.04a2.25 2.25 0 1 0 4.5 0a2.25 2.25 0 1 0 -4.5 0M178.7 245.15a2.25 2.25 0 1 0 4.5 0a2.25 2.25 0 1 0 -4.5 0M174.45 245.34a2.25 2.25 0 1 0 4.5 0a2.25 2.25 0 1 0 -4.5 0M173.17 245.81a2.25 2.25 0 1 0 4.5 0a2.25 2.25 0 1 0 -4.5 0M176.45 246.85a2.25 2.25 0 1 0 4.5 0a2.25 2.25 0 1 0 -4.5 0M178.2 248.46a2.25 2.25 0 1 0 4.5 0a2.25 2.25 0 1 0 -4.5 0M174.95 248.66a2.25 2.25 0 1 0 4.5 0a2.25 2.25 0 1 0 -4.5 0M176.45 251.59a2.25 2.25 0 1 0 4.5 0a2.25 2.25 0 1 0 -4.5 0M177.95 253.41a2.25 2.25 0 1 0 4.5 0a2.25 2.25 0 1 0 -4.5 0M176.45 255.35a2.25 2.25 0 1 0 4.5 0a2.25 2.25 0 1 0 -4.5 0M176.45 260.27a2.25 2.25 0 1 0 4.5 0a2.25 2.25 0 1 0 -4.5 0M178.95 260.27a2.25 2.25 0 1 0 4.5 0a2.25 2.25 0 1 0 -4.5 0M174.2 260.97a2.25 2.25 0 1 0 4.5 0a2.25 2.25 0 1 0 -4.5 0M176.45 263.98a2.25 2.25 0 1 0 4.5 0a2.25 2.25 0 1 0 -4.5 0M178.45 265.33a2.25 2.25 0 1 0 4.5 0a2.25 2.25 0 1 0 -4.5 0M176.45 268.27a2.25 2.25 0 1 0 4.5 0a2.25 2.25 0 1 0 -4.5 0M178.45 269.72a2.25 2.25 0 1 0 4.5 0a2.25 2.25 0 1 0 -4.5 0M175.2 270.38a2.25 2.25 0 1 0 4.5 0a2.25 2.25 0 1 0 -4.5 0M172.7 270.85a2.25 2.25 0 1 0 4.5 0a2.25 2.25 0 1 0 -4.5 0M179.95 271.67a2.25 2.25 0 1 0 4.5 0a2.25 2.25 0 1 0 -4.5 0" fill="none" stroke="#111" stroke-width="0.75"/>
<path d="M197.55 196.7a2.25 2.25 0 1 0 4.5 0a2.25 2.25 0 1 0 -4.5 0M197.55 207.98a2.25 2.25 0 1 0 4.5 0a2.25 2.25 0 1 0 -4.5 0M197.55 214.43a2.25 2.25 0 1 0 4.5 0a2.25 2.25 0 1 0 -4.5 0M197.55 218.92a2.25 2.25 0 1 0 4.5 0a2.25 2.25 0 1 0 -4.5 0M197.55 222.6a2.25 2.25 0 1 0 4.5 0a2.25 2.25 0 1 0 -4.5 0M197.55 226.5a2.25 2.25 0 1 0 4.5 0a2.25 2.25 0 1 0 -4.5 0M200.05 226.56a2.25 2.25 0 1 0 4.5 0a2.25 2.25 0 1 0 -4.5 0M195.05 227.13a2.25 2.25 0 1 0 4.5 0a2.25 2.25 0 1 0 -4.5 0M193.89 227.18a2.25 2.25 0 1 0 4.5 0a2.25 2.25 0 1 0 -4.5 0M201.34 227.24a2.25 2.25 0 1 0 4.5 0a2.25 2.25 0 1 0 -4.5 0M196.27 227.7a2.25 2.25 0 1 0 4.5 0a2.25 2.25 0 1 0 -4.5 0M201.31 228.53a2.25 2.25 0 1 0 4.5 0a2.25 2.25 0 1 0 -4.5 0M197.55 231.16a2.25 2.25 0 1 0 4.5 0a2.25 2.25 0 1 0 -4.5 0M200.05 231.23a2.25 2.25 0 1 0 4.5 0a2.25 2.25 0 1 0 -4.5 0M195.05 231.62a2.25 2.25 0 1 0 4.5 0a2.25 2.25 0 1 0 -4.5 0M196.17 232.08a2.25 2.25 0 1 0 4.5 0a2.25 2.25 0 1 0 -4.5 0M198.72 232.52a2.25 2.25 0 1 0 4.5 0a2.25 2.25 0 1 0 -4.5 0M201.05 233.42a2.25 2.25 0 1 0 4.5 0a2.25 2.25 0 1 0 -4.5 0M197.05 234.34a2.25 2.25 0 1 0 4.5 0a2.25 2.25 0 1 0 -4.5 0M194.55 234.56a2.25 2.25 0 1 0 4.5 0a2.25 2.25 0 1 0 -4.5 0M199.05 235.76a2.25 2.25 0 1 0 4.5 0a2.25 2.25 0 1 0 -4.5 0M201.55 235.83a2.25 2.25 0 1 0 4.5 0a2.25 2.25 0 1 0 -4.5 0M198.91 236.36a2.25 2.25 0 1 0 4.5 0a2.25 2.25 0 1 0 -4.5 0M194.11 236.39a2.25 2.25 0 1 0 4.5 0a2.25 2.25 0 1 0 -4.5 0M196.55 236.75a2.25 2.25 0 1 0 4.5 0a2.25 2.25 0 1 0 -4.5 0M193.95 237.25a2.25 2.25 0 1 0 4.5 0a2.25 2.25 0 1 0 -4.5 0M200.55 238.09a2.25 2.25 0 1 0 4.5 0a2.25 2.25 0 1 0 -4.5 0M197.06 238.1a2.25 2.25 0 1 0 4.5 0a2.25 2.25 0 1 0 -4.5 0M194.42 238.22a2.25 2.25 0 1 0 4.5 0a2.25 2.25 0 1 0 -4.5 0M195.83 238.36a2.25 2.25 0 1 0 4.5 0a2.25 2.25 0 1 0 -4.5 0M195 238.62a2.25 2.25 0 1 0 4.5 0a2.25 2.25 0 1 0 -4.5 0M195.98 238.77a2.25 2.25 0 1 0 4.5 0a2.25 2.25 0 1 0 -4.5 0M197.18 238.78a2.25 2.25 0 1 0 4.5 0a2.25 2.25 0 1 0 -4.5 0M195.97 239.09a2.25 2.25 0 1 0 4.5 0a2.25 2.25 0 1 0 -4.5 0M196.17 239.28a2.25 2.25 0 1 0 4.5 0a2.25 2.25 0 1 0 -4.5 0M197.43 239.8a2.25 2.25 0 1 0 4.5 0a2.25 2.25 0 1 0 -4.5 0M199.08 239.84a2.25 2.25 0 1 0 4.5 0a2.25 2.25 0 1 0 -4.5 0M193.7 239.92a2.25 2.25 0 1 0 4.5 0a2.25 2.25 0 1 0 -4.5 0M201.55 240.28a2.25 2.25 0 1 0 4.5 0a2.25 2.25 0 1 0 -4.5 0M196.3 241.89a2.25 2.25 0 1 0 4.5 0a2.25 2.25 0 1 0 -4.5 0M201.73 242.07a2.25 2.25 0 1 0 4.5 0a2.25 2.25 0 1 0 -4.5 0M196.97 242.11a2.25 2.25 0 1 0 4.5 0a2.25 2.25 0 1 0 -4.5 0M199.3 242.72a2.25 2.25 0 1 0 4.5 0a2.25 2.25 0 1 0 -4.5 0M194.55 243.47a2.25 2.25 0 1 0 4.5 0a2.25 2.25 0 1 0 -4.5 0M201.1 243.59a2.25 2.25 0 1 0 4.5 0a2.25 2.25 0 1 0 -4.5 0M193.41 243.69a2.25 2.25 0 1 0 4.5 0a2.25 2.25 0 1 0 -4.5 0M193.83 244.22a2.25 2.25 0 1 0 4.5 0a2.25 2.25 0 1 0 -4.5 0M197.55 244.57a2.25 2.25 0 1 0 4.5 0a2.25 2.25 0 1 0 -4.5 0M194.18 244.64a2.25 2.25 0 1 0 4.5 0a2.25 2.25 0 1 0 -4.5 0M199.8 245.8a2.25 2.25 0 1 0 4.5 0a2.25 2.25 0 1 0 -4.5 0M201.02 246.22a2.25 2.25 0 1 0 4.5 0a2.25 2.25 0 1 0 -4.5 0M197.55 247.11a2.25 2.25 0 1 0 4.5 0a2.25 2.25 0 1 0 -4.5 0M195.05 247.26a2.25 2.25 0 1 0 4.5 0a2.25 2.25 0 1 0 -4.5 0M196.81 247.38a2.25 2.25 0 1 0 4.5 0a2.25 2.25 0 1 0 -4.5 0M200.46 247.7a2.25 2.25 0 1 0 4.5 0a2.25 2.25 0 1 0 -4.5 0M199.18 248.37a2.25 2.25 0 1 0 4.5 0a2.25 2.25 0 1 0 -4.5 0M194.09 248.67a2.25 2.25 0 1 0 4.5 0a2.25 2.25 0 1 0 -4.5 0M196.39 248.69a2.25 2.25 0 1 0 4.5 0a2.25 2.25 0 1 0 -4.5 0M196.13 248.73a2.25 2.25 0 1 0 4.5 0a2.25 2.25 0 1 0 -4.5 0M197.16 248.8a2.25 2.25 0 1 0 4.5 0a2.25 2.25 0 1 0 -4.5 0M199.68 248.84a2.25 2.25 0 1 0 4.5 0a2.25 2.25 0 1 0 -4.5 0M194.05 248.99a2.25 2.25 0 1 0 4.5 0a2.25 2.25 0 1 0 -4.5 0M201.13 249.25a2.25 2.25 0 1 0 4.5 0a2.25 2.25 0 1 0 -4.5 0M197.35 249.83a2.25 2.25 0 1 0 4.5 0a2.25 2.25 0 1 0 -4.5 0M196.42 250.74a2.25 2.25 0 1 0 4.5 0a2.25 2.25 0 1 0 -4.5 0M199.21 250.97a2.25 2.25 0 1 0 4.5 0a2.25 2.25 0 1 0 -4.5 0M195.67 251.27a2.25 2.25 0 1 0 4.5 0a2.25 2.25 0 1 0 -4.5 0M199.33 251.3a2.25 2.25 0 1 0 4.5 0a2.25 2.25 0 1 0 -4.5 0M196.84 251.38a2.25 2.25 0 1 0 4.5 0a2.25 2.25 0 1 0 -4.5 0M197.37 251.56a2.25 2.25 0 1 0 4.5 0a2.25 2.25 0 1 0 -4.5 0M194.94 251.67a2.25 2.25 0 1 0 4.5 0a2.25 2.25 0 1 0 -4.5 0M195.06 251.99a2.25 2.25 0 1 0 4.5 0a2.25 2.25 0 1 0 -4.5 0M201.55 252.23a2.25 2.25 0 1 0 4.5 0a2.25 2.25 0 1 0 -4.5 0M200.59 252.64a2.25 2.25 0 1 0 4.5 0a2.25 2.25 0 1 0 -4.5 0M198.19 252.8a2.25 2.25 0 1 0 4.5 0a2.25 2.25 0 1 0 -4.5 0M196.9 252.83a2.25 2.25 0 1 0 4.5 0a2.25 2.25 0 1 0 -4.5 0M199.86 252.85a2.25 2.25 0 1 0 4.5 0a2.25 2.25 0 1 0 -4.5 0M201.01 252.95a2.25 2.25 0 1 0 4.5 0a2.25 2.25 0 1 0 -4.5 0M194.68 253.51a2.25 2.25 0 1 0 4.5 0a2.25 2.25 0 1 0 -4.5 0M201.73 254.23a2.25 2.25 0 1 0 4.5 0a2.25 2.25 0 1 0 -4.5 0M193.47 254.28a2.25 2.25 0 1 0 4.5 0a2.25 2.25 0 1 0 -4.5 0M198.51 254.34a2.25 2.25 0 1 0 4.5 0a2.25 2.25 0 1 0 -4.5 0M195.56 254.71a2.25 2.25 0 1 0 4.5 0a2.25 2.25 0 1 0 -4.5 0M195.47 255.74a2.25 2.25 0 1 0 4.5 0a2.25 2.25 0 1 0 -4.5 0M197.51 255.75a2.25 2.25 0 1 0 4.5 0a2.25 2.25 0 1 0 -4.5 0M199.8 256.77a2.25 2.25 0 1 0 4.5 0a2.25 2.25 0 1 0 -4.5 0M193.8 257.61a2.25 2.25 0 1 0 4.5 0a2.25 2.25 0 1 0 -4.5 0M198.43 257.9a2.25 2.25 0 1 0 4.5 0a2.25 2.25 0 1 0 -4.5 0M196.8 259.68a2.25 2.25 0 1 0 4.5 0a2.25 2.25 0 1 0 -4.5 0M199.8 259.8a2.25 2.25 0 1 0 4.5 0a2.25 2.25 0 1 0 -4.5 0M197.02 259.9a2.25 2.25 0 1 0 4.5 0a2.25 2.25 0 1 0 -4.5 0M194.3 259.94a2.25 2.25 0 1 0 4.5 0a2.25 2.25 0 1 0 -4.5 0M198.3 261.89a2.25 2.25 0 1 0 4.5 0a2.25 2.25 0 1 0 -4.5 0M195.8 262.49a2.25 2.25 0 1 0 4.5 0a2.25 2.25 0 1 0 -4.5 0M197.55 265.78a2.25 2.25 0 1 0 4.5 0a2.25 2.25 0 1 0 -4.5 0M199.8 266.65a2.25 2.25 0 1 0 4.5 0a2.25 2.25 0 1 0 -4.5 0M195.3 266.67a2.25 2.25 0 1 0 4.5 0a2.25 2.25 0 1 0 -4.5 0M199.35 267.83a2.25 2.25 0 1 0 4.5 0a2.25 2.25 0 1 0 -4.5 0M197.55 270.89a2.25 2.25 0 1 0 4.5 0a2.25 2.25 0 1 0 -4.5 0M200.05 271.55a2.25 2.25 0 1 0 4.5 0a2.25 2.25 0 1 0 -4.5 0" fill="none" stroke="#111" stroke-width="0.75"/>
<line x1="171.4" y1="255.52" x2="186" y2="255.52" stroke="#e8503a" stroke-width="1.1"/>
<line x1="192.5" y1="244.24" x2="207.1" y2="244.24" stroke="#e8302a" stroke-width="1.1"/>
<text x="189" y="172.9" font-size="12.2" text-anchor="middle" fill="#111">NFKB1</text>
<text x="190.05" y="192.7" font-size="8.5" text-anchor="middle" font-weight="bold" fill="#111" letter-spacing="1.1">***</text>
<line x1="179.3" y1="192.4" x2="199" y2="192.4" stroke="#b5b5b5" stroke-width="1"/>
<text x="182.8" y="290.9" font-size="8.4" text-anchor="end" fill="#111" transform="rotate(-45 182.8 290.9)">CR</text>
<text x="203.9" y="290.9" font-size="8.4" text-anchor="end" fill="#111" transform="rotate(-45 203.9 290.9)">PASC</text>
<line x1="38.3" y1="364.9" x2="38.3" y2="462.3" stroke="#111" stroke-width="0.9"/>
<line x1="37.9" y1="461.8" x2="86.7" y2="461.8" stroke="#111" stroke-width="0.9"/>
<line x1="34.3" y1="364.9" x2="38.3" y2="364.9" stroke="#111" stroke-width="0.9"/>
<text x="31.9" y="367.9" font-size="8.5" text-anchor="end" fill="#111">10</text>
<line x1="34.3" y1="384.28" x2="38.3" y2="384.28" stroke="#111" stroke-width="0.9"/>
<text x="31.9" y="387.28" font-size="8.5" text-anchor="end" fill="#111">8</text>
<line x1="34.3" y1="403.66" x2="38.3" y2="403.66" stroke="#111" stroke-width="0.9"/>
<text x="31.9" y="406.66" font-size="8.5" text-anchor="end" fill="#111">6</text>
<line x1="34.3" y1="423.04" x2="38.3" y2="423.04" stroke="#111" stroke-width="0.9"/>
<text x="31.9" y="426.04" font-size="8.5" text-anchor="end" fill="#111">4</text>
<line x1="34.3" y1="442.42" x2="38.3" y2="442.42" stroke="#111" stroke-width="0.9"/>
<text x="31.9" y="445.42" font-size="8.5" text-anchor="end" fill="#111">2</text>
<line x1="34.3" y1="461.8" x2="38.3" y2="461.8" stroke="#111" stroke-width="0.9"/>
<text x="31.9" y="464.8" font-size="8.5" text-anchor="end" fill="#111">0</text>
<line x1="51.6" y1="461.8" x2="51.6" y2="465.2" stroke="#111" stroke-width="0.9"/>
<line x1="72.8" y1="461.8" x2="72.8" y2="465.2" stroke="#111" stroke-width="0.9"/>
<path d="M49.35 390.77a2.25 2.25 0 1 0 4.5 0a2.25 2.25 0 1 0 -4.5 0M51.6 391.62a2.25 2.25 0 1 0 4.5 0a2.25 2.25 0 1 0 -4.5 0M49.35 393.86a2.25 2.25 0 1 0 4.5 0a2.25 2.25 0 1 0 -4.5 0M49.35 396.91a2.25 2.25 0 1 0 4.5 0a2.25 2.25 0 1 0 -4.5 0M49.35 400.82a2.25 2.25 0 1 0 4.5 0a2.25 2.25 0 1 0 -4.5 0M51.85 401.05a2.25 2.25 0 1 0 4.5 0a2.25 2.25 0 1 0 -4.5 0M49.35 405.16a2.25 2.25 0 1 0 4.5 0a2.25 2.25 0 1 0 -4.5 0M49.35 409.14a2.25 2.25 0 1 0 4.5 0a2.25 2.25 0 1 0 -4.5 0M50.85 411.03a2.25 2.25 0 1 0 4.5 0a2.25 2.25 0 1 0 -4.5 0M49.35 413.62a2.25 2.25 0 1 0 4.5 0a2.25 2.25 0 1 0 -4.5 0M51.85 413.71a2.25 2.25 0 1 0 4.5 0a2.25 2.25 0 1 0 -4.5 0M47.35 415.18a2.25 2.25 0 1 0 4.5 0a2.25 2.25 0 1 0 -4.5 0M49.35 422.28a2.25 2.25 0 1 0 4.5 0a2.25 2.25 0 1 0 -4.5 0M51.1 423.93a2.25 2.25 0 1 0 4.5 0a2.25 2.25 0 1 0 -4.5 0M48.85 424.84a2.25 2.25 0 1 0 4.5 0a2.25 2.25 0 1 0 -4.5 0M46.6 425.8a2.25 2.25 0 1 0 4.5 0a2.25 2.25 0 1 0 -4.5 0M49.35 432.98a2.25 2.25 0 1 0 4.5 0a2.25 2.25 0 1 0 -4.5 0M49.35 436.98a2.25 2.25 0 1 0 4.5 0a2.25 2.25 0 1 0 -4.5 0M49.35 439.67a2.25 2.25 0 1 0 4.5 0a2.25 2.25 0 1 0 -4.5 0M51.1 441.3a2.25 2.25 0 1 0 4.5 0a2.25 2.25 0 1 0 -4.5 0M47.6 441.41a2.25 2.25 0 1 0 4.5 0a2.25 2.25 0 1 0 -4.5 0M53.13 441.79a2.25 2.25 0 1 0 4.5 0a2.25 2.25 0 1 0 -4.5 0M49.35 448.03a2.25 2.25 0 1 0 4.5 0a2.25 2.25 0 1 0 -4.5 0M50.85 449.88a2.25 2.25 0 1 0 4.5 0a2.25 2.25 0 1 0 -4.5 0M49.35 451.83a2.25 2.25 0 1 0 4.5 0a2.25 2.25 0 1 0 -4.5 0M50.85 453.74a2.25 2.25 0 1 0 4.5 0a2.25 2.25 0 1 0 -4.5 0M49.35 459.94a2.25 2.25 0 1 0 4.5 0a2.25 2.25 0 1 0 -4.5 0" fill="none" stroke="#111" stroke-width="0.75"/>
<path d="M70.55 371.01a2.25 2.25 0 1 0 4.5 0a2.25 2.25 0 1 0 -4.5 0M70.55 382.92a2.25 2.25 0 1 0 4.5 0a2.25 2.25 0 1 0 -4.5 0M70.55 387.93a2.25 2.25 0 1 0 4.5 0a2.25 2.25 0 1 0 -4.5 0M72.3 389.66a2.25 2.25 0 1 0 4.5 0a2.25 2.25 0 1 0 -4.5 0M68.8 389.69a2.25 2.25 0 1 0 4.5 0a2.25 2.25 0 1 0 -4.5 0M70.55 392.62a2.25 2.25 0 1 0 4.5 0a2.25 2.25 0 1 0 -4.5 0M73.05 393.13a2.25 2.25 0 1 0 4.5 0a2.25 2.25 0 1 0 -4.5 0M68.8 394.25a2.25 2.25 0 1 0 4.5 0a2.25 2.25 0 1 0 -4.5 0M67.77 394.27a2.25 2.25 0 1 0 4.5 0a2.25 2.25 0 1 0 -4.5 0M68.35 394.4a2.25 2.25 0 1 0 4.5 0a2.25 2.25 0 1 0 -4.5 0M71.47 394.65a2.25 2.25 0 1 0 4.5 0a2.25 2.25 0 1 0 -4.5 0M73.55 395.84a2.25 2.25 0 1 0 4.5 0a2.25 2.25 0 1 0 -4.5 0M69.8 396.12a2.25 2.25 0 1 0 4.5 0a2.25 2.25 0 1 0 -4.5 0M67.3 396.63a2.25 2.25 0 1 0 4.5 0a2.25 2.25 0 1 0 -4.5 0M69 396.76a2.25 2.25 0 1 0 4.5 0a2.25 2.25 0 1 0 -4.5 0M70.59 397.35a2.25 2.25 0 1 0 4.5 0a2.25 2.25 0 1 0 -4.5 0M72.2 397.73a2.25 2.25 0 1 0 4.5 0a2.25 2.25 0 1 0 -4.5 0M73.98 397.94a2.25 2.25 0 1 0 4.5 0a2.25 2.25 0 1 0 -4.5 0M74.25 398.19a2.25 2.25 0 1 0 4.5 0a2.25 2.25 0 1 0 -4.5 0M73.23 398.46a2.25 2.25 0 1 0 4.5 0a2.25 2.25 0 1 0 -4.5 0M69.26 398.82a2.25 2.25 0 1 0 4.5 0a2.25 2.25 0 1 0 -4.5 0M66.8 398.93a2.25 2.25 0 1 0 4.5 0a2.25 2.25 0 1 0 -4.5 0M73.77 399.1a2.25 2.25 0 1 0 4.5 0a2.25 2.25 0 1 0 -4.5 0M72.31 399.65a2.25 2.25 0 1 0 4.5 0a2.25 2.25 0 1 0 -4.5 0M67.82 400.44a2.25 2.25 0 1 0 4.5 0a2.25 2.25 0 1 0 -4.5 0M74.36 400.64a2.25 2.25 0 1 0 4.5 0a2.25 2.25 0 1 0 -4.5 0M70.55 401.29a2.25 2.25 0 1 0 4.5 0a2.25 2.25 0 1 0 -4.5 0M68.43 401.48a2.25 2.25 0 1 0 4.5 0a2.25 2.25 0 1 0 -4.5 0M72.08 401.59a2.25 2.25 0 1 0 4.5 0a2.25 2.25 0 1 0 -4.5 0M72.18 401.84a2.25 2.25 0 1 0 4.5 0a2.25 2.25 0 1 0 -4.5 0M73.98 402.03a2.25 2.25 0 1 0 4.5 0a2.25 2.25 0 1 0 -4.5 0M71.95 402.22a2.25 2.25 0 1 0 4.5 0a2.25 2.25 0 1 0 -4.5 0M74.61 402.51a2.25 2.25 0 1 0 4.5 0a2.25 2.25 0 1 0 -4.5 0M66.85 402.84a2.25 2.25 0 1 0 4.5 0a2.25 2.25 0 1 0 -4.5 0M70.05 403.65a2.25 2.25 0 1 0 4.5 0a2.25 2.25 0 1 0 -4.5 0M66.66 403.71a2.25 2.25 0 1 0 4.5 0a2.25 2.25 0 1 0 -4.5 0M72.3 404.83a2.25 2.25 0 1 0 4.5 0a2.25 2.25 0 1 0 -4.5 0M67.99 405.12a2.25 2.25 0 1 0 4.5 0a2.25 2.25 0 1 0 -4.5 0M70.3 406.17a2.25 2.25 0 1 0 4.5 0a2.25 2.25 0 1 0 -4.5 0M74.3 406.33a2.25 2.25 0 1 0 4.5 0a2.25 2.25 0 1 0 -4.5 0M71.18 406.42a2.25 2.25 0 1 0 4.5 0a2.25 2.25 0 1 0 -4.5 0M67.55 407.45a2.25 2.25 0 1 0 4.5 0a2.25 2.25 0 1 0 -4.5 0M69.91 407.52a2.25 2.25 0 1 0 4.5 0a2.25 2.25 0 1 0 -4.5 0M67.04 407.82a2.25 2.25 0 1 0 4.5 0a2.25 2.25 0 1 0 -4.5 0M68.05 408.09a2.25 2.25 0 1 0 4.5 0a2.25 2.25 0 1 0 -4.5 0M72.8 408.29a2.25 2.25 0 1 0 4.5 0a2.25 2.25 0 1 0 -4.5 0M71.22 409.2a2.25 2.25 0 1 0 4.5 0a2.25 2.25 0 1 0 -4.5 0M69.73 409.23a2.25 2.25 0 1 0 4.5 0a2.25 2.25 0 1 0 -4.5 0M74.3 410.21a2.25 2.25 0 1 0 4.5 0a2.25 2.25 0 1 0 -4.5 0M67.8 410.75a2.25 2.25 0 1 0 4.5 0a2.25 2.25 0 1 0 -4.5 0M72.76 411.36a2.25 2.25 0 1 0 4.5 0a2.25 2.25 0 1 0 -4.5 0M70.3 411.91a2.25 2.25 0 1 0 4.5 0a2.25 2.25 0 1 0 -4.5 0M70.27 412.26a2.25 2.25 0 1 0 4.5 0a2.25 2.25 0 1 0 -4.5 0M73.72 412.54a2.25 2.25 0 1 0 4.5 0a2.25 2.25 0 1 0 -4.5 0M68.05 413.29a2.25 2.25 0 1 0 4.5 0a2.25 2.25 0 1 0 -4.5 0M72.72 413.85a2.25 2.25 0 1 0 4.5 0a2.25 2.25 0 1 0 -4.5 0M70.5 413.97a2.25 2.25 0 1 0 4.5 0a2.25 2.25 0 1 0 -4.5 0M67.05 415.51a2.25 2.25 0 1 0 4.5 0a2.25 2.25 0 1 0 -4.5 0M71.55 416.14a2.25 2.25 0 1 0 4.5 0a2.25 2.25 0 1 0 -4.5 0M74.05 416.27a2.25 2.25 0 1 0 4.5 0a2.25 2.25 0 1 0 -4.5 0M69.36 416.33a2.25 2.25 0 1 0 4.5 0a2.25 2.25 0 1 0 -4.5 0M68.15 416.61a2.25 2.25 0 1 0 4.5 0a2.25 2.25 0 1 0 -4.5 0M68.8 416.86a2.25 2.25 0 1 0 4.5 0a2.25 2.25 0 1 0 -4.5 0M69.33 416.93a2.25 2.25 0 1 0 4.5 0a2.25 2.25 0 1 0 -4.5 0M69.38 417.13a2.25 2.25 0 1 0 4.5 0a2.25 2.25 0 1 0 -4.5 0M67.85 417.47a2.25 2.25 0 1 0 4.5 0a2.25 2.25 0 1 0 -4.5 0M70.32 417.93a2.25 2.25 0 1 0 4.5 0a2.25 2.25 0 1 0 -4.5 0M67.29 418.24a2.25 2.25 0 1 0 4.5 0a2.25 2.25 0 1 0 -4.5 0M72.8 418.31a2.25 2.25 0 1 0 4.5 0a2.25 2.25 0 1 0 -4.5 0M73.65 418.33a2.25 2.25 0 1 0 4.5 0a2.25 2.25 0 1 0 -4.5 0M70.97 418.96a2.25 2.25 0 1 0 4.5 0a2.25 2.25 0 1 0 -4.5 0M67.15 419.09a2.25 2.25 0 1 0 4.5 0a2.25 2.25 0 1 0 -4.5 0M69.1 419.1a2.25 2.25 0 1 0 4.5 0a2.25 2.25 0 1 0 -4.5 0M68.49 419.87a2.25 2.25 0 1 0 4.5 0a2.25 2.25 0 1 0 -4.5 0M70.55 422.21a2.25 2.25 0 1 0 4.5 0a2.25 2.25 0 1 0 -4.5 0M73.05 422.63a2.25 2.25 0 1 0 4.5 0a2.25 2.25 0 1 0 -4.5 0M68.05 422.7a2.25 2.25 0 1 0 4.5 0a2.25 2.25 0 1 0 -4.5 0M67.66 422.98a2.25 2.25 0 1 0 4.5 0a2.25 2.25 0 1 0 -4.5 0M70.55 425.43a2.25 2.25 0 1 0 4.5 0a2.25 2.25 0 1 0 -4.5 0M73.05 425.62a2.25 2.25 0 1 0 4.5 0a2.25 2.25 0 1 0 -4.5 0M68.05 425.91a2.25 2.25 0 1 0 4.5 0a2.25 2.25 0 1 0 -4.5 0M70.39 426.15a2.25 2.25 0 1 0 4.5 0a2.25 2.25 0 1 0 -4.5 0M67.89 426.26a2.25 2.25 0 1 0 4.5 0a2.25 2.25 0 1 0 -4.5 0M67.62 426.38a2.25 2.25 0 1 0 4.5 0a2.25 2.25 0 1 0 -4.5 0M72.25 427.37a2.25 2.25 0 1 0 4.5 0a2.25 2.25 0 1 0 -4.5 0M74.55 428.1a2.25 2.25 0 1 0 4.5 0a2.25 2.25 0 1 0 -4.5 0M70.55 429.59a2.25 2.25 0 1 0 4.5 0a2.25 2.25 0 1 0 -4.5 0M72.3 431.31a2.25 2.25 0 1 0 4.5 0a2.25 2.25 0 1 0 -4.5 0M70.05 432.46a2.25 2.25 0 1 0 4.5 0a2.25 2.25 0 1 0 -4.5 0M72.05 433.93a2.25 2.25 0 1 0 4.5 0a2.25 2.25 0 1 0 -4.5 0M68.55 434.42a2.25 2.25 0 1 0 4.5 0a2.25 2.25 0 1 0 -4.5 0M70.55 437.09a2.25 2.25 0 1 0 4.5 0a2.25 2.25 0 1 0 -4.5 0M73.05 437.27a2.25 2.25 0 1 0 4.5 0a2.25 2.25 0 1 0 -4.5 0M70.55 441.43a2.25 2.25 0 1 0 4.5 0a2.25 2.25 0 1 0 -4.5 0M73.05 441.51a2.25 2.25 0 1 0 4.5 0a2.25 2.25 0 1 0 -4.5 0M70.55 446.36a2.25 2.25 0 1 0 4.5 0a2.25 2.25 0 1 0 -4.5 0M70.55 456.95a2.25 2.25 0 1 0 4.5 0a2.25 2.25 0 1 0 -4.5 0M72.05 458.89a2.25 2.25 0 1 0 4.5 0a2.25 2.25 0 1 0 -4.5 0M70.55 460.83a2.25 2.25 0 1 0 4.5 0a2.25 2.25 0 1 0 -4.5 0M73.05 461.32a2.25 2.25 0 1 0 4.5 0a2.25 2.25 0 1 0 -4.5 0" fill="none" stroke="#111" stroke-width="0.75"/>
<line x1="44.3" y1="428.85" x2="58.9" y2="428.85" stroke="#e8503a" stroke-width="1.1"/>
<line x1="65.5" y1="412.38" x2="80.1" y2="412.38" stroke="#e8503a" stroke-width="1.1"/>
<text x="62" y="355.3" font-size="12.2" text-anchor="middle" fill="#111">MMP8</text>
<text x="64.25" y="365.6" font-size="8.5" text-anchor="middle" font-weight="bold" fill="#111" letter-spacing="1.1">***</text>
<line x1="52.9" y1="365.3" x2="74.4" y2="365.3" stroke="#b5b5b5" stroke-width="1"/>
<text x="57" y="473" font-size="8.4" text-anchor="end" fill="#111" transform="rotate(-45 57 473)">CR</text>
<text x="78.2" y="473" font-size="8.4" text-anchor="end" fill="#111" transform="rotate(-45 78.2 473)">PASC</text>
<text x="21.6" y="414.5" font-size="12.2" text-anchor="middle" fill="#111" transform="rotate(-90 21.6 414.5)">Abundance</text>
<text x="10.8" y="347.2" font-size="12" font-weight="bold">f</text>
<line x1="329.1" y1="365.6" x2="329.1" y2="462.8" stroke="#111" stroke-width="0.9"/>
<line x1="328.7" y1="462.3" x2="377.6" y2="462.3" stroke="#111" stroke-width="0.9"/>
<line x1="325.1" y1="365.6" x2="329.1" y2="365.6" stroke="#111" stroke-width="0.9"/>
<text x="322.7" y="368.6" font-size="8.5" text-anchor="end" fill="#111">6</text>
<line x1="325.1" y1="389.78" x2="329.1" y2="389.78" stroke="#111" stroke-width="0.9"/>
<text x="322.7" y="392.78" font-size="8.5" text-anchor="end" fill="#111">4</text>
<line x1="325.1" y1="413.95" x2="329.1" y2="413.95" stroke="#111" stroke-width="0.9"/>
<text x="322.7" y="416.95" font-size="8.5" text-anchor="end" fill="#111">2</text>
<line x1="325.1" y1="438.12" x2="329.1" y2="438.12" stroke="#111" stroke-width="0.9"/>
<text x="322.7" y="441.12" font-size="8.5" text-anchor="end" fill="#111">0</text>
<line x1="325.1" y1="462.3" x2="329.1" y2="462.3" stroke="#111" stroke-width="0.9"/>
<text x="322.7" y="465.3" font-size="8.5" text-anchor="end" fill="#111">-2</text>
<line x1="342.7" y1="462.3" x2="342.7" y2="465.7" stroke="#111" stroke-width="0.9"/>
<line x1="363.3" y1="462.3" x2="363.3" y2="465.7" stroke="#111" stroke-width="0.9"/>
<path d="M340.45 415.16a2.25 2.25 0 1 0 4.5 0a2.25 2.25 0 1 0 -4.5 0M340.45 438.62a2.25 2.25 0 1 0 4.5 0a2.25 2.25 0 1 0 -4.5 0M342.95 438.93a2.25 2.25 0 1 0 4.5 0a2.25 2.25 0 1 0 -4.5 0M338.2 439.65a2.25 2.25 0 1 0 4.5 0a2.25 2.25 0 1 0 -4.5 0M339.86 439.91a2.25 2.25 0 1 0 4.5 0a2.25 2.25 0 1 0 -4.5 0M341.9 440.14a2.25 2.25 0 1 0 4.5 0a2.25 2.25 0 1 0 -4.5 0M344.45 440.84a2.25 2.25 0 1 0 4.5 0a2.25 2.25 0 1 0 -4.5 0M340.45 444.21a2.25 2.25 0 1 0 4.5 0a2.25 2.25 0 1 0 -4.5 0M342.95 444.29a2.25 2.25 0 1 0 4.5 0a2.25 2.25 0 1 0 -4.5 0M337.95 444.3a2.25 2.25 0 1 0 4.5 0a2.25 2.25 0 1 0 -4.5 0M340.2 444.34a2.25 2.25 0 1 0 4.5 0a2.25 2.25 0 1 0 -4.5 0M340.48 444.34a2.25 2.25 0 1 0 4.5 0a2.25 2.25 0 1 0 -4.5 0M338.86 445.09a2.25 2.25 0 1 0 4.5 0a2.25 2.25 0 1 0 -4.5 0M339.83 446.07a2.25 2.25 0 1 0 4.5 0a2.25 2.25 0 1 0 -4.5 0M343.95 446.47a2.25 2.25 0 1 0 4.5 0a2.25 2.25 0 1 0 -4.5 0M336.95 446.55a2.25 2.25 0 1 0 4.5 0a2.25 2.25 0 1 0 -4.5 0M340.29 446.65a2.25 2.25 0 1 0 4.5 0a2.25 2.25 0 1 0 -4.5 0M339.13 447.46a2.25 2.25 0 1 0 4.5 0a2.25 2.25 0 1 0 -4.5 0M343.19 447.63a2.25 2.25 0 1 0 4.5 0a2.25 2.25 0 1 0 -4.5 0M338.32 447.63a2.25 2.25 0 1 0 4.5 0a2.25 2.25 0 1 0 -4.5 0M338.1 447.84a2.25 2.25 0 1 0 4.5 0a2.25 2.25 0 1 0 -4.5 0M339.14 447.95a2.25 2.25 0 1 0 4.5 0a2.25 2.25 0 1 0 -4.5 0M342.85 448.27a2.25 2.25 0 1 0 4.5 0a2.25 2.25 0 1 0 -4.5 0M343.37 449.13a2.25 2.25 0 1 0 4.5 0a2.25 2.25 0 1 0 -4.5 0M341 449.37a2.25 2.25 0 1 0 4.5 0a2.25 2.25 0 1 0 -4.5 0M336.45 449.54a2.25 2.25 0 1 0 4.5 0a2.25 2.25 0 1 0 -4.5 0M339.28 449.67a2.25 2.25 0 1 0 4.5 0a2.25 2.25 0 1 0 -4.5 0" fill="none" stroke="#111" stroke-width="0.75"/>
<path d="M361.05 382.52a2.25 2.25 0 1 0 4.5 0a2.25 2.25 0 1 0 -4.5 0M363.55 382.52a2.25 2.25 0 1 0 4.5 0a2.25 2.25 0 1 0 -4.5 0M361.05 396.35a2.25 2.25 0 1 0 4.5 0a2.25 2.25 0 1 0 -4.5 0M361.05 399.67a2.25 2.25 0 1 0 4.5 0a2.25 2.25 0 1 0 -4.5 0M363.3 400.41a2.25 2.25 0 1 0 4.5 0a2.25 2.25 0 1 0 -4.5 0M361.05 405.61a2.25 2.25 0 1 0 4.5 0a2.25 2.25 0 1 0 -4.5 0M363.55 406.23a2.25 2.25 0 1 0 4.5 0a2.25 2.25 0 1 0 -4.5 0M361.05 409.7a2.25 2.25 0 1 0 4.5 0a2.25 2.25 0 1 0 -4.5 0M361.05 414.27a2.25 2.25 0 1 0 4.5 0a2.25 2.25 0 1 0 -4.5 0M361.05 416.81a2.25 2.25 0 1 0 4.5 0a2.25 2.25 0 1 0 -4.5 0M361.05 419.49a2.25 2.25 0 1 0 4.5 0a2.25 2.25 0 1 0 -4.5 0M363.3 420.71a2.25 2.25 0 1 0 4.5 0a2.25 2.25 0 1 0 -4.5 0M361.05 422.21a2.25 2.25 0 1 0 4.5 0a2.25 2.25 0 1 0 -4.5 0M358.55 422.21a2.25 2.25 0 1 0 4.5 0a2.25 2.25 0 1 0 -4.5 0M365.05 422.5a2.25 2.25 0 1 0 4.5 0a2.25 2.25 0 1 0 -4.5 0M362.3 422.67a2.25 2.25 0 1 0 4.5 0a2.25 2.25 0 1 0 -4.5 0M363.79 423.12a2.25 2.25 0 1 0 4.5 0a2.25 2.25 0 1 0 -4.5 0M358.89 423.79a2.25 2.25 0 1 0 4.5 0a2.25 2.25 0 1 0 -4.5 0M361.05 424.72a2.25 2.25 0 1 0 4.5 0a2.25 2.25 0 1 0 -4.5 0M363.3 425.92a2.25 2.25 0 1 0 4.5 0a2.25 2.25 0 1 0 -4.5 0M361.05 427.51a2.25 2.25 0 1 0 4.5 0a2.25 2.25 0 1 0 -4.5 0M358.55 427.8a2.25 2.25 0 1 0 4.5 0a2.25 2.25 0 1 0 -4.5 0M362.05 429.65a2.25 2.25 0 1 0 4.5 0a2.25 2.25 0 1 0 -4.5 0M360.05 430.96a2.25 2.25 0 1 0 4.5 0a2.25 2.25 0 1 0 -4.5 0M364.05 431.02a2.25 2.25 0 1 0 4.5 0a2.25 2.25 0 1 0 -4.5 0M357.55 431.19a2.25 2.25 0 1 0 4.5 0a2.25 2.25 0 1 0 -4.5 0M362.46 431.27a2.25 2.25 0 1 0 4.5 0a2.25 2.25 0 1 0 -4.5 0M362.81 431.58a2.25 2.25 0 1 0 4.5 0a2.25 2.25 0 1 0 -4.5 0M360.13 432.34a2.25 2.25 0 1 0 4.5 0a2.25 2.25 0 1 0 -4.5 0M358.07 432.5a2.25 2.25 0 1 0 4.5 0a2.25 2.25 0 1 0 -4.5 0M364.3 433.48a2.25 2.25 0 1 0 4.5 0a2.25 2.25 0 1 0 -4.5 0M361.95 433.63a2.25 2.25 0 1 0 4.5 0a2.25 2.25 0 1 0 -4.5 0M358.62 433.96a2.25 2.25 0 1 0 4.5 0a2.25 2.25 0 1 0 -4.5 0M359.94 434.46a2.25 2.25 0 1 0 4.5 0a2.25 2.25 0 1 0 -4.5 0M361.42 435.39a2.25 2.25 0 1 0 4.5 0a2.25 2.25 0 1 0 -4.5 0M360.55 437.58a2.25 2.25 0 1 0 4.5 0a2.25 2.25 0 1 0 -4.5 0M362.55 439.06a2.25 2.25 0 1 0 4.5 0a2.25 2.25 0 1 0 -4.5 0M358.55 439.15a2.25 2.25 0 1 0 4.5 0a2.25 2.25 0 1 0 -4.5 0M365.05 439.22a2.25 2.25 0 1 0 4.5 0a2.25 2.25 0 1 0 -4.5 0M360.55 440.42a2.25 2.25 0 1 0 4.5 0a2.25 2.25 0 1 0 -4.5 0M364.94 440.49a2.25 2.25 0 1 0 4.5 0a2.25 2.25 0 1 0 -4.5 0M358.08 440.5a2.25 2.25 0 1 0 4.5 0a2.25 2.25 0 1 0 -4.5 0M357.47 440.58a2.25 2.25 0 1 0 4.5 0a2.25 2.25 0 1 0 -4.5 0M361.38 440.82a2.25 2.25 0 1 0 4.5 0a2.25 2.25 0 1 0 -4.5 0M364.77 441.41a2.25 2.25 0 1 0 4.5 0a2.25 2.25 0 1 0 -4.5 0M357.24 441.47a2.25 2.25 0 1 0 4.5 0a2.25 2.25 0 1 0 -4.5 0M362.24 441.47a2.25 2.25 0 1 0 4.5 0a2.25 2.25 0 1 0 -4.5 0M357.08 441.81a2.25 2.25 0 1 0 4.5 0a2.25 2.25 0 1 0 -4.5 0M361.48 441.96a2.25 2.25 0 1 0 4.5 0a2.25 2.25 0 1 0 -4.5 0M357.85 442.33a2.25 2.25 0 1 0 4.5 0a2.25 2.25 0 1 0 -4.5 0M362.39 442.83a2.25 2.25 0 1 0 4.5 0a2.25 2.25 0 1 0 -4.5 0M359.88 443.11a2.25 2.25 0 1 0 4.5 0a2.25 2.25 0 1 0 -4.5 0M362.35 443.18a2.25 2.25 0 1 0 4.5 0a2.25 2.25 0 1 0 -4.5 0M359.02 443.24a2.25 2.25 0 1 0 4.5 0a2.25 2.25 0 1 0 -4.5 0M357.48 443.32a2.25 2.25 0 1 0 4.5 0a2.25 2.25 0 1 0 -4.5 0M358.38 443.38a2.25 2.25 0 1 0 4.5 0a2.25 2.25 0 1 0 -4.5 0M359.15 443.4a2.25 2.25 0 1 0 4.5 0a2.25 2.25 0 1 0 -4.5 0M358.23 443.51a2.25 2.25 0 1 0 4.5 0a2.25 2.25 0 1 0 -4.5 0M358.52 443.66a2.25 2.25 0 1 0 4.5 0a2.25 2.25 0 1 0 -4.5 0M365.05 443.75a2.25 2.25 0 1 0 4.5 0a2.25 2.25 0 1 0 -4.5 0M361.42 443.85a2.25 2.25 0 1 0 4.5 0a2.25 2.25 0 1 0 -4.5 0M360.53 443.97a2.25 2.25 0 1 0 4.5 0a2.25 2.25 0 1 0 -4.5 0M363.78 444.02a2.25 2.25 0 1 0 4.5 0a2.25 2.25 0 1 0 -4.5 0M361.03 444.03a2.25 2.25 0 1 0 4.5 0a2.25 2.25 0 1 0 -4.5 0M361.38 444.12a2.25 2.25 0 1 0 4.5 0a2.25 2.25 0 1 0 -4.5 0M362.82 444.62a2.25 2.25 0 1 0 4.5 0a2.25 2.25 0 1 0 -4.5 0M364.02 444.84a2.25 2.25 0 1 0 4.5 0a2.25 2.25 0 1 0 -4.5 0M361.76 444.89a2.25 2.25 0 1 0 4.5 0a2.25 2.25 0 1 0 -4.5 0M357.16 445.04a2.25 2.25 0 1 0 4.5 0a2.25 2.25 0 1 0 -4.5 0M360.71 445.12a2.25 2.25 0 1 0 4.5 0a2.25 2.25 0 1 0 -4.5 0M357.12 445.17a2.25 2.25 0 1 0 4.5 0a2.25 2.25 0 1 0 -4.5 0M361.93 445.74a2.25 2.25 0 1 0 4.5 0a2.25 2.25 0 1 0 -4.5 0M357.4 445.74a2.25 2.25 0 1 0 4.5 0a2.25 2.25 0 1 0 -4.5 0M361.38 445.76a2.25 2.25 0 1 0 4.5 0a2.25 2.25 0 1 0 -4.5 0M358.11 445.77a2.25 2.25 0 1 0 4.5 0a2.25 2.25 0 1 0 -4.5 0M364.04 445.92a2.25 2.25 0 1 0 4.5 0a2.25 2.25 0 1 0 -4.5 0M357.64 446.05a2.25 2.25 0 1 0 4.5 0a2.25 2.25 0 1 0 -4.5 0M362.39 446.15a2.25 2.25 0 1 0 4.5 0a2.25 2.25 0 1 0 -4.5 0M362.76 446.32a2.25 2.25 0 1 0 4.5 0a2.25 2.25 0 1 0 -4.5 0M359.16 446.43a2.25 2.25 0 1 0 4.5 0a2.25 2.25 0 1 0 -4.5 0M361.83 446.55a2.25 2.25 0 1 0 4.5 0a2.25 2.25 0 1 0 -4.5 0M359.62 446.79a2.25 2.25 0 1 0 4.5 0a2.25 2.25 0 1 0 -4.5 0M359.03 446.94a2.25 2.25 0 1 0 4.5 0a2.25 2.25 0 1 0 -4.5 0M359.03 446.99a2.25 2.25 0 1 0 4.5 0a2.25 2.25 0 1 0 -4.5 0M356.98 447.02a2.25 2.25 0 1 0 4.5 0a2.25 2.25 0 1 0 -4.5 0M362.5 447.65a2.25 2.25 0 1 0 4.5 0a2.25 2.25 0 1 0 -4.5 0M357.45 447.9a2.25 2.25 0 1 0 4.5 0a2.25 2.25 0 1 0 -4.5 0M364.8 448.27a2.25 2.25 0 1 0 4.5 0a2.25 2.25 0 1 0 -4.5 0M358.5 448.46a2.25 2.25 0 1 0 4.5 0a2.25 2.25 0 1 0 -4.5 0M357.58 448.88a2.25 2.25 0 1 0 4.5 0a2.25 2.25 0 1 0 -4.5 0M363.61 449.13a2.25 2.25 0 1 0 4.5 0a2.25 2.25 0 1 0 -4.5 0M361.3 449.16a2.25 2.25 0 1 0 4.5 0a2.25 2.25 0 1 0 -4.5 0M360.78 449.58a2.25 2.25 0 1 0 4.5 0a2.25 2.25 0 1 0 -4.5 0M358.8 450.96a2.25 2.25 0 1 0 4.5 0a2.25 2.25 0 1 0 -4.5 0M362.05 451.68a2.25 2.25 0 1 0 4.5 0a2.25 2.25 0 1 0 -4.5 0M364.55 452.05a2.25 2.25 0 1 0 4.5 0a2.25 2.25 0 1 0 -4.5 0" fill="none" stroke="#111" stroke-width="0.75"/>
<line x1="335.4" y1="444.77" x2="350" y2="444.77" stroke="#e8503a" stroke-width="1.1"/>
<line x1="356" y1="435.1" x2="370.6" y2="435.1" stroke="#e8503a" stroke-width="1.1"/>
<text x="355" y="355.3" font-size="12.2" text-anchor="middle" fill="#111">IL1B</text>
<text x="354.05" y="377.6" font-size="8.5" text-anchor="middle" font-weight="bold" fill="#111" letter-spacing="1.1">**</text>
<line x1="342.7" y1="377.3" x2="364.2" y2="377.3" stroke="#b5b5b5" stroke-width="1"/>
<text x="348.1" y="473.5" font-size="8.4" text-anchor="end" fill="#111" transform="rotate(-45 348.1 473.5)">CR</text>
<text x="368.7" y="473.5" font-size="8.4" text-anchor="end" fill="#111" transform="rotate(-45 368.7 473.5)">PASC</text>
<text x="312.7" y="413" font-size="12.2" text-anchor="middle" fill="#111" transform="rotate(-90 312.7 413)">Abundance</text>
<text x="301" y="348.9" font-size="12" font-weight="bold">h</text>
<line x1="636.6" y1="365.6" x2="636.6" y2="463" stroke="#111" stroke-width="0.9"/>
<line x1="636.2" y1="462.5" x2="685" y2="462.5" stroke="#111" stroke-width="0.9"/>
<line x1="632.6" y1="365.6" x2="636.6" y2="365.6" stroke="#111" stroke-width="0.9"/>
<text x="630.2" y="368.6" font-size="8.5" text-anchor="end" fill="#111">6</text>
<line x1="632.6" y1="384.98" x2="636.6" y2="384.98" stroke="#111" stroke-width="0.9"/>
<text x="630.2" y="387.98" font-size="8.5" text-anchor="end" fill="#111">4</text>
<line x1="632.6" y1="404.36" x2="636.6" y2="404.36" stroke="#111" stroke-width="0.9"/>
<text x="630.2" y="407.36" font-size="8.5" text-anchor="end" fill="#111">2</text>
<line x1="632.6" y1="423.74" x2="636.6" y2="423.74" stroke="#111" stroke-width="0.9"/>
<text x="630.2" y="426.74" font-size="8.5" text-anchor="end" fill="#111">0</text>
<line x1="632.6" y1="443.12" x2="636.6" y2="443.12" stroke="#111" stroke-width="0.9"/>
<text x="630.2" y="446.12" font-size="8.5" text-anchor="end" fill="#111">-2</text>
<line x1="632.6" y1="462.5" x2="636.6" y2="462.5" stroke="#111" stroke-width="0.9"/>
<text x="630.2" y="465.5" font-size="8.5" text-anchor="end" fill="#111">-4</text>
<line x1="650.1" y1="462.5" x2="650.1" y2="465.9" stroke="#111" stroke-width="0.9"/>
<line x1="670.5" y1="462.5" x2="670.5" y2="465.9" stroke="#111" stroke-width="0.9"/>
<line x1="637.6" y1="423.74" x2="685" y2="423.74" stroke="#444" stroke-width="0.8" stroke-dasharray="1 1.3"/>
<path d="M647.85 413.94a2.25 2.25 0 1 0 4.5 0a2.25 2.25 0 1 0 -4.5 0M647.85 418.13a2.25 2.25 0 1 0 4.5 0a2.25 2.25 0 1 0 -4.5 0M650.35 418.2a2.25 2.25 0 1 0 4.5 0a2.25 2.25 0 1 0 -4.5 0M645.6 419.26a2.25 2.25 0 1 0 4.5 0a2.25 2.25 0 1 0 -4.5 0M647.85 421.4a2.25 2.25 0 1 0 4.5 0a2.25 2.25 0 1 0 -4.5 0M650.35 421.63a2.25 2.25 0 1 0 4.5 0a2.25 2.25 0 1 0 -4.5 0M645.35 421.75a2.25 2.25 0 1 0 4.5 0a2.25 2.25 0 1 0 -4.5 0M648.55 422.33a2.25 2.25 0 1 0 4.5 0a2.25 2.25 0 1 0 -4.5 0M650.44 423.21a2.25 2.25 0 1 0 4.5 0a2.25 2.25 0 1 0 -4.5 0M647.85 424.63a2.25 2.25 0 1 0 4.5 0a2.25 2.25 0 1 0 -4.5 0M645.35 424.86a2.25 2.25 0 1 0 4.5 0a2.25 2.25 0 1 0 -4.5 0M651.85 425.25a2.25 2.25 0 1 0 4.5 0a2.25 2.25 0 1 0 -4.5 0M648.85 426.81a2.25 2.25 0 1 0 4.5 0a2.25 2.25 0 1 0 -4.5 0M647.1 428.41a2.25 2.25 0 1 0 4.5 0a2.25 2.25 0 1 0 -4.5 0M650.1 428.85a2.25 2.25 0 1 0 4.5 0a2.25 2.25 0 1 0 -4.5 0M647.85 433.25a2.25 2.25 0 1 0 4.5 0a2.25 2.25 0 1 0 -4.5 0M650.35 433.5a2.25 2.25 0 1 0 4.5 0a2.25 2.25 0 1 0 -4.5 0M645.6 434.46a2.25 2.25 0 1 0 4.5 0a2.25 2.25 0 1 0 -4.5 0M648.89 434.88a2.25 2.25 0 1 0 4.5 0a2.25 2.25 0 1 0 -4.5 0M647.96 435.03a2.25 2.25 0 1 0 4.5 0a2.25 2.25 0 1 0 -4.5 0M646.28 435.05a2.25 2.25 0 1 0 4.5 0a2.25 2.25 0 1 0 -4.5 0M647.85 437.49a2.25 2.25 0 1 0 4.5 0a2.25 2.25 0 1 0 -4.5 0M649.85 438.75a2.25 2.25 0 1 0 4.5 0a2.25 2.25 0 1 0 -4.5 0M646.35 439.41a2.25 2.25 0 1 0 4.5 0a2.25 2.25 0 1 0 -4.5 0M643.85 439.79a2.25 2.25 0 1 0 4.5 0a2.25 2.25 0 1 0 -4.5 0M651.6 440.5a2.25 2.25 0 1 0 4.5 0a2.25 2.25 0 1 0 -4.5 0M647.85 441.48a2.25 2.25 0 1 0 4.5 0a2.25 2.25 0 1 0 -4.5 0" fill="none" stroke="#111" stroke-width="0.75"/>
<path d="M668.25 383.32a2.25 2.25 0 1 0 4.5 0a2.25 2.25 0 1 0 -4.5 0M668.25 396.25a2.25 2.25 0 1 0 4.5 0a2.25 2.25 0 1 0 -4.5 0M668.25 402.65a2.25 2.25 0 1 0 4.5 0a2.25 2.25 0 1 0 -4.5 0M670.75 403.03a2.25 2.25 0 1 0 4.5 0a2.25 2.25 0 1 0 -4.5 0M665.75 403.27a2.25 2.25 0 1 0 4.5 0a2.25 2.25 0 1 0 -4.5 0M668.39 404.11a2.25 2.25 0 1 0 4.5 0a2.25 2.25 0 1 0 -4.5 0M672.34 404.28a2.25 2.25 0 1 0 4.5 0a2.25 2.25 0 1 0 -4.5 0M668.84 405.07a2.25 2.25 0 1 0 4.5 0a2.25 2.25 0 1 0 -4.5 0M666.5 405.92a2.25 2.25 0 1 0 4.5 0a2.25 2.25 0 1 0 -4.5 0M668.06 406.13a2.25 2.25 0 1 0 4.5 0a2.25 2.25 0 1 0 -4.5 0M671.51 406.15a2.25 2.25 0 1 0 4.5 0a2.25 2.25 0 1 0 -4.5 0M664.5 407.25a2.25 2.25 0 1 0 4.5 0a2.25 2.25 0 1 0 -4.5 0M664.51 407.51a2.25 2.25 0 1 0 4.5 0a2.25 2.25 0 1 0 -4.5 0M664.58 407.66a2.25 2.25 0 1 0 4.5 0a2.25 2.25 0 1 0 -4.5 0M669.75 407.9a2.25 2.25 0 1 0 4.5 0a2.25 2.25 0 1 0 -4.5 0M667.5 408.75a2.25 2.25 0 1 0 4.5 0a2.25 2.25 0 1 0 -4.5 0M672 409.09a2.25 2.25 0 1 0 4.5 0a2.25 2.25 0 1 0 -4.5 0M670.68 409.79a2.25 2.25 0 1 0 4.5 0a2.25 2.25 0 1 0 -4.5 0M671.96 409.84a2.25 2.25 0 1 0 4.5 0a2.25 2.25 0 1 0 -4.5 0M665.5 410.2a2.25 2.25 0 1 0 4.5 0a2.25 2.25 0 1 0 -4.5 0M664.48 410.28a2.25 2.25 0 1 0 4.5 0a2.25 2.25 0 1 0 -4.5 0M664.25 410.41a2.25 2.25 0 1 0 4.5 0a2.25 2.25 0 1 0 -4.5 0M664.13 410.67a2.25 2.25 0 1 0 4.5 0a2.25 2.25 0 1 0 -4.5 0M668.9 410.76a2.25 2.25 0 1 0 4.5 0a2.25 2.25 0 1 0 -4.5 0M665.21 411.11a2.25 2.25 0 1 0 4.5 0a2.25 2.25 0 1 0 -4.5 0M668.77 411.78a2.25 2.25 0 1 0 4.5 0a2.25 2.25 0 1 0 -4.5 0M671.25 412.33a2.25 2.25 0 1 0 4.5 0a2.25 2.25 0 1 0 -4.5 0M669.63 412.37a2.25 2.25 0 1 0 4.5 0a2.25 2.25 0 1 0 -4.5 0M664.18 412.48a2.25 2.25 0 1 0 4.5 0a2.25 2.25 0 1 0 -4.5 0M671.36 412.63a2.25 2.25 0 1 0 4.5 0a2.25 2.25 0 1 0 -4.5 0M666.17 412.8a2.25 2.25 0 1 0 4.5 0a2.25 2.25 0 1 0 -4.5 0M668.7 412.83a2.25 2.25 0 1 0 4.5 0a2.25 2.25 0 1 0 -4.5 0M667.02 412.9a2.25 2.25 0 1 0 4.5 0a2.25 2.25 0 1 0 -4.5 0M666.93 413.01a2.25 2.25 0 1 0 4.5 0a2.25 2.25 0 1 0 -4.5 0M667.44 413.38a2.25 2.25 0 1 0 4.5 0a2.25 2.25 0 1 0 -4.5 0M664.08 413.51a2.25 2.25 0 1 0 4.5 0a2.25 2.25 0 1 0 -4.5 0M667.65 413.7a2.25 2.25 0 1 0 4.5 0a2.25 2.25 0 1 0 -4.5 0M666.28 414.32a2.25 2.25 0 1 0 4.5 0a2.25 2.25 0 1 0 -4.5 0M667.05 414.4a2.25 2.25 0 1 0 4.5 0a2.25 2.25 0 1 0 -4.5 0M670 414.9a2.25 2.25 0 1 0 4.5 0a2.25 2.25 0 1 0 -4.5 0M665.42 415.22a2.25 2.25 0 1 0 4.5 0a2.25 2.25 0 1 0 -4.5 0M666.86 415.24a2.25 2.25 0 1 0 4.5 0a2.25 2.25 0 1 0 -4.5 0M669.93 415.36a2.25 2.25 0 1 0 4.5 0a2.25 2.25 0 1 0 -4.5 0M672.31 415.48a2.25 2.25 0 1 0 4.5 0a2.25 2.25 0 1 0 -4.5 0M665.71 415.61a2.25 2.25 0 1 0 4.5 0a2.25 2.25 0 1 0 -4.5 0M671.33 416.02a2.25 2.25 0 1 0 4.5 0a2.25 2.25 0 1 0 -4.5 0M669.21 416.47a2.25 2.25 0 1 0 4.5 0a2.25 2.25 0 1 0 -4.5 0M664.9 416.49a2.25 2.25 0 1 0 4.5 0a2.25 2.25 0 1 0 -4.5 0M664.17 416.95a2.25 2.25 0 1 0 4.5 0a2.25 2.25 0 1 0 -4.5 0M671.48 417.21a2.25 2.25 0 1 0 4.5 0a2.25 2.25 0 1 0 -4.5 0M666.02 417.23a2.25 2.25 0 1 0 4.5 0a2.25 2.25 0 1 0 -4.5 0M664.94 417.71a2.25 2.25 0 1 0 4.5 0a2.25 2.25 0 1 0 -4.5 0M669.56 417.9a2.25 2.25 0 1 0 4.5 0a2.25 2.25 0 1 0 -4.5 0M669.99 417.91a2.25 2.25 0 1 0 4.5 0a2.25 2.25 0 1 0 -4.5 0M671.57 418.19a2.25 2.25 0 1 0 4.5 0a2.25 2.25 0 1 0 -4.5 0M668.25 418.22a2.25 2.25 0 1 0 4.5 0a2.25 2.25 0 1 0 -4.5 0M666.67 418.36a2.25 2.25 0 1 0 4.5 0a2.25 2.25 0 1 0 -4.5 0M666.72 418.78a2.25 2.25 0 1 0 4.5 0a2.25 2.25 0 1 0 -4.5 0M665.77 419.81a2.25 2.25 0 1 0 4.5 0a2.25 2.25 0 1 0 -4.5 0M669.39 419.87a2.25 2.25 0 1 0 4.5 0a2.25 2.25 0 1 0 -4.5 0M671.97 420.06a2.25 2.25 0 1 0 4.5 0a2.25 2.25 0 1 0 -4.5 0M664.76 420.15a2.25 2.25 0 1 0 4.5 0a2.25 2.25 0 1 0 -4.5 0M667.3 420.51a2.25 2.25 0 1 0 4.5 0a2.25 2.25 0 1 0 -4.5 0M667.01 420.79a2.25 2.25 0 1 0 4.5 0a2.25 2.25 0 1 0 -4.5 0M664.72 420.9a2.25 2.25 0 1 0 4.5 0a2.25 2.25 0 1 0 -4.5 0M669.05 421.2a2.25 2.25 0 1 0 4.5 0a2.25 2.25 0 1 0 -4.5 0M672.31 421.51a2.25 2.25 0 1 0 4.5 0a2.25 2.25 0 1 0 -4.5 0M666.37 421.76a2.25 2.25 0 1 0 4.5 0a2.25 2.25 0 1 0 -4.5 0M670.16 422.16a2.25 2.25 0 1 0 4.5 0a2.25 2.25 0 1 0 -4.5 0M671.61 422.19a2.25 2.25 0 1 0 4.5 0a2.25 2.25 0 1 0 -4.5 0M666.32 422.32a2.25 2.25 0 1 0 4.5 0a2.25 2.25 0 1 0 -4.5 0M671.77 422.36a2.25 2.25 0 1 0 4.5 0a2.25 2.25 0 1 0 -4.5 0M670.34 422.66a2.25 2.25 0 1 0 4.5 0a2.25 2.25 0 1 0 -4.5 0M669.47 422.67a2.25 2.25 0 1 0 4.5 0a2.25 2.25 0 1 0 -4.5 0M665.68 422.7a2.25 2.25 0 1 0 4.5 0a2.25 2.25 0 1 0 -4.5 0M666.38 422.75a2.25 2.25 0 1 0 4.5 0a2.25 2.25 0 1 0 -4.5 0M664.9 422.78a2.25 2.25 0 1 0 4.5 0a2.25 2.25 0 1 0 -4.5 0M671.57 422.86a2.25 2.25 0 1 0 4.5 0a2.25 2.25 0 1 0 -4.5 0M670.85 423.04a2.25 2.25 0 1 0 4.5 0a2.25 2.25 0 1 0 -4.5 0M664.78 423.14a2.25 2.25 0 1 0 4.5 0a2.25 2.25 0 1 0 -4.5 0M668.51 423.57a2.25 2.25 0 1 0 4.5 0a2.25 2.25 0 1 0 -4.5 0M665.84 424.15a2.25 2.25 0 1 0 4.5 0a2.25 2.25 0 1 0 -4.5 0M668.25 426.04a2.25 2.25 0 1 0 4.5 0a2.25 2.25 0 1 0 -4.5 0M670.75 426.53a2.25 2.25 0 1 0 4.5 0a2.25 2.25 0 1 0 -4.5 0M666 426.74a2.25 2.25 0 1 0 4.5 0a2.25 2.25 0 1 0 -4.5 0M670.48 427.39a2.25 2.25 0 1 0 4.5 0a2.25 2.25 0 1 0 -4.5 0M668.86 427.76a2.25 2.25 0 1 0 4.5 0a2.25 2.25 0 1 0 -4.5 0M671.99 427.9a2.25 2.25 0 1 0 4.5 0a2.25 2.25 0 1 0 -4.5 0M670.16 428.03a2.25 2.25 0 1 0 4.5 0a2.25 2.25 0 1 0 -4.5 0M664.25 428.39a2.25 2.25 0 1 0 4.5 0a2.25 2.25 0 1 0 -4.5 0M664.9 428.69a2.25 2.25 0 1 0 4.5 0a2.25 2.25 0 1 0 -4.5 0M667.18 429.11a2.25 2.25 0 1 0 4.5 0a2.25 2.25 0 1 0 -4.5 0M668.89 429.48a2.25 2.25 0 1 0 4.5 0a2.25 2.25 0 1 0 -4.5 0M671.71 429.69a2.25 2.25 0 1 0 4.5 0a2.25 2.25 0 1 0 -4.5 0M667.17 430.87a2.25 2.25 0 1 0 4.5 0a2.25 2.25 0 1 0 -4.5 0M665.63 430.91a2.25 2.25 0 1 0 4.5 0a2.25 2.25 0 1 0 -4.5 0M668.25 433.88a2.25 2.25 0 1 0 4.5 0a2.25 2.25 0 1 0 -4.5 0M670.25 435.21a2.25 2.25 0 1 0 4.5 0a2.25 2.25 0 1 0 -4.5 0M668.25 436.5a2.25 2.25 0 1 0 4.5 0a2.25 2.25 0 1 0 -4.5 0M669.75 438.33a2.25 2.25 0 1 0 4.5 0a2.25 2.25 0 1 0 -4.5 0" fill="none" stroke="#111" stroke-width="0.75"/>
<line x1="642.8" y1="430.52" x2="657.4" y2="430.52" stroke="#e8503a" stroke-width="1.1"/>
<line x1="663.2" y1="419.38" x2="677.8" y2="419.38" stroke="#e8302a" stroke-width="1.1"/>
<text x="660.4" y="353.2" font-size="12.2" text-anchor="middle" fill="#111">CASP8</text>
<text x="660.85" y="376.6" font-size="8.5" text-anchor="middle" font-weight="bold" fill="#111" letter-spacing="1.1">****</text>
<line x1="649.9" y1="376.3" x2="670.7" y2="376.3" stroke="#b5b5b5" stroke-width="1"/>
<text x="655.5" y="473.7" font-size="8.4" text-anchor="end" fill="#111" transform="rotate(-45 655.5 473.7)">CR</text>
<text x="675.9" y="473.7" font-size="8.4" text-anchor="end" fill="#111" transform="rotate(-45 675.9 473.7)">PASC</text>
<text x="617.3" y="413" font-size="12.2" text-anchor="middle" fill="#111" transform="rotate(-90 617.3 413)">Abundance</text>
<text x="599.5" y="348.9" font-size="12" font-weight="bold">j</text>
<line x1="304.1" y1="171" x2="304.1" y2="302" stroke="#e8e8e8" stroke-width="0.6" stroke-dasharray="1 1.2"/>
<line x1="339.7" y1="171" x2="339.7" y2="302" stroke="#e8e8e8" stroke-width="0.6" stroke-dasharray="1 1.2"/>
<line x1="375.3" y1="171" x2="375.3" y2="302" stroke="#e8e8e8" stroke-width="0.6" stroke-dasharray="1 1.2"/>
<line x1="410.9" y1="171" x2="410.9" y2="302" stroke="#e8e8e8" stroke-width="0.6" stroke-dasharray="1 1.2"/>
<line x1="283.5" y1="280.88" x2="414.5" y2="280.88" stroke="#e8e8e8" stroke-width="0.6" stroke-dasharray="1 1.2"/>
<line x1="283.5" y1="251.22" x2="414.5" y2="251.22" stroke="#e8e8e8" stroke-width="0.6" stroke-dasharray="1 1.2"/>
<line x1="283.5" y1="221.57" x2="414.5" y2="221.57" stroke="#e8e8e8" stroke-width="0.6" stroke-dasharray="1 1.2"/>
<line x1="283.5" y1="191.93" x2="414.5" y2="191.93" stroke="#e8e8e8" stroke-width="0.6" stroke-dasharray="1 1.2"/>
<line x1="286.3" y1="171" x2="286.3" y2="302" stroke="#ebebeb" stroke-width="0.8"/>
<line x1="321.9" y1="171" x2="321.9" y2="302" stroke="#ebebeb" stroke-width="0.8"/>
<line x1="357.5" y1="171" x2="357.5" y2="302" stroke="#ebebeb" stroke-width="0.8"/>
<line x1="393.1" y1="171" x2="393.1" y2="302" stroke="#ebebeb" stroke-width="0.8"/>
<line x1="283.5" y1="295.7" x2="414.5" y2="295.7" stroke="#ebebeb" stroke-width="0.8"/>
<line x1="283.5" y1="266.05" x2="414.5" y2="266.05" stroke="#ebebeb" stroke-width="0.8"/>
<line x1="283.5" y1="236.4" x2="414.5" y2="236.4" stroke="#ebebeb" stroke-width="0.8"/>
<line x1="283.5" y1="206.75" x2="414.5" y2="206.75" stroke="#ebebeb" stroke-width="0.8"/>
<line x1="283.5" y1="177.1" x2="414.5" y2="177.1" stroke="#ebebeb" stroke-width="0.8"/>
<text x="281.2" y="298.4" font-size="8.2" text-anchor="end" fill="#4d4d4d">0.0</text>
<text x="281.2" y="268.75" font-size="8.2" text-anchor="end" fill="#4d4d4d">2.5</text>
<text x="281.2" y="239.1" font-size="8.2" text-anchor="end" fill="#4d4d4d">5.0</text>
<text x="281.2" y="209.45" font-size="8.2" text-anchor="end" fill="#4d4d4d">7.5</text>
<text x="281.2" y="179.8" font-size="8.2" text-anchor="end" fill="#4d4d4d">10.0</text>
<text x="286.3" y="311.1" font-size="8" text-anchor="middle" fill="#4d4d4d">0.4</text>
<text x="321.9" y="311.1" font-size="8" text-anchor="middle" fill="#4d4d4d">0.8</text>
<text x="357.5" y="311.1" font-size="8" text-anchor="middle" fill="#4d4d4d">1.2</text>
<text x="393.1" y="311.1" font-size="8" text-anchor="middle" fill="#4d4d4d">1.6</text>
<text x="259.3" y="232.6" font-size="12.4" text-anchor="middle" fill="#222" transform="rotate(-90 259.3 232.6)">-log(Nominal p-value)</text>
<text x="351.5" y="326.5" font-size="12.4" text-anchor="middle" fill="#222">Normalized pathway enrichment</text>
<text x="243.6" y="166.4" font-size="12" font-weight="bold">d</text>
<path d="M287.13 295.06a1 1 0 1 0 2 0a1 1 0 1 0 -2 0M291.12 294.93a1 1 0 1 0 2 0a1 1 0 1 0 -2 0M292.44 295.01a1 1 0 1 0 2 0a1 1 0 1 0 -2 0M293 294.69a1 1 0 1 0 2 0a1 1 0 1 0 -2 0M293.98 294.59a1 1 0 1 0 2 0a1 1 0 1 0 -2 0M295.05 294.88a1 1 0 1 0 2 0a1 1 0 1 0 -2 0M295.28 294.44a1 1 0 1 0 2 0a1 1 0 1 0 -2 0M295.58 294.62a1 1 0 1 0 2 0a1 1 0 1 0 -2 0M297.17 294.51a1 1 0 1 0 2 0a1 1 0 1 0 -2 0M297.4 294.44a1 1 0 1 0 2 0a1 1 0 1 0 -2 0M300.28 294.97a1 1 0 1 0 2 0a1 1 0 1 0 -2 0M301.08 294.12a1 1 0 1 0 2 0a1 1 0 1 0 -2 0M301.14 294.12a1 1 0 1 0 2 0a1 1 0 1 0 -2 0M304.5 294.55a1 1 0 1 0 2 0a1 1 0 1 0 -2 0M304.73 294.68a1 1 0 1 0 2 0a1 1 0 1 0 -2 0M305.41 294.24a1 1 0 1 0 2 0a1 1 0 1 0 -2 0M305.47 293.76a1 1 0 1 0 2 0a1 1 0 1 0 -2 0M305.52 294.2a1 1 0 1 0 2 0a1 1 0 1 0 -2 0M305.62 294.02a1 1 0 1 0 2 0a1 1 0 1 0 -2 0M305.93 294a1 1 0 1 0 2 0a1 1 0 1 0 -2 0M306.66 294.03a1 1 0 1 0 2 0a1 1 0 1 0 -2 0M306.69 294.42a1 1 0 1 0 2 0a1 1 0 1 0 -2 0M307.39 294.33a1 1 0 1 0 2 0a1 1 0 1 0 -2 0M309.68 294.51a1 1 0 1 0 2 0a1 1 0 1 0 -2 0M309.73 294.27a1 1 0 1 0 2 0a1 1 0 1 0 -2 0M309.76 294.44a1 1 0 1 0 2 0a1 1 0 1 0 -2 0M309.81 294.17a1 1 0 1 0 2 0a1 1 0 1 0 -2 0M311.43 294.32a1 1 0 1 0 2 0a1 1 0 1 0 -2 0M311.97 294.3a1 1 0 1 0 2 0a1 1 0 1 0 -2 0M312.38 293.35a1 1 0 1 0 2 0a1 1 0 1 0 -2 0M312.47 294.09a1 1 0 1 0 2 0a1 1 0 1 0 -2 0M312.79 293.74a1 1 0 1 0 2 0a1 1 0 1 0 -2 0M313.25 294.44a1 1 0 1 0 2 0a1 1 0 1 0 -2 0M313.61 293.74a1 1 0 1 0 2 0a1 1 0 1 0 -2 0M313.82 293.7a1 1 0 1 0 2 0a1 1 0 1 0 -2 0M314.04 293.43a1 1 0 1 0 2 0a1 1 0 1 0 -2 0M314.54 294.11a1 1 0 1 0 2 0a1 1 0 1 0 -2 0M314.55 294.3a1 1 0 1 0 2 0a1 1 0 1 0 -2 0M316.5 293.81a1 1 0 1 0 2 0a1 1 0 1 0 -2 0M318.46 293.67a1 1 0 1 0 2 0a1 1 0 1 0 -2 0M318.64 293.3a1 1 0 1 0 2 0a1 1 0 1 0 -2 0M318.66 293.02a1 1 0 1 0 2 0a1 1 0 1 0 -2 0M318.66 292.93a1 1 0 1 0 2 0a1 1 0 1 0 -2 0M319.15 293.68a1 1 0 1 0 2 0a1 1 0 1 0 -2 0M319.29 292.97a1 1 0 1 0 2 0a1 1 0 1 0 -2 0M319.45 292.95a1 1 0 1 0 2 0a1 1 0 1 0 -2 0M319.92 293.35a1 1 0 1 0 2 0a1 1 0 1 0 -2 0M320.28 293.06a1 1 0 1 0 2 0a1 1 0 1 0 -2 0M322.87 291.8a1 1 0 1 0 2 0a1 1 0 1 0 -2 0M323.18 292.76a1 1 0 1 0 2 0a1 1 0 1 0 -2 0M323.56 293.16a1 1 0 1 0 2 0a1 1 0 1 0 -2 0M323.59 292.73a1 1 0 1 0 2 0a1 1 0 1 0 -2 0M324.2 292.22a1 1 0 1 0 2 0a1 1 0 1 0 -2 0" fill="none" stroke="#1c3454" stroke-width="0.65"/>
<path d="M325.44 291.82a1 1 0 1 0 2 0a1 1 0 1 0 -2 0" fill="none" stroke="#1c3353" stroke-width="0.65"/>
<path d="M327.16 292.07a1 1 0 1 0 2 0a1 1 0 1 0 -2 0" fill="none" stroke="#223252" stroke-width="0.65"/>
<path d="M327.22 292.47a1 1 0 1 0 2 0a1 1 0 1 0 -2 0" fill="none" stroke="#233252" stroke-width="0.65"/>
<path d="M327.54 291.76a1 1 0 1 0 2 0a1 1 0 1 0 -2 0" fill="none" stroke="#243251" stroke-width="0.65"/>
<path d="M327.97 290.34a1 1 0 1 0 2 0a1 1 0 1 0 -2 0" fill="none" stroke="#263251" stroke-width="0.65"/>
<path d="M328.17 292.6a1 1 0 1 0 2 0a1 1 0 1 0 -2 0" fill="none" stroke="#263151" stroke-width="0.65"/>
<path d="M328.25 291.32a1 1 0 1 0 2 0a1 1 0 1 0 -2 0M328.42 291.73a1 1 0 1 0 2 0a1 1 0 1 0 -2 0" fill="none" stroke="#273151" stroke-width="0.65"/>
<path d="M328.65 292.91a1 1 0 1 0 2 0a1 1 0 1 0 -2 0" fill="none" stroke="#283150" stroke-width="0.65"/>
<path d="M329.14 291.19a1 1 0 1 0 2 0a1 1 0 1 0 -2 0" fill="none" stroke="#2a3150" stroke-width="0.65"/>
<path d="M330.54 291.99a1 1 0 1 0 2 0a1 1 0 1 0 -2 0" fill="none" stroke="#30304e" stroke-width="0.65"/>
<path d="M331.02 292.13a1 1 0 1 0 2 0a1 1 0 1 0 -2 0M331.04 292.12a1 1 0 1 0 2 0a1 1 0 1 0 -2 0" fill="none" stroke="#312f4e" stroke-width="0.65"/>
<path d="M331.13 290.33a1 1 0 1 0 2 0a1 1 0 1 0 -2 0" fill="none" stroke="#322f4e" stroke-width="0.65"/>
<path d="M331.76 290.9a1 1 0 1 0 2 0a1 1 0 1 0 -2 0" fill="none" stroke="#342f4d" stroke-width="0.65"/>
<path d="M332.19 291.85a1 1 0 1 0 2 0a1 1 0 1 0 -2 0" fill="none" stroke="#362e4d" stroke-width="0.65"/>
<path d="M332.36 290.45a1.25 1.25 0 1 0 2.5 0a1.25 1.25 0 1 0 -2.5 0" fill="none" stroke="#372e4d" stroke-width="0.65"/>
<path d="M332.44 289.1a1.25 1.25 0 1 0 2.5 0a1.25 1.25 0 1 0 -2.5 0M332.53 288.69a1.25 1.25 0 1 0 2.5 0a1.25 1.25 0 1 0 -2.5 0" fill="none" stroke="#382e4c" stroke-width="0.65"/>
<path d="M332.75 291.74a1.25 1.25 0 1 0 2.5 0a1.25 1.25 0 1 0 -2.5 0" fill="none" stroke="#392e4c" stroke-width="0.65"/>
<path d="M333.97 289.54a1.25 1.25 0 1 0 2.5 0a1.25 1.25 0 1 0 -2.5 0M333.99 291.9a1.25 1.25 0 1 0 2.5 0a1.25 1.25 0 1 0 -2.5 0M334.06 287.8a1.25 1.25 0 1 0 2.5 0a1.25 1.25 0 1 0 -2.5 0" fill="none" stroke="#3e2d4b" stroke-width="0.65"/>
<path d="M335.32 288.68a1.25 1.25 0 1 0 2.5 0a1.25 1.25 0 1 0 -2.5 0" fill="none" stroke="#432c4a" stroke-width="0.65"/>
<path d="M336.67 288.63a1.25 1.25 0 1 0 2.5 0a1.25 1.25 0 1 0 -2.5 0" fill="none" stroke="#482b48" stroke-width="0.65"/>
<path d="M337.49 287.83a1.25 1.25 0 1 0 2.5 0a1.25 1.25 0 1 0 -2.5 0" fill="none" stroke="#4b2a48" stroke-width="0.65"/>
<path d="M337.88 287.44a1.25 1.25 0 1 0 2.5 0a1.25 1.25 0 1 0 -2.5 0" fill="none" stroke="#4d2a47" stroke-width="0.65"/>
<path d="M338.2 287.83a1.25 1.25 0 1 0 2.5 0a1.25 1.25 0 1 0 -2.5 0" fill="none" stroke="#4e2a47" stroke-width="0.65"/>
<path d="M338.91 284.35a1.25 1.25 0 1 0 2.5 0a1.25 1.25 0 1 0 -2.5 0" fill="none" stroke="#512946" stroke-width="0.65"/>
<path d="M339.21 287.85a1.25 1.25 0 1 0 2.5 0a1.25 1.25 0 1 0 -2.5 0" fill="none" stroke="#522946" stroke-width="0.65"/>
<path d="M340.7 285.81a1.5 1.5 0 1 0 3 0a1.5 1.5 0 1 0 -3 0M340.86 285.04a1.5 1.5 0 1 0 3 0a1.5 1.5 0 1 0 -3 0" fill="none" stroke="#592844" stroke-width="0.5"/>
<path d="M341.18 285.91a1.5 1.5 0 1 0 3 0a1.5 1.5 0 1 0 -3 0" fill="none" stroke="#5a2744" stroke-width="0.5"/>
<path d="M341.32 285.53a1.5 1.5 0 1 0 3 0a1.5 1.5 0 1 0 -3 0" fill="none" stroke="#5b2744" stroke-width="0.5"/>
<path d="M341.48 287.04a1.5 1.5 0 1 0 3 0a1.5 1.5 0 1 0 -3 0" fill="none" stroke="#5c2743" stroke-width="0.5"/>
<path d="M341.89 286.27a1.5 1.5 0 1 0 3 0a1.5 1.5 0 1 0 -3 0" fill="none" stroke="#5d2743" stroke-width="0.5"/>
<path d="M342.17 287.08a1.5 1.5 0 1 0 3 0a1.5 1.5 0 1 0 -3 0" fill="none" stroke="#5e2743" stroke-width="0.5"/>
<path d="M343.15 285.82a1.5 1.5 0 1 0 3 0a1.5 1.5 0 1 0 -3 0M343.15 285.84a1.5 1.5 0 1 0 3 0a1.5 1.5 0 1 0 -3 0" fill="none" stroke="#622642" stroke-width="0.5"/>
<path d="M344.18 285.67a1.5 1.5 0 1 0 3 0a1.5 1.5 0 1 0 -3 0M344.21 285.81a1.5 1.5 0 1 0 3 0a1.5 1.5 0 1 0 -3 0" fill="none" stroke="#682742" stroke-width="0.5"/>
<path d="M344.6 285.32a1.5 1.5 0 1 0 3 0a1.5 1.5 0 1 0 -3 0" fill="none" stroke="#6b2843" stroke-width="0.5"/>
<path d="M344.9 284.13a1.5 1.5 0 1 0 3 0a1.5 1.5 0 1 0 -3 0M344.91 284.85a1.5 1.5 0 1 0 3 0a1.5 1.5 0 1 0 -3 0" fill="none" stroke="#6d2843" stroke-width="0.5"/>
<path d="M345.04 285.34a1.5 1.5 0 1 0 3 0a1.5 1.5 0 1 0 -3 0" fill="none" stroke="#6e2943" stroke-width="0.5"/>
<path d="M345.99 284.79a1.5 1.5 0 1 0 3 0a1.5 1.5 0 1 0 -3 0" fill="none" stroke="#742b44" stroke-width="0.5"/>
<path d="M346.6 280.91a1.5 1.5 0 1 0 3 0a1.5 1.5 0 1 0 -3 0" fill="none" stroke="#782c44" stroke-width="0.5"/>
<path d="M346.95 283.53a1.5 1.5 0 1 0 3 0a1.5 1.5 0 1 0 -3 0" fill="none" stroke="#7a2d45" stroke-width="0.5"/>
<path d="M347.08 284.22a1.5 1.5 0 1 0 3 0a1.5 1.5 0 1 0 -3 0" fill="none" stroke="#7b2d45" stroke-width="0.5"/>
<path d="M347.12 282.93a1.5 1.5 0 1 0 3 0a1.5 1.5 0 1 0 -3 0" fill="none" stroke="#7c2d45" stroke-width="0.5"/>
<path d="M347.8 278.17a1.5 1.5 0 1 0 3 0a1.5 1.5 0 1 0 -3 0M347.81 282.41a1.5 1.5 0 1 0 3 0a1.5 1.5 0 1 0 -3 0" fill="none" stroke="#802f46" stroke-width="0.5"/>
<path d="M348.79 283.37a1.5 1.5 0 1 0 3 0a1.5 1.5 0 1 0 -3 0" fill="none" stroke="#873147" stroke-width="0.5"/>
<path d="M349.17 283.73a1.5 1.5 0 1 0 3 0a1.5 1.5 0 1 0 -3 0" fill="none" stroke="#893247" stroke-width="0.5"/>
<path d="M350.57 278.03a1.75 1.75 0 1 0 3.5 0a1.75 1.75 0 1 0 -3.5 0" fill="none" stroke="#953549" stroke-width="0.5"/>
<path d="M351.09 280.52a1.75 1.75 0 1 0 3.5 0a1.75 1.75 0 1 0 -3.5 0" fill="none" stroke="#983649" stroke-width="0.5"/>
<path d="M351.25 267.5a1.75 1.75 0 1 0 3.5 0a1.75 1.75 0 1 0 -3.5 0M351.29 277.16a1.75 1.75 0 1 0 3.5 0a1.75 1.75 0 1 0 -3.5 0" fill="none" stroke="#993749" stroke-width="0.5"/>
<path d="M351.38 279.14a1.75 1.75 0 1 0 3.5 0a1.75 1.75 0 1 0 -3.5 0" fill="none" stroke="#9a3749" stroke-width="0.5"/>
<path d="M351.45 280.77a1.75 1.75 0 1 0 3.5 0a1.75 1.75 0 1 0 -3.5 0" fill="none" stroke="#9b3749" stroke-width="0.5"/>
<path d="M351.84 278.61a1.75 1.75 0 1 0 3.5 0a1.75 1.75 0 1 0 -3.5 0" fill="none" stroke="#9d384a" stroke-width="0.5"/>
<path d="M352.5 278.86a1.75 1.75 0 1 0 3.5 0a1.75 1.75 0 1 0 -3.5 0" fill="none" stroke="#a2394a" stroke-width="0.5"/>
<path d="M352.66 278.62a1.75 1.75 0 1 0 3.5 0a1.75 1.75 0 1 0 -3.5 0" fill="none" stroke="#a33a4b" stroke-width="0.5"/>
<path d="M353.09 279.8a1.75 1.75 0 1 0 3.5 0a1.75 1.75 0 1 0 -3.5 0" fill="none" stroke="#a63a4b" stroke-width="0.5"/>
<path d="M353.46 278.19a1.75 1.75 0 1 0 3.5 0a1.75 1.75 0 1 0 -3.5 0" fill="none" stroke="#a83b4b" stroke-width="0.5"/>
<path d="M353.76 278.85a1.75 1.75 0 1 0 3.5 0a1.75 1.75 0 1 0 -3.5 0" fill="none" stroke="#aa3c4c" stroke-width="0.5"/>
<path d="M354.05 280.25a1.75 1.75 0 1 0 3.5 0a1.75 1.75 0 1 0 -3.5 0" fill="none" stroke="#ac3d4c" stroke-width="0.5"/>
<path d="M355.61 277.61a1.75 1.75 0 1 0 3.5 0a1.75 1.75 0 1 0 -3.5 0" fill="none" stroke="#b7404d" stroke-width="0.5"/>
<path d="M356.28 278.41a1.75 1.75 0 1 0 3.5 0a1.75 1.75 0 1 0 -3.5 0" fill="none" stroke="#bb414e" stroke-width="0.5"/>
<path d="M357.34 279.31a1.75 1.75 0 1 0 3.5 0a1.75 1.75 0 1 0 -3.5 0" fill="none" stroke="#c2444f" stroke-width="0.5"/>
<path d="M357.62 276.52a1.75 1.75 0 1 0 3.5 0a1.75 1.75 0 1 0 -3.5 0" fill="none" stroke="#c4444f" stroke-width="0.5"/>
<path d="M357.85 278.14a1.75 1.75 0 1 0 3.5 0a1.75 1.75 0 1 0 -3.5 0" fill="none" stroke="#c64550" stroke-width="0.5"/>
<path d="M357.77 274.58a2 2 0 1 0 4 0a2 2 0 1 0 -4 0" fill="none" stroke="#c74550" stroke-width="0.5"/>
<path d="M357.94 274.11a2 2 0 1 0 4 0a2 2 0 1 0 -4 0" fill="none" stroke="#c84550" stroke-width="0.5"/>
<path d="M358 258a2 2 0 1 0 4 0a2 2 0 1 0 -4 0" fill="none" stroke="#c84650" stroke-width="0.5"/>
<path d="M358.13 277.47a2 2 0 1 0 4 0a2 2 0 1 0 -4 0" fill="none" stroke="#c94650" stroke-width="0.5"/>
<path d="M358.41 276.77a2 2 0 1 0 4 0a2 2 0 1 0 -4 0" fill="none" stroke="#cb4650" stroke-width="0.5"/>
<path d="M358.58 277.49a2 2 0 1 0 4 0a2 2 0 1 0 -4 0" fill="none" stroke="#cc4750" stroke-width="0.5"/>
<path d="M358.8 275.95a2 2 0 1 0 4 0a2 2 0 1 0 -4 0M358.89 274.61a2 2 0 1 0 4 0a2 2 0 1 0 -4 0" fill="none" stroke="#ce4751" stroke-width="0.5"/>
<path d="M359 275.18a2 2 0 1 0 4 0a2 2 0 1 0 -4 0" fill="none" stroke="#cf4851" stroke-width="0.5"/>
<path d="M359.73 273.09a2 2 0 1 0 4 0a2 2 0 1 0 -4 0" fill="none" stroke="#d44952" stroke-width="0.5"/>
<path d="M359.95 275.38a2 2 0 1 0 4 0a2 2 0 1 0 -4 0" fill="none" stroke="#d64a52" stroke-width="0.5"/>
<path d="M360.5 262a2 2 0 1 0 4 0a2 2 0 1 0 -4 0" fill="none" stroke="#d94b52" stroke-width="0.5"/>
<path d="M360.67 275.86a2 2 0 1 0 4 0a2 2 0 1 0 -4 0" fill="none" stroke="#da4b52" stroke-width="0.5"/>
<path d="M360.77 275.43a2 2 0 1 0 4 0a2 2 0 1 0 -4 0" fill="none" stroke="#db4b53" stroke-width="0.5"/>
<path d="M360.88 273.77a2 2 0 1 0 4 0a2 2 0 1 0 -4 0M360.88 273.72a2 2 0 1 0 4 0a2 2 0 1 0 -4 0" fill="none" stroke="#dc4c53" stroke-width="0.5"/>
<path d="M361.22 274.2a2 2 0 1 0 4 0a2 2 0 1 0 -4 0" fill="none" stroke="#de4c53" stroke-width="0.5"/>
<path d="M361.37 271.58a2 2 0 1 0 4 0a2 2 0 1 0 -4 0" fill="none" stroke="#df4d53" stroke-width="0.5"/>
<path d="M361.51 272.95a2 2 0 1 0 4 0a2 2 0 1 0 -4 0M361.55 275.96a2 2 0 1 0 4 0a2 2 0 1 0 -4 0" fill="none" stroke="#e04d53" stroke-width="0.5"/>
<path d="M361.87 272.68a2 2 0 1 0 4 0a2 2 0 1 0 -4 0M362.04 272.78a2 2 0 1 0 4 0a2 2 0 1 0 -4 0M362.1 271.33a2 2 0 1 0 4 0a2 2 0 1 0 -4 0M362.12 269.53a2 2 0 1 0 4 0a2 2 0 1 0 -4 0M362.53 272.76a2 2 0 1 0 4 0a2 2 0 1 0 -4 0M362.99 272.77a2 2 0 1 0 4 0a2 2 0 1 0 -4 0M363.11 274.58a2 2 0 1 0 4 0a2 2 0 1 0 -4 0M363.7 232.4a2 2 0 1 0 4 0a2 2 0 1 0 -4 0M363.73 269.49a2 2 0 1 0 4 0a2 2 0 1 0 -4 0M365.4 212a2 2 0 1 0 4 0a2 2 0 1 0 -4 0M365.4 226.5a2 2 0 1 0 4 0a2 2 0 1 0 -4 0M365.77 262.91a2 2 0 1 0 4 0a2 2 0 1 0 -4 0M365.79 266.61a2 2 0 1 0 4 0a2 2 0 1 0 -4 0M365.9 251a2 2 0 1 0 4 0a2 2 0 1 0 -4 0M366.03 271.4a2 2 0 1 0 4 0a2 2 0 1 0 -4 0" fill="none" stroke="#e24e54" stroke-width="0.5"/>
<path d="M366.67 260.12a2.25 2.25 0 1 0 4.5 0a2.25 2.25 0 1 0 -4.5 0M366.93 266.77a2.25 2.25 0 1 0 4.5 0a2.25 2.25 0 1 0 -4.5 0M367.11 263.66a2.25 2.25 0 1 0 4.5 0a2.25 2.25 0 1 0 -4.5 0M367.73 260.37a2.25 2.25 0 1 0 4.5 0a2.25 2.25 0 1 0 -4.5 0M367.78 262.53a2.25 2.25 0 1 0 4.5 0a2.25 2.25 0 1 0 -4.5 0M368.99 267.03a2.25 2.25 0 1 0 4.5 0a2.25 2.25 0 1 0 -4.5 0M369.23 263.09a2.25 2.25 0 1 0 4.5 0a2.25 2.25 0 1 0 -4.5 0M369.35 262.56a2.25 2.25 0 1 0 4.5 0a2.25 2.25 0 1 0 -4.5 0M369.46 263.22a2.25 2.25 0 1 0 4.5 0a2.25 2.25 0 1 0 -4.5 0M369.89 260.99a2.25 2.25 0 1 0 4.5 0a2.25 2.25 0 1 0 -4.5 0M370.55 262.68a2.25 2.25 0 1 0 4.5 0a2.25 2.25 0 1 0 -4.5 0M370.61 265.19a2.25 2.25 0 1 0 4.5 0a2.25 2.25 0 1 0 -4.5 0M371.12 262.12a2.25 2.25 0 1 0 4.5 0a2.25 2.25 0 1 0 -4.5 0M371.21 265.18a2.25 2.25 0 1 0 4.5 0a2.25 2.25 0 1 0 -4.5 0M371.25 252.1a2.25 2.25 0 1 0 4.5 0a2.25 2.25 0 1 0 -4.5 0M371.48 261.98a2.25 2.25 0 1 0 4.5 0a2.25 2.25 0 1 0 -4.5 0M371.58 260.84a2.25 2.25 0 1 0 4.5 0a2.25 2.25 0 1 0 -4.5 0M372.17 254.69a2.25 2.25 0 1 0 4.5 0a2.25 2.25 0 1 0 -4.5 0M372.32 261.81a2.25 2.25 0 1 0 4.5 0a2.25 2.25 0 1 0 -4.5 0M372.42 256.22a2.25 2.25 0 1 0 4.5 0a2.25 2.25 0 1 0 -4.5 0M372.56 262.46a2.25 2.25 0 1 0 4.5 0a2.25 2.25 0 1 0 -4.5 0M373.35 216.8a2.25 2.25 0 1 0 4.5 0a2.25 2.25 0 1 0 -4.5 0M373.53 259.52a2.25 2.25 0 1 0 4.5 0a2.25 2.25 0 1 0 -4.5 0M373.73 252.96a2.25 2.25 0 1 0 4.5 0a2.25 2.25 0 1 0 -4.5 0M373.87 257.71a2.25 2.25 0 1 0 4.5 0a2.25 2.25 0 1 0 -4.5 0M374.04 254.78a2.25 2.25 0 1 0 4.5 0a2.25 2.25 0 1 0 -4.5 0M374.28 261a2.25 2.25 0 1 0 4.5 0a2.25 2.25 0 1 0 -4.5 0M374.8 252.45a2.25 2.25 0 1 0 4.5 0a2.25 2.25 0 1 0 -4.5 0M374.84 253.73a2.25 2.25 0 1 0 4.5 0a2.25 2.25 0 1 0 -4.5 0" fill="none" stroke="#e24e54" stroke-width="0.5"/>
<path d="M374.93 258.93a2.5 2.5 0 1 0 5 0a2.5 2.5 0 1 0 -5 0M376.55 249.1a2.5 2.5 0 1 0 5 0a2.5 2.5 0 1 0 -5 0M376.86 255.57a2.5 2.5 0 1 0 5 0a2.5 2.5 0 1 0 -5 0M377.14 251.43a2.5 2.5 0 1 0 5 0a2.5 2.5 0 1 0 -5 0M377.19 253.97a2.5 2.5 0 1 0 5 0a2.5 2.5 0 1 0 -5 0M377.26 251.04a2.5 2.5 0 1 0 5 0a2.5 2.5 0 1 0 -5 0M377.3 242.7a2.5 2.5 0 1 0 5 0a2.5 2.5 0 1 0 -5 0M377.82 255.03a2.5 2.5 0 1 0 5 0a2.5 2.5 0 1 0 -5 0M377.83 254.92a2.5 2.5 0 1 0 5 0a2.5 2.5 0 1 0 -5 0M378.12 249.34a2.5 2.5 0 1 0 5 0a2.5 2.5 0 1 0 -5 0M378.5 187.4a2.5 2.5 0 1 0 5 0a2.5 2.5 0 1 0 -5 0M379.02 247.69a2.5 2.5 0 1 0 5 0a2.5 2.5 0 1 0 -5 0M380.16 249.58a2.5 2.5 0 1 0 5 0a2.5 2.5 0 1 0 -5 0M380.17 239.37a2.5 2.5 0 1 0 5 0a2.5 2.5 0 1 0 -5 0M380.5 240.5a2.5 2.5 0 1 0 5 0a2.5 2.5 0 1 0 -5 0M381.04 243.67a2.5 2.5 0 1 0 5 0a2.5 2.5 0 1 0 -5 0M381.11 239.9a2.5 2.5 0 1 0 5 0a2.5 2.5 0 1 0 -5 0M381.7 237.6a2.5 2.5 0 1 0 5 0a2.5 2.5 0 1 0 -5 0M381.8 230.2a2.5 2.5 0 1 0 5 0a2.5 2.5 0 1 0 -5 0M382.76 240.14a2.5 2.5 0 1 0 5 0a2.5 2.5 0 1 0 -5 0M384.5 237.1a2.5 2.5 0 1 0 5 0a2.5 2.5 0 1 0 -5 0M385.5 234.2a2.5 2.5 0 1 0 5 0a2.5 2.5 0 1 0 -5 0M387.5 236a2.5 2.5 0 1 0 5 0a2.5 2.5 0 1 0 -5 0M390.1 243.2a2.5 2.5 0 1 0 5 0a2.5 2.5 0 1 0 -5 0M394.5 230.4a2.5 2.5 0 1 0 5 0a2.5 2.5 0 1 0 -5 0M395.5 228a2.5 2.5 0 1 0 5 0a2.5 2.5 0 1 0 -5 0M395.7 233.5a2.5 2.5 0 1 0 5 0a2.5 2.5 0 1 0 -5 0M397 187.2a2.5 2.5 0 1 0 5 0a2.5 2.5 0 1 0 -5 0M398.7 212.5a2.5 2.5 0 1 0 5 0a2.5 2.5 0 1 0 -5 0M400.7 212.5a2.5 2.5 0 1 0 5 0a2.5 2.5 0 1 0 -5 0M407 187.2a2.5 2.5 0 1 0 5 0a2.5 2.5 0 1 0 -5 0" fill="none" stroke="#e24e54" stroke-width="0.5"/>
<line x1="410.6" y1="184" x2="417.1" y2="171" stroke="#333" stroke-width="0.6"/>
<line x1="381" y1="196.1" x2="400.7" y2="211.5" stroke="#333" stroke-width="0.6"/>
<line x1="413.9" y1="215.8" x2="400" y2="226.2" stroke="#333" stroke-width="0.6"/>
<line x1="363.5" y1="222.4" x2="366.8" y2="225.7" stroke="#333" stroke-width="0.6"/>
<line x1="406.9" y1="233.4" x2="401" y2="233.4" stroke="#333" stroke-width="0.6"/>
<line x1="362.4" y1="240.6" x2="378.8" y2="243.2" stroke="#333" stroke-width="0.6"/>
<line x1="394.8" y1="244.3" x2="402.7" y2="252.8" stroke="#333" stroke-width="0.6"/>
<line x1="377" y1="260.9" x2="385" y2="270.1" stroke="#333" stroke-width="0.6"/>
<text x="367" y="169.65" font-size="8.15" fill="#111">Neutrophil degranulation</text>
<text x="379.9" y="195.75" font-size="8.15" text-anchor="end" fill="#111">IL-1 Signaling</text>
<text x="415.6" y="206.05" font-size="8.15" fill="#111">ROS</text>
<text x="415.6" y="215.85" font-size="8.15" fill="#111">Detoxification</text>
<text x="364.6" y="221.65" font-size="8.15" text-anchor="end" fill="#111">Adaptive immunity</text>
<text x="407.2" y="232.75" font-size="8.15" fill="#111">Apoptotic signaling/</text>
<text x="407.2" y="242.75" font-size="8.15" fill="#111">Caspase activation</text>
<text x="361.3" y="242.95" font-size="8.15" text-anchor="end" fill="#111">MHC-I presentation</text>
<text x="403.8" y="258.45" font-size="8.15" fill="#111">IL-12 Signaling</text>
<text x="385.6" y="277.75" font-size="8.15" fill="#111">IFN gamma</text>
<text x="385.6" y="287.65" font-size="8.15" fill="#111">signaling</text>
<line x1="532.8" y1="235.9" x2="532.8" y2="241.2" stroke="#333" stroke-width="0.75"/>
<line x1="533.47" y1="235.9" x2="533.47" y2="241.2" stroke="#aaa" stroke-width="0.54"/>
<line x1="534.56" y1="235.9" x2="534.56" y2="241.2" stroke="#aaa" stroke-width="0.7"/>
<line x1="535.71" y1="235.9" x2="535.71" y2="241.2" stroke="#111" stroke-width="0.87"/>
<line x1="536.68" y1="235.9" x2="536.68" y2="241.2" stroke="#333" stroke-width="0.61"/>
<line x1="537.63" y1="235.9" x2="537.63" y2="241.2" stroke="#555" stroke-width="0.82"/>
<line x1="538.4" y1="235.9" x2="538.4" y2="241.2" stroke="#111" stroke-width="0.7"/>
<line x1="539.46" y1="235.9" x2="539.46" y2="241.2" stroke="#555" stroke-width="0.81"/>
<line x1="541.62" y1="235.9" x2="541.62" y2="241.2" stroke="#111" stroke-width="0.86"/>
<line x1="542.71" y1="235.9" x2="542.71" y2="241.2" stroke="#333" stroke-width="0.74"/>
<line x1="543.88" y1="235.9" x2="543.88" y2="241.2" stroke="#333" stroke-width="0.5"/>
<line x1="544.68" y1="235.9" x2="544.68" y2="241.2" stroke="#aaa" stroke-width="0.96"/>
<line x1="546.04" y1="235.9" x2="546.04" y2="241.2" stroke="#111" stroke-width="0.7"/>
<line x1="546.59" y1="235.9" x2="546.59" y2="241.2" stroke="#888" stroke-width="0.57"/>
<line x1="547.46" y1="235.9" x2="547.46" y2="241.2" stroke="#333" stroke-width="0.78"/>
<line x1="548.03" y1="235.9" x2="548.03" y2="241.2" stroke="#111" stroke-width="0.72"/>
<line x1="548.57" y1="235.9" x2="548.57" y2="241.2" stroke="#111" stroke-width="0.67"/>
<line x1="549.72" y1="235.9" x2="549.72" y2="241.2" stroke="#333" stroke-width="0.73"/>
<line x1="550.69" y1="235.9" x2="550.69" y2="241.2" stroke="#111" stroke-width="0.9"/>
<line x1="551.47" y1="235.9" x2="551.47" y2="241.2" stroke="#555" stroke-width="0.75"/>
<line x1="552.45" y1="235.9" x2="552.45" y2="241.2" stroke="#111" stroke-width="0.52"/>
<line x1="553.06" y1="235.9" x2="553.06" y2="241.2" stroke="#111" stroke-width="0.52"/>
<line x1="553.71" y1="235.9" x2="553.71" y2="241.2" stroke="#888" stroke-width="0.67"/>
<line x1="554.47" y1="235.9" x2="554.47" y2="241.2" stroke="#555" stroke-width="0.89"/>
<line x1="555.63" y1="235.9" x2="555.63" y2="241.2" stroke="#555" stroke-width="0.67"/>
<line x1="556.7" y1="235.9" x2="556.7" y2="241.2" stroke="#aaa" stroke-width="0.75"/>
<line x1="558.17" y1="235.9" x2="558.17" y2="241.2" stroke="#111" stroke-width="0.75"/>
<line x1="558.83" y1="235.9" x2="558.83" y2="241.2" stroke="#555" stroke-width="0.74"/>
<line x1="560.43" y1="235.9" x2="560.43" y2="241.2" stroke="#555" stroke-width="0.75"/>
<line x1="561.75" y1="235.9" x2="561.75" y2="241.2" stroke="#555" stroke-width="0.78"/>
<line x1="562.94" y1="235.9" x2="562.94" y2="241.2" stroke="#111" stroke-width="0.78"/>
<line x1="564.35" y1="235.9" x2="564.35" y2="241.2" stroke="#aaa" stroke-width="0.87"/>
<line x1="566.09" y1="235.9" x2="566.09" y2="241.2" stroke="#333" stroke-width="0.63"/>
<line x1="566.75" y1="235.9" x2="566.75" y2="241.2" stroke="#111" stroke-width="0.93"/>
<line x1="567.55" y1="235.9" x2="567.55" y2="241.2" stroke="#111" stroke-width="0.53"/>
<line x1="568.38" y1="235.9" x2="568.38" y2="241.2" stroke="#333" stroke-width="0.77"/>
<line x1="569.52" y1="235.9" x2="569.52" y2="241.2" stroke="#333" stroke-width="0.96"/>
<line x1="570.36" y1="235.9" x2="570.36" y2="241.2" stroke="#111" stroke-width="0.6"/>
<line x1="571.35" y1="235.9" x2="571.35" y2="241.2" stroke="#aaa" stroke-width="0.68"/>
<line x1="572.16" y1="235.9" x2="572.16" y2="241.2" stroke="#111" stroke-width="0.61"/>
<line x1="573.26" y1="235.9" x2="573.26" y2="241.2" stroke="#aaa" stroke-width="0.95"/>
<line x1="574.15" y1="235.9" x2="574.15" y2="241.2" stroke="#aaa" stroke-width="0.55"/>
<line x1="575.78" y1="235.9" x2="575.78" y2="241.2" stroke="#aaa" stroke-width="0.66"/>
<line x1="577.29" y1="235.9" x2="577.29" y2="241.2" stroke="#111" stroke-width="0.88"/>
<line x1="579.06" y1="235.9" x2="579.06" y2="241.2" stroke="#333" stroke-width="0.97"/>
<line x1="581.49" y1="235.9" x2="581.49" y2="241.2" stroke="#333" stroke-width="0.53"/>
<line x1="582.55" y1="235.9" x2="582.55" y2="241.2" stroke="#111" stroke-width="0.77"/>
<line x1="583.83" y1="235.9" x2="583.83" y2="241.2" stroke="#111" stroke-width="0.96"/>
<line x1="584.7" y1="235.9" x2="584.7" y2="241.2" stroke="#aaa" stroke-width="0.56"/>
<line x1="586.66" y1="235.9" x2="586.66" y2="241.2" stroke="#aaa" stroke-width="0.84"/>
<line x1="587.7" y1="235.9" x2="587.7" y2="241.2" stroke="#111" stroke-width="0.95"/>
<line x1="589.63" y1="235.9" x2="589.63" y2="241.2" stroke="#555" stroke-width="0.59"/>
<line x1="592.49" y1="235.9" x2="592.49" y2="241.2" stroke="#333" stroke-width="0.71"/>
<line x1="595.41" y1="235.9" x2="595.41" y2="241.2" stroke="#555" stroke-width="0.53"/>
<line x1="597.94" y1="235.9" x2="597.94" y2="241.2" stroke="#888" stroke-width="0.78"/>
<line x1="599.69" y1="235.9" x2="599.69" y2="241.2" stroke="#333" stroke-width="0.94"/>
<line x1="603.74" y1="235.9" x2="603.74" y2="241.2" stroke="#aaa" stroke-width="0.57"/>
<line x1="605.47" y1="235.9" x2="605.47" y2="241.2" stroke="#333" stroke-width="0.91"/>
<line x1="612.62" y1="235.9" x2="612.62" y2="241.2" stroke="#111" stroke-width="0.54"/>
<line x1="613.71" y1="235.9" x2="613.71" y2="241.2" stroke="#aaa" stroke-width="0.62"/>
<line x1="615.99" y1="235.9" x2="615.99" y2="241.2" stroke="#111" stroke-width="0.53"/>
<line x1="620.51" y1="235.9" x2="620.51" y2="241.2" stroke="#888" stroke-width="0.6"/>
<line x1="623.06" y1="235.9" x2="623.06" y2="241.2" stroke="#888" stroke-width="0.79"/>
<line x1="629.91" y1="235.9" x2="629.91" y2="241.2" stroke="#aaa" stroke-width="0.63"/>
<line x1="631.25" y1="235.9" x2="631.25" y2="241.2" stroke="#111" stroke-width="0.79"/>
<line x1="632.38" y1="235.9" x2="632.38" y2="241.2" stroke="#aaa" stroke-width="0.79"/>
<line x1="638.45" y1="235.9" x2="638.45" y2="241.2" stroke="#888" stroke-width="0.79"/>
<line x1="641.15" y1="235.9" x2="641.15" y2="241.2" stroke="#aaa" stroke-width="0.54"/>
<line x1="643.67" y1="235.9" x2="643.67" y2="241.2" stroke="#111" stroke-width="0.66"/>
<line x1="645.48" y1="235.9" x2="645.48" y2="241.2" stroke="#333" stroke-width="0.63"/>
<line x1="650.68" y1="235.9" x2="650.68" y2="241.2" stroke="#333" stroke-width="0.76"/>
<path d="M532.2 241L532.47 238L532.73 235L533 232L533.33 229.67L533.67 227.33L534 225L534.57 223.57L535.13 222.13L535.7 220.7L536.13 219.13L536.57 217.57L537 216L537.5 214L538 212L538.5 210L538.87 209.07L539.23 208.13L539.6 207.2L540.23 205.66L540.87 204.2L541.5 203.3L542 202.96L542.5 202.89L543 202.5L543.47 202.47L543.93 201.8L544.4 201.4L544.93 200.1L545.47 198.9L546 198L546.43 197.76L546.87 197.56L547.3 196.6L547.87 196.48L548.43 195.83L549 196L549.7 195.28L550.4 195.61L551.1 194.7L552.07 194.59L553.03 193.85L554 194.2L555.3 193.67L556.6 192.85L557.9 192.7L558.6 192.78L559.3 193.09L560 193.5L560.67 193.19L561.33 193.47L562 193.2L562.67 193.45L563.33 193.56L564 194L564.83 194.02L565.67 194.05L566.5 193.7L567.67 193.51L568.83 194.22L570 194.6L571.4 194.64L572.8 195.21L574.2 195.6L574.8 195.01L575.4 195.21L576 195L576.7 194.69L577.4 194.31L578.1 194.1L579.07 194.25L580.03 194.91L581 195.5L582.67 195.74L584.33 196.23L586 197.2L587.33 197.77L588.67 197.87L590 198.7L591.8 199.65L593.6 200.11L595.4 200.5L596.93 200.87L598.47 202.51L600 203.4L601.67 204.37L603.33 205.33L605 206.3L606.67 207.53L608.33 208.77L610 210L611.57 211.33L613.13 212.67L614.7 214L616.3 215.43L617.9 216.87L619.5 218.3L621.1 219.77L622.7 221.23L624.3 222.7L625.87 224.07L627.43 225.43L629 226.8L630.67 228.13L632.33 229.47L634 230.8L635.67 231.87L637.33 232.93L639 234L640.53 234.87L642.07 235.73L643.6 236.6L644.9 237.27L646.2 237.93L647.5 238.6L648.77 239.33L650.03 240.07L651.3 240.8" fill="none" stroke="#1c9628" stroke-width="1.1"/>
<rect x="531.6" y="189.4" width="126.89999999999998" height="51.79999999999998" fill="none" stroke="#555" stroke-width="1"/>
<line x1="529.4" y1="193.8" x2="531.6" y2="193.8" stroke="#333" stroke-width="0.8"/>
<text x="529.3" y="195.9" font-size="8.4" text-anchor="end" fill="#222">0.5</text>
<line x1="529.4" y1="213.1" x2="531.6" y2="213.1" stroke="#333" stroke-width="0.8"/>
<text x="529.3" y="215.2" font-size="8.4" text-anchor="end" fill="#222">0.3</text>
<line x1="529.4" y1="232.1" x2="531.6" y2="232.1" stroke="#333" stroke-width="0.8"/>
<text x="529.3" y="234.2" font-size="8.4" text-anchor="end" fill="#222">0.1</text>
<line x1="529.4" y1="203.4" x2="531.6" y2="203.4" stroke="#333" stroke-width="0.8"/>
<line x1="529.4" y1="222.6" x2="531.6" y2="222.6" stroke="#333" stroke-width="0.8"/>
<text x="568.2" y="234.5" font-size="8" text-anchor="middle" font-weight="bold" fill="#222">Hits</text>
<text x="644.4" y="202.8" font-size="8.1" text-anchor="end" font-weight="bold" fill="#1c9628">Enrichment</text>
<text x="644.4" y="212.7" font-size="8.1" text-anchor="end" font-weight="bold" fill="#1c9628">Profile</text>
<rect x="531.6" y="255.5" width="3.1" height="22.9" fill="#dc1414"/>
<rect x="534.1" y="255.5" width="12.9" height="22.9" fill="#e84444"/>
<rect x="546.4" y="255.5" width="26.7" height="22.9" fill="#fb5858"/>
<rect x="572.5" y="255.5" width="17.9" height="22.9" fill="#fb6a7a"/>
<rect x="589.8" y="255.5" width="18.5" height="22.9" fill="#fd8282"/>
<rect x="607.7" y="255.5" width="17.3" height="22.9" fill="#ffbae0"/>
<rect x="624.4" y="255.5" width="6.1" height="22.9" fill="#dadaf8"/>
<rect x="629.9" y="255.5" width="6" height="22.9" fill="#cdc6f8"/>
<rect x="635.3" y="255.5" width="5.6" height="22.9" fill="#8a8af6"/>
<rect x="640.3" y="255.5" width="8.7" height="22.9" fill="#6656ea"/>
<rect x="648.4" y="255.5" width="4" height="22.9" fill="#2000c8"/>
<path d="M531.6 268.1L531.6 258.1L534.1 260.2L540 261.7L548 262.7L558 263.5L572.5 264.5L589 265.5L605 266.3L624 267.4L630 268L630 268.1Z" fill="#9e9e9e" stroke="#555" stroke-width="0.5"/>
<path d="M630 268.1L630 268.1L636 268.9L641 269.6L645 270.6L648 272L650.3 273.8L651.4 275.9L651.8 278.2L651.8 268.1Z" fill="#9e9e9e" stroke="#555" stroke-width="0.5"/>
<line x1="531.6" y1="268.1" x2="651.8" y2="268.1" stroke="#333" stroke-width="0.8"/>
<rect x="531.6" y="255.5" width="126.89999999999998" height="22.9" fill="none" stroke="#555" stroke-width="1"/>
<line x1="529.4" y1="258.1" x2="531.6" y2="258.1" stroke="#333" stroke-width="0.8"/>
<text x="529.3" y="260.3" font-size="8.4" text-anchor="end" fill="#222">0.4</text>
<line x1="529.4" y1="268.1" x2="531.6" y2="268.1" stroke="#333" stroke-width="0.8"/>
<text x="529.3" y="270.3" font-size="8.4" text-anchor="end" fill="#222">0</text>
<line x1="529.4" y1="278.3" x2="531.6" y2="278.3" stroke="#333" stroke-width="0.8"/>
<text x="529.3" y="280.5" font-size="8.4" text-anchor="end" fill="#222">-0.4</text>
<line x1="529.4" y1="263.1" x2="531.6" y2="263.1" stroke="#333" stroke-width="0.8"/>
<line x1="529.4" y1="273.2" x2="531.6" y2="273.2" stroke="#333" stroke-width="0.8"/>
<line x1="552.5" y1="278.4" x2="552.5" y2="279.9" stroke="#555" stroke-width="0.6"/>
<line x1="572.5" y1="278.4" x2="572.5" y2="279.9" stroke="#555" stroke-width="0.6"/>
<line x1="593.4" y1="278.4" x2="593.4" y2="279.9" stroke="#555" stroke-width="0.6"/>
<line x1="613.6" y1="278.4" x2="613.6" y2="279.9" stroke="#555" stroke-width="0.6"/>
<line x1="634.4" y1="278.4" x2="634.4" y2="279.9" stroke="#555" stroke-width="0.6"/>
<line x1="655.4" y1="278.4" x2="655.4" y2="279.9" stroke="#555" stroke-width="0.6"/>
<text x="531.6" y="252.1" font-size="8.1" font-weight="bold" fill="#d42020">Pos Correlation</text>
<text x="657.1" y="287.5" font-size="8.1" text-anchor="end" font-weight="bold" fill="#2a1fd0">Neg Correlation</text>
<text x="501.4" y="213.3" font-size="8.6" text-anchor="middle" fill="#222" transform="rotate(-90 501.4 213.3)">Enrichment</text>
<text x="510.2" y="213.3" font-size="8.6" text-anchor="middle" fill="#222" transform="rotate(-90 510.2 213.3)">score (ES)</text>
<text x="501.4" y="267.2" font-size="8.6" text-anchor="middle" fill="#222" transform="rotate(-90 501.4 267.2)">Ranked list</text>
<text x="510.2" y="267.2" font-size="8.6" text-anchor="middle" fill="#222" transform="rotate(-90 510.2 267.2)">Metric</text>
<text x="594.5" y="184.4" font-size="12.2" text-anchor="middle" fill="#222">Neutrophil Degranulation</text>
<text x="489.2" y="166.9" font-size="12" font-weight="bold">e</text>
<line x1="150.2" y1="417.6" x2="150.2" y2="422.9" stroke="#6a6a6a" stroke-width="0.55"/>
<line x1="150.9" y1="417.6" x2="150.9" y2="422.9" stroke="#6a6a6a" stroke-width="0.55"/>
<line x1="151.6" y1="417.6" x2="151.6" y2="422.9" stroke="#6a6a6a" stroke-width="0.55"/>
<line x1="152.4" y1="417.6" x2="152.4" y2="422.9" stroke="#6a6a6a" stroke-width="0.55"/>
<line x1="161.5" y1="417.6" x2="161.5" y2="422.9" stroke="#6a6a6a" stroke-width="0.55"/>
<line x1="168.5" y1="417.6" x2="168.5" y2="422.9" stroke="#6a6a6a" stroke-width="0.55"/>
<line x1="170.8" y1="417.6" x2="170.8" y2="422.9" stroke="#6a6a6a" stroke-width="0.55"/>
<line x1="172.1" y1="417.6" x2="172.1" y2="422.9" stroke="#6a6a6a" stroke-width="0.55"/>
<line x1="175.3" y1="417.6" x2="175.3" y2="422.9" stroke="#6a6a6a" stroke-width="0.55"/>
<line x1="176.2" y1="417.6" x2="176.2" y2="422.9" stroke="#6a6a6a" stroke-width="0.55"/>
<line x1="177.1" y1="417.6" x2="177.1" y2="422.9" stroke="#6a6a6a" stroke-width="0.55"/>
<line x1="198.4" y1="417.6" x2="198.4" y2="422.9" stroke="#6a6a6a" stroke-width="0.55"/>
<line x1="220" y1="417.6" x2="220" y2="422.9" stroke="#6a6a6a" stroke-width="0.55"/>
<line x1="228.6" y1="417.6" x2="228.6" y2="422.9" stroke="#6a6a6a" stroke-width="0.55"/>
<line x1="229.6" y1="417.6" x2="229.6" y2="422.9" stroke="#6a6a6a" stroke-width="0.55"/>
<line x1="239.2" y1="417.6" x2="239.2" y2="422.9" stroke="#6a6a6a" stroke-width="0.55"/>
<line x1="244.4" y1="417.6" x2="244.4" y2="422.9" stroke="#6a6a6a" stroke-width="0.55"/>
<line x1="247.5" y1="417.6" x2="247.5" y2="422.9" stroke="#6a6a6a" stroke-width="0.55"/>
<line x1="248.4" y1="417.6" x2="248.4" y2="422.9" stroke="#6a6a6a" stroke-width="0.55"/>
<line x1="251.5" y1="417.6" x2="251.5" y2="422.9" stroke="#6a6a6a" stroke-width="0.55"/>
<line x1="254.8" y1="417.6" x2="254.8" y2="422.9" stroke="#6a6a6a" stroke-width="0.55"/>
<line x1="259.4" y1="417.6" x2="259.4" y2="422.9" stroke="#6a6a6a" stroke-width="0.55"/>
<path d="M149 423L150 416.8L150.8 409.5L151.5 402.6L152.3 396.2L161.5 402.2L162.6 392.2L167.9 395.8L168.9 387.6L169.8 388.7L171.5 384.2L172.4 385.2L173.5 381.2L174.4 382.2L175.5 379L177.2 375.4L198.4 389.6L199.1 387.6L219.3 401.1L220 400.6L227.6 404.8L230.9 406.2L247.5 416.1L251.5 416.8L254.8 418.3L258.6 420L259.7 417.4L268.7 423" fill="none" stroke="#1c9628" stroke-width="1.1"/>
<rect x="148.4" y="371.3" width="127.1" height="51.599999999999966" fill="none" stroke="#555" stroke-width="1"/>
<line x1="146.2" y1="382.3" x2="148.4" y2="382.3" stroke="#333" stroke-width="0.8"/>
<text x="146.1" y="384.4" font-size="8.4" text-anchor="end" fill="#222">0.5</text>
<line x1="146.2" y1="398.5" x2="148.4" y2="398.5" stroke="#333" stroke-width="0.8"/>
<text x="146.1" y="400.6" font-size="8.4" text-anchor="end" fill="#222">0.3</text>
<line x1="146.2" y1="414.8" x2="148.4" y2="414.8" stroke="#333" stroke-width="0.8"/>
<text x="146.1" y="416.9" font-size="8.4" text-anchor="end" fill="#222">0.1</text>
<line x1="146.2" y1="376.2" x2="148.4" y2="376.2" stroke="#333" stroke-width="0.8"/>
<line x1="146.2" y1="390.4" x2="148.4" y2="390.4" stroke="#333" stroke-width="0.8"/>
<line x1="146.2" y1="406.6" x2="148.4" y2="406.6" stroke="#333" stroke-width="0.8"/>
<text x="185.4" y="416.4" font-size="8" text-anchor="middle" font-weight="bold" fill="#222">Hits</text>
<text x="261.5" y="395.1" font-size="8.1" text-anchor="end" font-weight="bold" fill="#1c9628">Enrichment</text>
<text x="261.5" y="405" font-size="8.1" text-anchor="end" font-weight="bold" fill="#1c9628">Profile</text>
<rect x="148.2" y="436.7" width="3" height="24.5" fill="#dc1414"/>
<rect x="150.6" y="436.7" width="13" height="24.5" fill="#e84444"/>
<rect x="163" y="436.7" width="26.6" height="24.5" fill="#fb5858"/>
<rect x="189" y="436.7" width="18.7" height="24.5" fill="#fb6a7a"/>
<rect x="207.1" y="436.7" width="18.8" height="24.5" fill="#fd8282"/>
<rect x="225.3" y="436.7" width="17.1" height="24.5" fill="#ffbae0"/>
<rect x="241.8" y="436.7" width="5.3" height="24.5" fill="#dadaf8"/>
<rect x="246.5" y="436.7" width="6.1" height="24.5" fill="#cdc6f8"/>
<rect x="252" y="436.7" width="6.1" height="24.5" fill="#8a8af6"/>
<rect x="257.5" y="436.7" width="8.9" height="24.5" fill="#6656ea"/>
<rect x="265.8" y="436.7" width="4.2" height="24.5" fill="#2000c8"/>
<path d="M148.4 449.8L148.2 440.2L150.6 442.2L156 443.6L164 444.7L175 445.5L189 446.4L207 447.4L225 448.3L241 449.3L247 449.9L247 449.8Z" fill="#9e9e9e" stroke="#555" stroke-width="0.5"/>
<path d="M247 449.8L247 450L253 450.8L258 451.6L262 452.8L265 454.2L267.6 456.2L268.9 458.4L269.4 460.8L269.4 449.8Z" fill="#9e9e9e" stroke="#555" stroke-width="0.5"/>
<line x1="148.4" y1="449.8" x2="269.4" y2="449.8" stroke="#333" stroke-width="0.8"/>
<rect x="148.4" y="436.7" width="127.1" height="24.5" fill="none" stroke="#555" stroke-width="1"/>
<line x1="146.2" y1="440" x2="148.4" y2="440" stroke="#333" stroke-width="0.8"/>
<text x="146.1" y="442.2" font-size="8.4" text-anchor="end" fill="#222">0.4</text>
<line x1="146.2" y1="449.8" x2="148.4" y2="449.8" stroke="#333" stroke-width="0.8"/>
<text x="146.1" y="452" font-size="8.4" text-anchor="end" fill="#222">0</text>
<line x1="146.2" y1="459.6" x2="148.4" y2="459.6" stroke="#333" stroke-width="0.8"/>
<text x="146.1" y="461.8" font-size="8.4" text-anchor="end" fill="#222">-0.4</text>
<line x1="146.2" y1="444.9" x2="148.4" y2="444.9" stroke="#333" stroke-width="0.8"/>
<line x1="146.2" y1="454.7" x2="148.4" y2="454.7" stroke="#333" stroke-width="0.8"/>
<line x1="168.5" y1="461.2" x2="168.5" y2="462.7" stroke="#555" stroke-width="0.6"/>
<line x1="189" y1="461.2" x2="189" y2="462.7" stroke="#555" stroke-width="0.6"/>
<line x1="209" y1="461.2" x2="209" y2="462.7" stroke="#555" stroke-width="0.6"/>
<line x1="229.6" y1="461.2" x2="229.6" y2="462.7" stroke="#555" stroke-width="0.6"/>
<line x1="250.5" y1="461.2" x2="250.5" y2="462.7" stroke="#555" stroke-width="0.6"/>
<line x1="271.4" y1="461.2" x2="271.4" y2="462.7" stroke="#555" stroke-width="0.6"/>
<text x="148.8" y="434.9" font-size="8.1" font-weight="bold" fill="#d42020">Pos Correlation</text>
<text x="274.1" y="469.4" font-size="8.1" text-anchor="end" font-weight="bold" fill="#2a1fd0">Neg Correlation</text>
<text x="117.8" y="395" font-size="8.6" text-anchor="middle" fill="#222" transform="rotate(-90 117.8 395)">Enrichment</text>
<text x="126.6" y="395" font-size="8.6" text-anchor="middle" fill="#222" transform="rotate(-90 126.6 395)">score (ES)</text>
<text x="117.8" y="449.5" font-size="8.6" text-anchor="middle" fill="#222" transform="rotate(-90 117.8 449.5)">Ranked list</text>
<text x="126.6" y="449.5" font-size="8.6" text-anchor="middle" fill="#222" transform="rotate(-90 126.6 449.5)">Metric</text>
<text x="211.7" y="364.3" font-size="12.2" text-anchor="middle" fill="#222">Interleukin-1 Signaling</text>
<text x="114.6" y="349" font-size="12" font-weight="bold">g</text>
<line x1="444.6" y1="417.6" x2="444.6" y2="422.9" stroke="#222" stroke-width="0.55"/>
<line x1="450.5" y1="417.6" x2="450.5" y2="422.9" stroke="#222" stroke-width="0.55"/>
<line x1="453.3" y1="417.6" x2="453.3" y2="422.9" stroke="#222" stroke-width="0.55"/>
<line x1="489.3" y1="417.6" x2="489.3" y2="422.9" stroke="#222" stroke-width="0.55"/>
<line x1="501.3" y1="417.6" x2="501.3" y2="422.9" stroke="#222" stroke-width="0.55"/>
<line x1="459.6" y1="417.6" x2="459.6" y2="422.9" stroke="#8a8a8a" stroke-width="0.55"/>
<line x1="460.3" y1="417.6" x2="460.3" y2="422.9" stroke="#8a8a8a" stroke-width="0.55"/>
<line x1="461" y1="417.6" x2="461" y2="422.9" stroke="#8a8a8a" stroke-width="0.55"/>
<line x1="461.7" y1="417.6" x2="461.7" y2="422.9" stroke="#8a8a8a" stroke-width="0.55"/>
<line x1="540.4" y1="417.6" x2="540.4" y2="422.9" stroke="#8a8a8a" stroke-width="0.55"/>
<line x1="546.2" y1="417.6" x2="546.2" y2="422.9" stroke="#8a8a8a" stroke-width="0.55"/>
<line x1="547.2" y1="417.6" x2="547.2" y2="422.9" stroke="#8a8a8a" stroke-width="0.55"/>
<line x1="553.9" y1="417.6" x2="553.9" y2="422.9" stroke="#8a8a8a" stroke-width="0.55"/>
<line x1="556.4" y1="417.6" x2="556.4" y2="422.9" stroke="#8a8a8a" stroke-width="0.55"/>
<path d="M444.6 423L444.6 409.9L450.3 413.7L450.7 405.1L452.2 406.2L453.1 407L453.4 399.2L459.5 402.6L459.9 396L460.3 389L460.7 385L461.1 382.7L461.7 377.2L488.9 393.7L489.5 390L501 397L501.4 394.4L545.3 420.1L547.2 417.3L552.7 420.1L553.5 418.5L554.5 419.3L556.4 417.3L564.3 422.6" fill="none" stroke="#1c9628" stroke-width="1.1"/>
<rect x="444.4" y="375.3" width="126.60000000000002" height="47.599999999999966" fill="none" stroke="#555" stroke-width="1"/>
<line x1="442.2" y1="386.4" x2="444.4" y2="386.4" stroke="#333" stroke-width="0.8"/>
<text x="442.1" y="388.5" font-size="8.4" text-anchor="end" fill="#222">0.5</text>
<line x1="442.2" y1="400.8" x2="444.4" y2="400.8" stroke="#333" stroke-width="0.8"/>
<text x="442.1" y="402.9" font-size="8.4" text-anchor="end" fill="#222">0.3</text>
<line x1="442.2" y1="415.2" x2="444.4" y2="415.2" stroke="#333" stroke-width="0.8"/>
<text x="442.1" y="417.3" font-size="8.4" text-anchor="end" fill="#222">0.1</text>
<line x1="442.2" y1="379.2" x2="444.4" y2="379.2" stroke="#333" stroke-width="0.8"/>
<line x1="442.2" y1="393.6" x2="444.4" y2="393.6" stroke="#333" stroke-width="0.8"/>
<line x1="442.2" y1="408" x2="444.4" y2="408" stroke="#333" stroke-width="0.8"/>
<text x="0" y="-100" font-size="8" text-anchor="middle" font-weight="bold" fill="#222">Hits</text>
<text x="0" y="-100" font-size="8.1" text-anchor="end" font-weight="bold" fill="#1c9628">Enrichment</text>
<text x="0" y="-90.1" font-size="8.1" text-anchor="end" font-weight="bold" fill="#1c9628">Profile</text>
<rect x="444.4" y="435.4" width="3.2" height="24.7" fill="#dc1414"/>
<rect x="447" y="435.4" width="12.4" height="24.7" fill="#e84444"/>
<rect x="458.8" y="435.4" width="26.4" height="24.7" fill="#fb5858"/>
<rect x="484.6" y="435.4" width="18" height="24.7" fill="#fb6a7a"/>
<rect x="502" y="435.4" width="19.3" height="24.7" fill="#fd8282"/>
<rect x="520.7" y="435.4" width="17.4" height="24.7" fill="#ffbae0"/>
<rect x="537.5" y="435.4" width="5.8" height="24.7" fill="#dadaf8"/>
<rect x="542.7" y="435.4" width="5.9" height="24.7" fill="#cdc6f8"/>
<rect x="548" y="435.4" width="6.1" height="24.7" fill="#8a8af6"/>
<rect x="553.5" y="435.4" width="8.2" height="24.7" fill="#6656ea"/>
<rect x="561.1" y="435.4" width="4.3" height="24.7" fill="#2000c8"/>
<path d="M444.4 448.8L444.4 439.2L447 441.1L452 442.6L460 443.7L471 444.5L485 445.4L502 446.4L520 447.3L537 448.3L543 448.9L543 448.8Z" fill="#9e9e9e" stroke="#555" stroke-width="0.5"/>
<path d="M543 448.8L543 449L549 449.8L554 450.6L558 451.8L561 453.2L563.2 455.2L564.4 457.4L564.8 459.8L564.8 448.8Z" fill="#9e9e9e" stroke="#555" stroke-width="0.5"/>
<line x1="444.4" y1="448.8" x2="564.8" y2="448.8" stroke="#333" stroke-width="0.8"/>
<rect x="444.4" y="435.4" width="126.60000000000002" height="24.7" fill="none" stroke="#555" stroke-width="1"/>
<line x1="442.2" y1="437.7" x2="444.4" y2="437.7" stroke="#333" stroke-width="0.8"/>
<text x="442.1" y="439.9" font-size="8.4" text-anchor="end" fill="#222">0.4</text>
<line x1="442.2" y1="448.8" x2="444.4" y2="448.8" stroke="#333" stroke-width="0.8"/>
<text x="442.1" y="451" font-size="8.4" text-anchor="end" fill="#222">0</text>
<line x1="442.2" y1="459.2" x2="444.4" y2="459.2" stroke="#333" stroke-width="0.8"/>
<text x="442.1" y="461.4" font-size="8.4" text-anchor="end" fill="#222">-0.4</text>
<line x1="442.2" y1="443.25" x2="444.4" y2="443.25" stroke="#333" stroke-width="0.8"/>
<line x1="442.2" y1="454" x2="444.4" y2="454" stroke="#333" stroke-width="0.8"/>
<line x1="465" y1="460.1" x2="465" y2="461.6" stroke="#555" stroke-width="0.6"/>
<line x1="485.7" y1="460.1" x2="485.7" y2="461.6" stroke="#555" stroke-width="0.6"/>
<line x1="506.5" y1="460.1" x2="506.5" y2="461.6" stroke="#555" stroke-width="0.6"/>
<line x1="527.3" y1="460.1" x2="527.3" y2="461.6" stroke="#555" stroke-width="0.6"/>
<line x1="548" y1="460.1" x2="548" y2="461.6" stroke="#555" stroke-width="0.6"/>
<line x1="568.8" y1="460.1" x2="568.8" y2="461.6" stroke="#555" stroke-width="0.6"/>
<text x="445" y="434" font-size="8.1" font-weight="bold" fill="#d42020">Pos Correlation</text>
<text x="569.7" y="468.5" font-size="8.1" text-anchor="end" font-weight="bold" fill="#2a1fd0">Neg Correlation</text>
<text x="413.8" y="398.6" font-size="8.6" text-anchor="middle" fill="#222" transform="rotate(-90 413.8 398.6)">Enrichment</text>
<text x="422.6" y="398.6" font-size="8.6" text-anchor="middle" fill="#222" transform="rotate(-90 422.6 398.6)">score (ES)</text>
<text x="413.8" y="447.8" font-size="8.6" text-anchor="middle" fill="#222" transform="rotate(-90 413.8 447.8)">Ranked list</text>
<text x="422.6" y="447.8" font-size="8.6" text-anchor="middle" fill="#222" transform="rotate(-90 422.6 447.8)">Metric</text>
<text x="507.3" y="353.3" font-size="12.2" text-anchor="middle" fill="#222">Caspase Activation Via</text>
<text x="507.2" y="367.3" font-size="12.2" text-anchor="middle" fill="#222">Extrinsic Apopototic Signaling</text>
<text x="403.3" y="348.3" font-size="12" font-weight="bold">i</text>
</svg>
</body></html>
